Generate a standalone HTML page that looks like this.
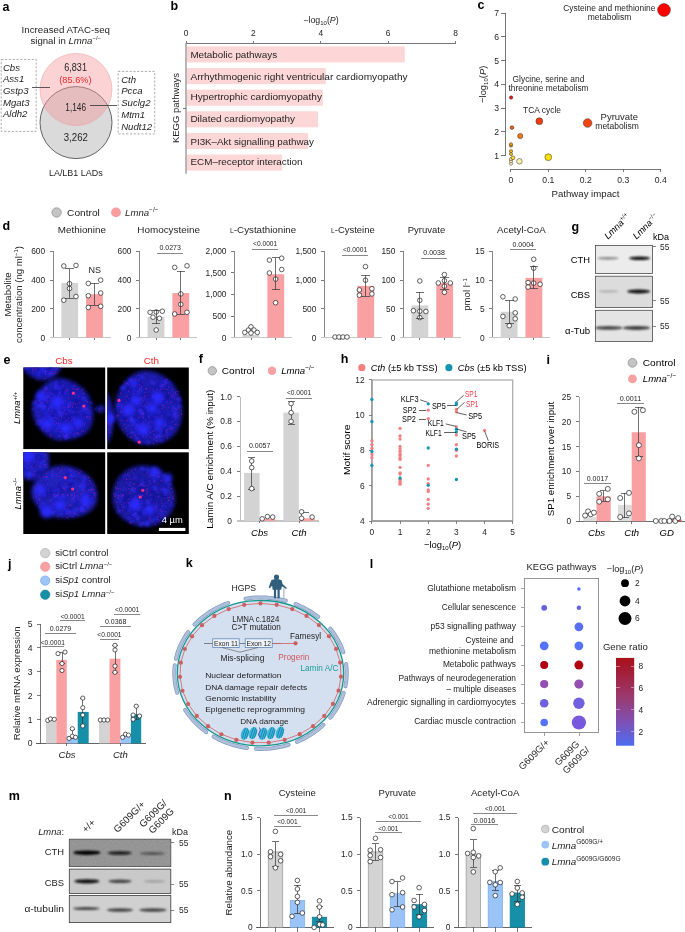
<!DOCTYPE html>
<html><head><meta charset="utf-8"><title>Figure</title>
<style>
html,body{margin:0;padding:0;background:#fff;}
svg{display:block;font-family:"Liberation Sans",sans-serif;will-change:transform;}
</style></head>
<body>
<svg width="685" height="932" viewBox="0 0 685 932">
<rect width="685" height="932" fill="#fff"/>
<text x="2.50" y="10.50" font-size="12.5" fill="#000" font-weight="bold">a</text>
<text x="65.80" y="32.80" font-size="9.6" text-anchor="middle" fill="#242424" textLength="88.4" lengthAdjust="spacingAndGlyphs">Increased ATAC-seq</text>
<text x="65.80" y="43.90" font-size="9.6" text-anchor="middle" fill="#242424">signal in <tspan font-style="italic">Lmna</tspan><tspan font-size="6" dy="-3.5">−/−</tspan></text>
<circle cx="76.00" cy="122.60" r="36.00" fill="#dadada" stroke="#555" stroke-width="0.9" />
<circle cx="76.00" cy="89.40" r="36.00" fill="rgba(248,150,152,0.42)" stroke="rgba(240,140,140,0.55)" stroke-width="0.8" />
<text x="75.60" y="70.60" font-size="10.4" text-anchor="middle" fill="#242424" textLength="22.7" lengthAdjust="spacingAndGlyphs">6,831</text>
<text x="75.40" y="82.60" font-size="9.8" text-anchor="middle" fill="#f3262c" textLength="32.2" lengthAdjust="spacingAndGlyphs">(85.6%)</text>
<text x="75.70" y="111.40" font-size="10.4" text-anchor="middle" fill="#242424" textLength="20.7" lengthAdjust="spacingAndGlyphs">1,146</text>
<text x="75.90" y="141.30" font-size="10.4" text-anchor="middle" fill="#242424" textLength="24.2" lengthAdjust="spacingAndGlyphs">3,262</text>
<rect x="1.2" y="59.5" width="35" height="71.9" fill="none" stroke="#8a8a8a" stroke-width="0.7" stroke-dasharray="2.2 1.6"/>
<rect x="118.2" y="71.4" width="36.5" height="62.5" fill="none" stroke="#8a8a8a" stroke-width="0.7" stroke-dasharray="2.2 1.6"/>
<text x="2.90" y="70.60" font-size="9.6" fill="#242424" font-style="italic">Cbs</text>
<text x="2.90" y="82.25" font-size="9.6" fill="#242424" font-style="italic">Ass1</text>
<text x="2.90" y="93.90" font-size="9.6" fill="#242424" font-style="italic">Gstp3</text>
<text x="2.90" y="105.55" font-size="9.6" fill="#242424" font-style="italic">Mgat3</text>
<text x="2.90" y="117.20" font-size="9.6" fill="#242424" font-style="italic">Aldh2</text>
<text x="121.20" y="82.50" font-size="9.6" fill="#242424" font-style="italic">Cth</text>
<text x="121.20" y="94.30" font-size="9.6" fill="#242424" font-style="italic">Pcca</text>
<text x="121.20" y="106.10" font-size="9.6" fill="#242424" font-style="italic">Suclg2</text>
<text x="121.20" y="117.90" font-size="9.6" fill="#242424" font-style="italic">Mtm1</text>
<text x="121.20" y="129.70" font-size="9.6" fill="#242424" font-style="italic">Nudt12</text>
<line x1="32.40" y1="87.00" x2="50.40" y2="87.00" stroke="#333" stroke-width="0.8"  shape-rendering="crispEdges"/>
<line x1="90.20" y1="105.10" x2="116.80" y2="105.10" stroke="#333" stroke-width="0.8"  shape-rendering="crispEdges"/>
<text x="75.80" y="176.10" font-size="9.0" text-anchor="middle" fill="#242424" textLength="53.7" lengthAdjust="spacingAndGlyphs">LA/LB1 LADs</text>
<text x="170.50" y="10.30" font-size="12.5" fill="#000" font-weight="bold">b</text>
<text x="321.00" y="22.70" font-size="8.8" text-anchor="middle" fill="#242424">−log<tspan font-size="6" dy="2">10</tspan><tspan dy="-2">(</tspan><tspan font-style="italic">P</tspan>)</text>
<text x="186.00" y="36.00" font-size="8.4" text-anchor="middle" fill="#242424">0</text>
<line x1="186.00" y1="41.00" x2="186.00" y2="43.00" stroke="#555" stroke-width="0.8"  shape-rendering="crispEdges"/>
<text x="253.40" y="36.00" font-size="8.4" text-anchor="middle" fill="#242424">2</text>
<line x1="253.40" y1="41.00" x2="253.40" y2="43.00" stroke="#555" stroke-width="0.8"  shape-rendering="crispEdges"/>
<text x="320.80" y="36.00" font-size="8.4" text-anchor="middle" fill="#242424">4</text>
<line x1="320.80" y1="41.00" x2="320.80" y2="43.00" stroke="#555" stroke-width="0.8"  shape-rendering="crispEdges"/>
<text x="388.20" y="36.00" font-size="8.4" text-anchor="middle" fill="#242424">6</text>
<line x1="388.20" y1="41.00" x2="388.20" y2="43.00" stroke="#555" stroke-width="0.8"  shape-rendering="crispEdges"/>
<text x="455.60" y="36.00" font-size="8.4" text-anchor="middle" fill="#242424">8</text>
<line x1="455.60" y1="41.00" x2="455.60" y2="43.00" stroke="#555" stroke-width="0.8"  shape-rendering="crispEdges"/>
<line x1="186.00" y1="43.00" x2="455.60" y2="43.00" stroke="#555" stroke-width="0.8"  shape-rendering="crispEdges"/>
<rect x="186.50" y="46.40" width="218.30" height="16.10" fill="#fdd7d8" />
<text x="190.40" y="57.80" font-size="9.6" fill="#242424" textLength="86.7" lengthAdjust="spacingAndGlyphs">Metabolic pathways</text>
<rect x="186.50" y="68.03" width="139.30" height="16.10" fill="#fdd7d8" />
<text x="190.40" y="79.90" font-size="9.6" fill="#242424" textLength="217.2" lengthAdjust="spacingAndGlyphs">Arrhythmogenic right ventricular cardiomyopathy</text>
<rect x="186.50" y="89.66" width="136.30" height="16.10" fill="#fdd7d8" />
<text x="190.40" y="99.50" font-size="9.6" fill="#242424" textLength="131.6" lengthAdjust="spacingAndGlyphs">Hypertrophic cardiomyopathy</text>
<rect x="186.50" y="111.29" width="131.60" height="16.10" fill="#fdd7d8" />
<text x="190.40" y="122.40" font-size="9.6" fill="#242424" textLength="104.7" lengthAdjust="spacingAndGlyphs">Dilated cardiomyopathy</text>
<rect x="186.50" y="132.92" width="121.60" height="16.10" fill="#fdd7d8" />
<text x="190.40" y="144.60" font-size="9.6" fill="#242424" textLength="123.4" lengthAdjust="spacingAndGlyphs">PI3K–Akt signalling pathway</text>
<rect x="186.50" y="154.55" width="95.40" height="16.10" fill="#fdd7d8" />
<text x="190.40" y="164.90" font-size="9.6" fill="#242424" textLength="112.2" lengthAdjust="spacingAndGlyphs">ECM–receptor interaction</text>
<line x1="186.00" y1="43.00" x2="186.00" y2="173.70" stroke="#9a9a9a" stroke-width="1.4" />
<line x1="183.00" y1="108.00" x2="186.00" y2="108.00" stroke="#555" stroke-width="0.8"  shape-rendering="crispEdges"/>
<text x="175.20" y="108.00" font-size="9.9" text-anchor="middle" fill="#242424" transform="rotate(-90 175.20 108.00)" textLength="70.0" lengthAdjust="spacingAndGlyphs" dominant-baseline="central">KEGG pathways</text>
<text x="477.50" y="9.40" font-size="12.5" fill="#000" font-weight="bold">c</text>
<line x1="505.60" y1="13.20" x2="505.60" y2="155.40" stroke="#555" stroke-width="0.8"  shape-rendering="crispEdges"/>
<line x1="500.60" y1="155.40" x2="505.60" y2="155.40" stroke="#555" stroke-width="0.8"  shape-rendering="crispEdges"/>
<text x="499.10" y="158.50" font-size="8.6" text-anchor="end" fill="#242424">1</text>
<line x1="500.60" y1="131.70" x2="505.60" y2="131.70" stroke="#555" stroke-width="0.8"  shape-rendering="crispEdges"/>
<text x="499.10" y="134.80" font-size="8.6" text-anchor="end" fill="#242424">2</text>
<line x1="500.60" y1="108.00" x2="505.60" y2="108.00" stroke="#555" stroke-width="0.8"  shape-rendering="crispEdges"/>
<text x="499.10" y="111.10" font-size="8.6" text-anchor="end" fill="#242424">3</text>
<line x1="500.60" y1="84.30" x2="505.60" y2="84.30" stroke="#555" stroke-width="0.8"  shape-rendering="crispEdges"/>
<text x="499.10" y="87.40" font-size="8.6" text-anchor="end" fill="#242424">4</text>
<line x1="500.60" y1="60.60" x2="505.60" y2="60.60" stroke="#555" stroke-width="0.8"  shape-rendering="crispEdges"/>
<text x="499.10" y="63.70" font-size="8.6" text-anchor="end" fill="#242424">5</text>
<line x1="500.60" y1="36.90" x2="505.60" y2="36.90" stroke="#555" stroke-width="0.8"  shape-rendering="crispEdges"/>
<text x="499.10" y="40.00" font-size="8.6" text-anchor="end" fill="#242424">6</text>
<line x1="500.60" y1="13.20" x2="505.60" y2="13.20" stroke="#555" stroke-width="0.8"  shape-rendering="crispEdges"/>
<text x="499.10" y="16.30" font-size="8.6" text-anchor="end" fill="#242424">7</text>
<line x1="510.90" y1="169.40" x2="660.70" y2="169.40" stroke="#555" stroke-width="0.8"  shape-rendering="crispEdges"/>
<line x1="510.90" y1="169.40" x2="510.90" y2="172.00" stroke="#555" stroke-width="0.8"  shape-rendering="crispEdges"/>
<text x="510.90" y="182.80" font-size="8.6" text-anchor="middle" fill="#242424">0</text>
<line x1="548.35" y1="169.40" x2="548.35" y2="172.00" stroke="#555" stroke-width="0.8"  shape-rendering="crispEdges"/>
<text x="548.35" y="182.80" font-size="8.6" text-anchor="middle" fill="#242424">0.1</text>
<line x1="585.80" y1="169.40" x2="585.80" y2="172.00" stroke="#555" stroke-width="0.8"  shape-rendering="crispEdges"/>
<text x="585.80" y="182.80" font-size="8.6" text-anchor="middle" fill="#242424">0.2</text>
<line x1="623.25" y1="169.40" x2="623.25" y2="172.00" stroke="#555" stroke-width="0.8"  shape-rendering="crispEdges"/>
<text x="623.25" y="182.80" font-size="8.6" text-anchor="middle" fill="#242424">0.3</text>
<line x1="660.70" y1="169.40" x2="660.70" y2="172.00" stroke="#555" stroke-width="0.8"  shape-rendering="crispEdges"/>
<text x="660.70" y="182.80" font-size="8.6" text-anchor="middle" fill="#242424">0.4</text>
<text x="585.50" y="196.90" font-size="9.4" text-anchor="middle" fill="#242424" textLength="68.0" lengthAdjust="spacingAndGlyphs">Pathway impact</text>
<text x="486.00" y="84.30" font-size="9.4" text-anchor="middle" fill="#242424" transform="rotate(-90 486.00 84.30)">−log<tspan font-size="6" dy="2">10</tspan><tspan dy="-2">(</tspan><tspan font-style="italic">P</tspan>)</text>
<circle cx="511.00" cy="163.60" r="1.60" fill="#fbf3c9" stroke="#3a2a20" stroke-width="0.5" />
<circle cx="511.00" cy="161.20" r="1.60" fill="#fbf0b8" stroke="#3a2a20" stroke-width="0.5" />
<circle cx="511.00" cy="159.00" r="1.60" fill="#f9eaa0" stroke="#3a2a20" stroke-width="0.5" />
<circle cx="513.00" cy="157.80" r="1.90" fill="#f5de2a" stroke="#3a2a20" stroke-width="0.5" />
<circle cx="511.00" cy="154.00" r="1.60" fill="#f5c51e" stroke="#3a2a20" stroke-width="0.5" />
<circle cx="511.00" cy="151.20" r="1.60" fill="#f5b81a" stroke="#3a2a20" stroke-width="0.5" />
<circle cx="511.00" cy="145.60" r="1.60" fill="#f0a318" stroke="#3a2a20" stroke-width="0.5" />
<circle cx="511.00" cy="144.30" r="1.60" fill="#ee9a18" stroke="#3a2a20" stroke-width="0.5" />
<circle cx="519.40" cy="161.30" r="2.80" fill="#f8f0b2" stroke="#3a2a20" stroke-width="0.5" />
<circle cx="548.30" cy="157.20" r="3.40" fill="#f8e000" stroke="#3a2a20" stroke-width="0.5" />
<circle cx="520.20" cy="136.00" r="2.60" fill="#f07818" stroke="#3a2a20" stroke-width="0.5" />
<circle cx="512.00" cy="127.60" r="1.90" fill="#ec5a1a" stroke="#3a2a20" stroke-width="0.5" />
<circle cx="539.30" cy="121.20" r="3.40" fill="#f03c12" stroke="#3a2a20" stroke-width="0.5" />
<circle cx="587.60" cy="123.00" r="4.30" fill="#f24512" stroke="#3a2a20" stroke-width="0.5" />
<circle cx="511.10" cy="97.50" r="1.70" fill="#e8191c" stroke="#3a2a20" stroke-width="0.5" />
<circle cx="664.00" cy="10.00" r="6.40" fill="#ff0000" stroke="#3a2a20" stroke-width="0.5" />
<text x="609.30" y="11.30" font-size="8.4" text-anchor="middle" fill="#242424" textLength="92.0" lengthAdjust="spacingAndGlyphs">Cysteine and methionine</text>
<text x="609.50" y="20.10" font-size="8.4" text-anchor="middle" fill="#242424" textLength="43.5" lengthAdjust="spacingAndGlyphs">metabolism</text>
<text x="512.60" y="81.90" font-size="8.4" fill="#242424">Glycine, serine and</text>
<text x="508.50" y="90.80" font-size="8.4" fill="#242424">threonine metabolism</text>
<text x="542.00" y="113.40" font-size="8.4" text-anchor="middle" fill="#242424" textLength="37.9" lengthAdjust="spacingAndGlyphs">TCA cycle</text>
<text x="600.60" y="120.00" font-size="8.4" fill="#242424" textLength="37.4" lengthAdjust="spacingAndGlyphs">Pyruvate</text>
<text x="595.30" y="129.20" font-size="8.4" fill="#242424" textLength="43.5" lengthAdjust="spacingAndGlyphs">metabolism</text>
<text x="2.50" y="230.20" font-size="12.5" fill="#000" font-weight="bold">d</text>
<circle cx="56.60" cy="212.50" r="4.70" fill="#c4c4c4" stroke="#8a8a8a" stroke-width="0.7" />
<text x="67.10" y="215.60" font-size="9.6" fill="#242424" textLength="32.7" lengthAdjust="spacingAndGlyphs">Control</text>
<circle cx="116.00" cy="212.40" r="4.90" fill="#fb9c9e" />
<text x="125.10" y="215.60" font-size="9.6" fill="#242424"><tspan font-style="italic">Lmna</tspan><tspan font-size="6.53" dy="-4.03">−/−</tspan></text>
<text x="11.40" y="294.50" font-size="9.6" text-anchor="middle" fill="#242424" transform="rotate(-90 11.40 294.50)">Metabolite</text>
<text x="21.80" y="294.50" font-size="9.6" text-anchor="middle" fill="#242424" transform="rotate(-90 21.80 294.50)">concentration (ng ml<tspan font-size="6" dy="-3.5">−1</tspan><tspan dy="3.5">)</tspan></text>
<text x="470.00" y="294.50" font-size="9.6" text-anchor="middle" fill="#242424" transform="rotate(-90 470.00 294.50)">pmol l<tspan font-size="6" dy="-3.5">−1</tspan></text>
<line x1="53.00" y1="251.40" x2="53.00" y2="337.60" stroke="#6a6a6a" stroke-width="0.8"  shape-rendering="crispEdges"/>
<line x1="49.80" y1="337.60" x2="53.00" y2="337.60" stroke="#555" stroke-width="0.8"  shape-rendering="crispEdges"/>
<text x="45.20" y="340.50" font-size="8.4" text-anchor="end" fill="#242424">0</text>
<line x1="49.80" y1="308.87" x2="53.00" y2="308.87" stroke="#555" stroke-width="0.8"  shape-rendering="crispEdges"/>
<text x="45.20" y="311.77" font-size="8.4" text-anchor="end" fill="#242424">200</text>
<line x1="49.80" y1="280.13" x2="53.00" y2="280.13" stroke="#555" stroke-width="0.8"  shape-rendering="crispEdges"/>
<text x="45.20" y="283.03" font-size="8.4" text-anchor="end" fill="#242424">400</text>
<line x1="49.80" y1="251.40" x2="53.00" y2="251.40" stroke="#555" stroke-width="0.8"  shape-rendering="crispEdges"/>
<text x="45.20" y="254.30" font-size="8.4" text-anchor="end" fill="#242424">600</text>
<line x1="49.50" y1="337.60" x2="110.80" y2="337.60" stroke="#c4c4c4" stroke-width="1.2"  shape-rendering="crispEdges"/>
<line x1="69.70" y1="337.60" x2="69.70" y2="340.10" stroke="#555" stroke-width="0.8"  shape-rendering="crispEdges"/>
<line x1="94.50" y1="337.60" x2="94.50" y2="340.10" stroke="#555" stroke-width="0.8"  shape-rendering="crispEdges"/>
<rect x="61.30" y="283.01" width="16.80" height="54.59" fill="#d3d3d3" />
<rect x="86.10" y="294.21" width="16.80" height="43.39" fill="#f9a0a2" />
<circle cx="63.80" cy="266.00" r="2.30" fill="#fff" stroke="#1e1e1e" stroke-width="0.7" />
<circle cx="76.00" cy="265.40" r="2.30" fill="#fff" stroke="#1e1e1e" stroke-width="0.7" />
<circle cx="69.50" cy="283.70" r="2.30" fill="#fff" stroke="#1e1e1e" stroke-width="0.7" />
<circle cx="69.50" cy="288.50" r="2.30" fill="#fff" stroke="#1e1e1e" stroke-width="0.7" />
<circle cx="63.80" cy="300.20" r="2.30" fill="#fff" stroke="#1e1e1e" stroke-width="0.7" />
<circle cx="76.00" cy="296.50" r="2.30" fill="#fff" stroke="#1e1e1e" stroke-width="0.7" />
<circle cx="88.30" cy="283.40" r="2.30" fill="#fff" stroke="#1e1e1e" stroke-width="0.7" />
<circle cx="100.70" cy="280.10" r="2.30" fill="#fff" stroke="#1e1e1e" stroke-width="0.7" />
<circle cx="88.30" cy="295.70" r="2.30" fill="#fff" stroke="#1e1e1e" stroke-width="0.7" />
<circle cx="100.70" cy="293.00" r="2.30" fill="#fff" stroke="#1e1e1e" stroke-width="0.7" />
<circle cx="88.30" cy="307.40" r="2.30" fill="#fff" stroke="#1e1e1e" stroke-width="0.7" />
<circle cx="100.70" cy="306.30" r="2.30" fill="#fff" stroke="#1e1e1e" stroke-width="0.7" />
<text x="81.90" y="233.30" font-size="9.3" text-anchor="middle" fill="#242424" textLength="48.2" lengthAdjust="spacingAndGlyphs">Methionine</text>
<text x="94.80" y="272.90" font-size="9.0" text-anchor="middle" fill="#242424">NS</text>
<line x1="69.50" y1="268.60" x2="69.50" y2="298.10" stroke="#333" stroke-width="0.7"  shape-rendering="crispEdges"/>
<line x1="65.20" y1="268.60" x2="73.80" y2="268.60" stroke="#333" stroke-width="0.7"  shape-rendering="crispEdges"/>
<line x1="65.20" y1="298.10" x2="73.80" y2="298.10" stroke="#333" stroke-width="0.7"  shape-rendering="crispEdges"/>
<line x1="94.40" y1="283.00" x2="94.40" y2="305.40" stroke="#333" stroke-width="0.7"  shape-rendering="crispEdges"/>
<line x1="90.10" y1="283.00" x2="98.70" y2="283.00" stroke="#333" stroke-width="0.7"  shape-rendering="crispEdges"/>
<line x1="90.10" y1="305.40" x2="98.70" y2="305.40" stroke="#333" stroke-width="0.7"  shape-rendering="crispEdges"/>
<line x1="139.30" y1="251.40" x2="139.30" y2="337.60" stroke="#6a6a6a" stroke-width="0.8"  shape-rendering="crispEdges"/>
<line x1="136.10" y1="337.60" x2="139.30" y2="337.60" stroke="#555" stroke-width="0.8"  shape-rendering="crispEdges"/>
<text x="131.50" y="340.50" font-size="8.4" text-anchor="end" fill="#242424">0</text>
<line x1="136.10" y1="308.87" x2="139.30" y2="308.87" stroke="#555" stroke-width="0.8"  shape-rendering="crispEdges"/>
<text x="131.50" y="311.77" font-size="8.4" text-anchor="end" fill="#242424">200</text>
<line x1="136.10" y1="280.13" x2="139.30" y2="280.13" stroke="#555" stroke-width="0.8"  shape-rendering="crispEdges"/>
<text x="131.50" y="283.03" font-size="8.4" text-anchor="end" fill="#242424">400</text>
<line x1="136.10" y1="251.40" x2="139.30" y2="251.40" stroke="#555" stroke-width="0.8"  shape-rendering="crispEdges"/>
<text x="131.50" y="254.30" font-size="8.4" text-anchor="end" fill="#242424">600</text>
<line x1="135.80" y1="337.60" x2="197.10" y2="337.60" stroke="#c4c4c4" stroke-width="1.2"  shape-rendering="crispEdges"/>
<line x1="156.00" y1="337.60" x2="156.00" y2="340.10" stroke="#555" stroke-width="0.8"  shape-rendering="crispEdges"/>
<line x1="180.80" y1="337.60" x2="180.80" y2="340.10" stroke="#555" stroke-width="0.8"  shape-rendering="crispEdges"/>
<rect x="147.60" y="316.91" width="16.80" height="20.69" fill="#d3d3d3" />
<rect x="172.40" y="293.06" width="16.80" height="44.54" fill="#f9a0a2" />
<circle cx="150.10" cy="312.30" r="2.30" fill="#fff" stroke="#1e1e1e" stroke-width="0.7" />
<circle cx="156.20" cy="312.00" r="2.30" fill="#fff" stroke="#1e1e1e" stroke-width="0.7" />
<circle cx="162.30" cy="311.20" r="2.30" fill="#fff" stroke="#1e1e1e" stroke-width="0.7" />
<circle cx="153.00" cy="317.20" r="2.30" fill="#fff" stroke="#1e1e1e" stroke-width="0.7" />
<circle cx="159.40" cy="318.30" r="2.30" fill="#fff" stroke="#1e1e1e" stroke-width="0.7" />
<circle cx="156.20" cy="330.00" r="2.30" fill="#fff" stroke="#1e1e1e" stroke-width="0.7" />
<circle cx="174.70" cy="267.40" r="2.30" fill="#fff" stroke="#1e1e1e" stroke-width="0.7" />
<circle cx="187.00" cy="265.80" r="2.30" fill="#fff" stroke="#1e1e1e" stroke-width="0.7" />
<circle cx="180.80" cy="293.90" r="2.30" fill="#fff" stroke="#1e1e1e" stroke-width="0.7" />
<circle cx="180.80" cy="304.30" r="2.30" fill="#fff" stroke="#1e1e1e" stroke-width="0.7" />
<circle cx="174.70" cy="314.00" r="2.30" fill="#fff" stroke="#1e1e1e" stroke-width="0.7" />
<circle cx="187.00" cy="312.30" r="2.30" fill="#fff" stroke="#1e1e1e" stroke-width="0.7" />
<text x="168.60" y="233.30" font-size="9.3" text-anchor="middle" fill="#242424" textLength="62.6" lengthAdjust="spacingAndGlyphs">Homocysteine</text>
<line x1="157.20" y1="253.20" x2="183.10" y2="253.20" stroke="#606060" stroke-width="0.75"  shape-rendering="crispEdges"/>
<text x="170.15" y="249.70" font-size="6.4" text-anchor="middle" fill="#242424" textLength="21.5" lengthAdjust="spacingAndGlyphs">0.0273</text>
<line x1="156.00" y1="310.00" x2="156.00" y2="323.60" stroke="#333" stroke-width="0.7"  shape-rendering="crispEdges"/>
<line x1="151.70" y1="310.00" x2="160.30" y2="310.00" stroke="#333" stroke-width="0.7"  shape-rendering="crispEdges"/>
<line x1="151.70" y1="323.60" x2="160.30" y2="323.60" stroke="#333" stroke-width="0.7"  shape-rendering="crispEdges"/>
<line x1="180.80" y1="271.40" x2="180.80" y2="314.40" stroke="#333" stroke-width="0.7"  shape-rendering="crispEdges"/>
<line x1="176.50" y1="271.40" x2="185.10" y2="271.40" stroke="#333" stroke-width="0.7"  shape-rendering="crispEdges"/>
<line x1="176.50" y1="314.40" x2="185.10" y2="314.40" stroke="#333" stroke-width="0.7"  shape-rendering="crispEdges"/>
<line x1="234.30" y1="251.40" x2="234.30" y2="337.60" stroke="#6a6a6a" stroke-width="0.8"  shape-rendering="crispEdges"/>
<line x1="231.10" y1="337.60" x2="234.30" y2="337.60" stroke="#555" stroke-width="0.8"  shape-rendering="crispEdges"/>
<text x="226.50" y="340.50" font-size="8.4" text-anchor="end" fill="#242424">0</text>
<line x1="231.10" y1="316.05" x2="234.30" y2="316.05" stroke="#555" stroke-width="0.8"  shape-rendering="crispEdges"/>
<text x="226.50" y="318.95" font-size="8.4" text-anchor="end" fill="#242424">500</text>
<line x1="231.10" y1="294.50" x2="234.30" y2="294.50" stroke="#555" stroke-width="0.8"  shape-rendering="crispEdges"/>
<text x="226.50" y="297.40" font-size="8.4" text-anchor="end" fill="#242424">1,000</text>
<line x1="231.10" y1="272.95" x2="234.30" y2="272.95" stroke="#555" stroke-width="0.8"  shape-rendering="crispEdges"/>
<text x="226.50" y="275.85" font-size="8.4" text-anchor="end" fill="#242424">1,500</text>
<line x1="231.10" y1="251.40" x2="234.30" y2="251.40" stroke="#555" stroke-width="0.8"  shape-rendering="crispEdges"/>
<text x="226.50" y="254.30" font-size="8.4" text-anchor="end" fill="#242424">2,000</text>
<line x1="230.80" y1="337.60" x2="292.10" y2="337.60" stroke="#c4c4c4" stroke-width="1.2"  shape-rendering="crispEdges"/>
<line x1="251.00" y1="337.60" x2="251.00" y2="340.10" stroke="#555" stroke-width="0.8"  shape-rendering="crispEdges"/>
<line x1="275.80" y1="337.60" x2="275.80" y2="340.10" stroke="#555" stroke-width="0.8"  shape-rendering="crispEdges"/>
<rect x="242.60" y="335.01" width="16.80" height="2.59" fill="#d3d3d3" />
<rect x="267.40" y="274.24" width="16.80" height="63.36" fill="#f9a0a2" />
<circle cx="244.80" cy="332.40" r="2.30" fill="#fff" stroke="#1e1e1e" stroke-width="0.7" />
<circle cx="248.50" cy="330.00" r="2.30" fill="#fff" stroke="#1e1e1e" stroke-width="0.7" />
<circle cx="251.00" cy="326.80" r="2.30" fill="#fff" stroke="#1e1e1e" stroke-width="0.7" />
<circle cx="254.00" cy="330.00" r="2.30" fill="#fff" stroke="#1e1e1e" stroke-width="0.7" />
<circle cx="257.30" cy="332.40" r="2.30" fill="#fff" stroke="#1e1e1e" stroke-width="0.7" />
<circle cx="251.00" cy="333.00" r="2.30" fill="#fff" stroke="#1e1e1e" stroke-width="0.7" />
<circle cx="269.40" cy="260.10" r="2.30" fill="#fff" stroke="#1e1e1e" stroke-width="0.7" />
<circle cx="281.70" cy="258.20" r="2.30" fill="#fff" stroke="#1e1e1e" stroke-width="0.7" />
<circle cx="269.40" cy="273.00" r="2.30" fill="#fff" stroke="#1e1e1e" stroke-width="0.7" />
<circle cx="281.70" cy="269.50" r="2.30" fill="#fff" stroke="#1e1e1e" stroke-width="0.7" />
<circle cx="275.60" cy="279.10" r="2.30" fill="#fff" stroke="#1e1e1e" stroke-width="0.7" />
<circle cx="275.60" cy="302.70" r="2.30" fill="#fff" stroke="#1e1e1e" stroke-width="0.7" />
<text x="263.10" y="233.30" font-size="9.3" text-anchor="middle" fill="#242424" textLength="66.2" lengthAdjust="spacingAndGlyphs"><tspan font-size="6.6">L</tspan>-Cystathionine</text>
<line x1="252.20" y1="249.40" x2="278.10" y2="249.40" stroke="#606060" stroke-width="0.75"  shape-rendering="crispEdges"/>
<text x="265.15" y="245.70" font-size="6.4" text-anchor="middle" fill="#242424" textLength="24.2" lengthAdjust="spacingAndGlyphs">&lt;0.0001</text>
<line x1="275.80" y1="257.70" x2="275.80" y2="289.90" stroke="#333" stroke-width="0.7"  shape-rendering="crispEdges"/>
<line x1="271.50" y1="257.70" x2="280.10" y2="257.70" stroke="#333" stroke-width="0.7"  shape-rendering="crispEdges"/>
<line x1="271.50" y1="289.90" x2="280.10" y2="289.90" stroke="#333" stroke-width="0.7"  shape-rendering="crispEdges"/>
<line x1="324.20" y1="251.40" x2="324.20" y2="337.60" stroke="#6a6a6a" stroke-width="0.8"  shape-rendering="crispEdges"/>
<line x1="321.00" y1="337.60" x2="324.20" y2="337.60" stroke="#555" stroke-width="0.8"  shape-rendering="crispEdges"/>
<text x="316.40" y="340.50" font-size="8.4" text-anchor="end" fill="#242424">0</text>
<line x1="321.00" y1="308.87" x2="324.20" y2="308.87" stroke="#555" stroke-width="0.8"  shape-rendering="crispEdges"/>
<text x="316.40" y="311.77" font-size="8.4" text-anchor="end" fill="#242424">500</text>
<line x1="321.00" y1="280.13" x2="324.20" y2="280.13" stroke="#555" stroke-width="0.8"  shape-rendering="crispEdges"/>
<text x="316.40" y="283.03" font-size="8.4" text-anchor="end" fill="#242424">1,000</text>
<line x1="321.00" y1="251.40" x2="324.20" y2="251.40" stroke="#555" stroke-width="0.8"  shape-rendering="crispEdges"/>
<text x="316.40" y="254.30" font-size="8.4" text-anchor="end" fill="#242424">1,500</text>
<line x1="320.70" y1="337.60" x2="382.00" y2="337.60" stroke="#c4c4c4" stroke-width="1.2"  shape-rendering="crispEdges"/>
<line x1="340.90" y1="337.60" x2="340.90" y2="340.10" stroke="#555" stroke-width="0.8"  shape-rendering="crispEdges"/>
<line x1="365.70" y1="337.60" x2="365.70" y2="340.10" stroke="#555" stroke-width="0.8"  shape-rendering="crispEdges"/>
<rect x="357.30" y="285.88" width="16.80" height="51.72" fill="#f9a0a2" />
<circle cx="335.00" cy="337.00" r="2.30" fill="#fff" stroke="#1e1e1e" stroke-width="0.7" />
<circle cx="339.00" cy="337.00" r="2.30" fill="#fff" stroke="#1e1e1e" stroke-width="0.7" />
<circle cx="343.00" cy="337.00" r="2.30" fill="#fff" stroke="#1e1e1e" stroke-width="0.7" />
<circle cx="347.00" cy="337.00" r="2.30" fill="#fff" stroke="#1e1e1e" stroke-width="0.7" />
<circle cx="365.50" cy="266.60" r="2.30" fill="#fff" stroke="#1e1e1e" stroke-width="0.7" />
<circle cx="365.50" cy="280.20" r="2.30" fill="#fff" stroke="#1e1e1e" stroke-width="0.7" />
<circle cx="359.40" cy="289.90" r="2.30" fill="#fff" stroke="#1e1e1e" stroke-width="0.7" />
<circle cx="371.90" cy="288.70" r="2.30" fill="#fff" stroke="#1e1e1e" stroke-width="0.7" />
<circle cx="359.40" cy="295.20" r="2.30" fill="#fff" stroke="#1e1e1e" stroke-width="0.7" />
<circle cx="371.90" cy="293.90" r="2.30" fill="#fff" stroke="#1e1e1e" stroke-width="0.7" />
<text x="352.90" y="233.30" font-size="9.3" text-anchor="middle" fill="#242424" textLength="43.8" lengthAdjust="spacingAndGlyphs"><tspan font-size="6.6">L</tspan>-Cysteine</text>
<line x1="342.10" y1="255.00" x2="368.00" y2="255.00" stroke="#606060" stroke-width="0.75"  shape-rendering="crispEdges"/>
<text x="355.05" y="251.80" font-size="6.4" text-anchor="middle" fill="#242424" textLength="24.2" lengthAdjust="spacingAndGlyphs">&lt;0.0001</text>
<line x1="365.70" y1="275.10" x2="365.70" y2="296.30" stroke="#333" stroke-width="0.7"  shape-rendering="crispEdges"/>
<line x1="361.40" y1="275.10" x2="370.00" y2="275.10" stroke="#333" stroke-width="0.7"  shape-rendering="crispEdges"/>
<line x1="361.40" y1="296.30" x2="370.00" y2="296.30" stroke="#333" stroke-width="0.7"  shape-rendering="crispEdges"/>
<line x1="403.20" y1="251.40" x2="403.20" y2="337.60" stroke="#6a6a6a" stroke-width="0.8"  shape-rendering="crispEdges"/>
<line x1="400.00" y1="337.60" x2="403.20" y2="337.60" stroke="#555" stroke-width="0.8"  shape-rendering="crispEdges"/>
<text x="395.40" y="340.50" font-size="8.4" text-anchor="end" fill="#242424">0</text>
<line x1="400.00" y1="308.87" x2="403.20" y2="308.87" stroke="#555" stroke-width="0.8"  shape-rendering="crispEdges"/>
<text x="395.40" y="311.77" font-size="8.4" text-anchor="end" fill="#242424">50</text>
<line x1="400.00" y1="280.13" x2="403.20" y2="280.13" stroke="#555" stroke-width="0.8"  shape-rendering="crispEdges"/>
<text x="395.40" y="283.03" font-size="8.4" text-anchor="end" fill="#242424">100</text>
<line x1="400.00" y1="251.40" x2="403.20" y2="251.40" stroke="#555" stroke-width="0.8"  shape-rendering="crispEdges"/>
<text x="395.40" y="254.30" font-size="8.4" text-anchor="end" fill="#242424">150</text>
<line x1="399.70" y1="337.60" x2="461.00" y2="337.60" stroke="#c4c4c4" stroke-width="1.2"  shape-rendering="crispEdges"/>
<line x1="419.90" y1="337.60" x2="419.90" y2="340.10" stroke="#555" stroke-width="0.8"  shape-rendering="crispEdges"/>
<line x1="444.70" y1="337.60" x2="444.70" y2="340.10" stroke="#555" stroke-width="0.8"  shape-rendering="crispEdges"/>
<rect x="411.50" y="305.42" width="16.80" height="32.18" fill="#d3d3d3" />
<rect x="436.30" y="283.01" width="16.80" height="54.59" fill="#f9a0a2" />
<circle cx="419.80" cy="281.00" r="2.30" fill="#fff" stroke="#1e1e1e" stroke-width="0.7" />
<circle cx="419.80" cy="300.30" r="2.30" fill="#fff" stroke="#1e1e1e" stroke-width="0.7" />
<circle cx="413.40" cy="310.70" r="2.30" fill="#fff" stroke="#1e1e1e" stroke-width="0.7" />
<circle cx="419.80" cy="311.20" r="2.30" fill="#fff" stroke="#1e1e1e" stroke-width="0.7" />
<circle cx="425.90" cy="311.50" r="2.30" fill="#fff" stroke="#1e1e1e" stroke-width="0.7" />
<circle cx="419.80" cy="317.60" r="2.30" fill="#fff" stroke="#1e1e1e" stroke-width="0.7" />
<circle cx="444.40" cy="274.60" r="2.30" fill="#fff" stroke="#1e1e1e" stroke-width="0.7" />
<circle cx="444.40" cy="280.70" r="2.30" fill="#fff" stroke="#1e1e1e" stroke-width="0.7" />
<circle cx="438.30" cy="283.00" r="2.30" fill="#fff" stroke="#1e1e1e" stroke-width="0.7" />
<circle cx="450.30" cy="283.00" r="2.30" fill="#fff" stroke="#1e1e1e" stroke-width="0.7" />
<circle cx="444.40" cy="286.20" r="2.30" fill="#fff" stroke="#1e1e1e" stroke-width="0.7" />
<circle cx="444.40" cy="292.30" r="2.30" fill="#fff" stroke="#1e1e1e" stroke-width="0.7" />
<text x="426.50" y="233.30" font-size="9.3" text-anchor="middle" fill="#242424" textLength="37.5" lengthAdjust="spacingAndGlyphs">Pyruvate</text>
<line x1="421.10" y1="258.50" x2="447.00" y2="258.50" stroke="#606060" stroke-width="0.75"  shape-rendering="crispEdges"/>
<text x="434.05" y="255.30" font-size="6.4" text-anchor="middle" fill="#242424" textLength="21.5" lengthAdjust="spacingAndGlyphs">0.0038</text>
<line x1="419.90" y1="292.30" x2="419.90" y2="318.30" stroke="#333" stroke-width="0.7"  shape-rendering="crispEdges"/>
<line x1="415.60" y1="292.30" x2="424.20" y2="292.30" stroke="#333" stroke-width="0.7"  shape-rendering="crispEdges"/>
<line x1="415.60" y1="318.30" x2="424.20" y2="318.30" stroke="#333" stroke-width="0.7"  shape-rendering="crispEdges"/>
<line x1="444.70" y1="277.00" x2="444.70" y2="289.40" stroke="#333" stroke-width="0.7"  shape-rendering="crispEdges"/>
<line x1="440.40" y1="277.00" x2="449.00" y2="277.00" stroke="#333" stroke-width="0.7"  shape-rendering="crispEdges"/>
<line x1="440.40" y1="289.40" x2="449.00" y2="289.40" stroke="#333" stroke-width="0.7"  shape-rendering="crispEdges"/>
<line x1="492.40" y1="251.40" x2="492.40" y2="337.60" stroke="#6a6a6a" stroke-width="0.8"  shape-rendering="crispEdges"/>
<line x1="489.20" y1="337.60" x2="492.40" y2="337.60" stroke="#555" stroke-width="0.8"  shape-rendering="crispEdges"/>
<text x="484.60" y="340.50" font-size="8.4" text-anchor="end" fill="#242424">0</text>
<line x1="489.20" y1="308.87" x2="492.40" y2="308.87" stroke="#555" stroke-width="0.8"  shape-rendering="crispEdges"/>
<text x="484.60" y="311.77" font-size="8.4" text-anchor="end" fill="#242424">5</text>
<line x1="489.20" y1="280.13" x2="492.40" y2="280.13" stroke="#555" stroke-width="0.8"  shape-rendering="crispEdges"/>
<text x="484.60" y="283.03" font-size="8.4" text-anchor="end" fill="#242424">10</text>
<line x1="489.20" y1="251.40" x2="492.40" y2="251.40" stroke="#555" stroke-width="0.8"  shape-rendering="crispEdges"/>
<text x="484.60" y="254.30" font-size="8.4" text-anchor="end" fill="#242424">15</text>
<line x1="488.90" y1="337.60" x2="550.20" y2="337.60" stroke="#c4c4c4" stroke-width="1.2"  shape-rendering="crispEdges"/>
<line x1="509.10" y1="337.60" x2="509.10" y2="340.10" stroke="#555" stroke-width="0.8"  shape-rendering="crispEdges"/>
<line x1="533.90" y1="337.60" x2="533.90" y2="340.10" stroke="#555" stroke-width="0.8"  shape-rendering="crispEdges"/>
<rect x="500.70" y="311.74" width="16.80" height="25.86" fill="#d3d3d3" />
<rect x="525.50" y="277.83" width="16.80" height="59.77" fill="#f9a0a2" />
<circle cx="502.90" cy="296.80" r="2.30" fill="#fff" stroke="#1e1e1e" stroke-width="0.7" />
<circle cx="515.20" cy="299.00" r="2.30" fill="#fff" stroke="#1e1e1e" stroke-width="0.7" />
<circle cx="515.20" cy="312.80" r="2.30" fill="#fff" stroke="#1e1e1e" stroke-width="0.7" />
<circle cx="502.90" cy="316.40" r="2.30" fill="#fff" stroke="#1e1e1e" stroke-width="0.7" />
<circle cx="515.20" cy="318.80" r="2.30" fill="#fff" stroke="#1e1e1e" stroke-width="0.7" />
<circle cx="509.30" cy="325.70" r="2.30" fill="#fff" stroke="#1e1e1e" stroke-width="0.7" />
<circle cx="533.70" cy="259.30" r="2.30" fill="#fff" stroke="#1e1e1e" stroke-width="0.7" />
<circle cx="533.70" cy="268.20" r="2.30" fill="#fff" stroke="#1e1e1e" stroke-width="0.7" />
<circle cx="528.10" cy="282.60" r="2.30" fill="#fff" stroke="#1e1e1e" stroke-width="0.7" />
<circle cx="533.70" cy="283.10" r="2.30" fill="#fff" stroke="#1e1e1e" stroke-width="0.7" />
<circle cx="540.10" cy="284.20" r="2.30" fill="#fff" stroke="#1e1e1e" stroke-width="0.7" />
<circle cx="528.10" cy="287.10" r="2.30" fill="#fff" stroke="#1e1e1e" stroke-width="0.7" />
<text x="521.40" y="233.30" font-size="9.3" text-anchor="middle" fill="#242424" textLength="48.6" lengthAdjust="spacingAndGlyphs">Acetyl-CoA</text>
<line x1="510.30" y1="249.90" x2="536.20" y2="249.90" stroke="#606060" stroke-width="0.75"  shape-rendering="crispEdges"/>
<text x="523.25" y="246.50" font-size="6.4" text-anchor="middle" fill="#242424" textLength="21.5" lengthAdjust="spacingAndGlyphs">0.0004</text>
<line x1="509.30" y1="300.30" x2="509.30" y2="323.60" stroke="#333" stroke-width="0.7"  shape-rendering="crispEdges"/>
<line x1="505.00" y1="300.30" x2="513.60" y2="300.30" stroke="#333" stroke-width="0.7"  shape-rendering="crispEdges"/>
<line x1="505.00" y1="323.60" x2="513.60" y2="323.60" stroke="#333" stroke-width="0.7"  shape-rendering="crispEdges"/>
<line x1="533.90" y1="266.30" x2="533.90" y2="288.70" stroke="#333" stroke-width="0.7"  shape-rendering="crispEdges"/>
<line x1="529.60" y1="266.30" x2="538.20" y2="266.30" stroke="#333" stroke-width="0.7"  shape-rendering="crispEdges"/>
<line x1="529.60" y1="288.70" x2="538.20" y2="288.70" stroke="#333" stroke-width="0.7"  shape-rendering="crispEdges"/>
<defs>
<filter id="bl1" x="-50%" y="-50%" width="200%" height="200%"><feGaussianBlur stdDeviation="1.1"/></filter>
<filter id="bl2" x="-50%" y="-50%" width="200%" height="200%"><feGaussianBlur stdDeviation="2.2"/></filter>
<filter id="bl3" x="-50%" y="-50%" width="200%" height="200%"><feGaussianBlur stdDeviation="4"/></filter>
<filter id="bl05" x="-50%" y="-50%" width="200%" height="200%"><feGaussianBlur stdDeviation="0.6"/></filter>
<clipPath id="e1"><rect x="23.3" y="367.5" width="81.9" height="81.6"/></clipPath>
<clipPath id="e2"><rect x="107.2" y="367.5" width="81.6" height="81.6"/></clipPath>
<clipPath id="e3"><rect x="23.3" y="452.3" width="81.9" height="81.7"/></clipPath>
<clipPath id="e4"><rect x="107.2" y="452.3" width="81.6" height="81.7"/></clipPath>
<linearGradient id="gr" x1="0" y1="0" x2="0" y2="1">
<stop offset="0" stop-color="#a80f1a"/><stop offset="0.45" stop-color="#9a3a70"/><stop offset="0.75" stop-color="#7b52b8"/><stop offset="1" stop-color="#4d6cf2"/>
</linearGradient>
</defs>
<text x="3.50" y="364.00" font-size="12.5" fill="#000" font-weight="bold">e</text>
<text x="63.90" y="363.70" font-size="9.8" text-anchor="middle" fill="#ff2626">Cbs</text>
<text x="151.40" y="363.70" font-size="9.8" text-anchor="middle" fill="#ff2626">Cth</text>
<text x="20.40" y="408.00" font-size="9.4" text-anchor="middle" transform="rotate(-90 20.40 408.00)"><tspan font-style="italic">Lmna</tspan><tspan font-size="6" dy="-3.5">+/+</tspan></text>
<text x="20.90" y="493.50" font-size="9.4" text-anchor="middle" transform="rotate(-90 20.90 493.50)"><tspan font-style="italic">Lmna</tspan><tspan font-size="6" dy="-3.5">−/−</tspan></text>
<rect x="23.3" y="367.5" width="81.9" height="81.6" fill="#000"/>
<g clip-path="url(#e1)">
<path d="M60.8,362.0 L60.9,366.1 L59.7,370.1 L57.3,373.6 L54.1,376.4 L50.4,378.6 L46.3,379.8 L42.0,380.0 L37.9,379.2 L34.0,377.7 L30.5,375.6 L27.3,373.1 L24.8,369.9 L23.4,366.0 L23.1,362.0 L23.7,358.1 L25.0,354.2 L27.0,350.6 L29.9,347.6 L33.5,345.4 L37.7,344.2 L42.0,343.8 L46.3,344.3 L50.3,345.7 L53.7,348.1 L56.3,351.2 L58.2,354.6 L59.8,358.2Z" fill="#2222c8" filter="url(#bl2)"/>
<path d="M92.8,410.0 L93.2,416.9 L92.0,424.0 L88.5,430.4 L83.0,435.0 L76.4,437.8 L69.7,439.3 L63.0,439.9 L56.3,439.4 L49.9,437.2 L44.4,433.3 L39.8,428.5 L36.1,423.0 L33.3,416.8 L32.3,410.0 L33.3,403.2 L35.8,396.9 L39.3,391.1 L43.6,385.7 L49.1,381.1 L55.8,378.5 L63.0,378.5 L69.8,380.4 L75.8,383.4 L81.2,387.1 L85.9,391.8 L89.3,397.3 L91.5,403.5Z" fill="#1e1eb8" filter="url(#bl2)"/>
<path d="M106.0,409.0 L105.9,409.8 L105.5,410.5 L104.9,411.2 L104.1,411.7 L103.2,412.2 L102.1,412.4 L101.0,412.5 L99.9,412.4 L98.8,412.2 L97.9,411.7 L97.1,411.2 L96.5,410.5 L96.1,409.8 L96.0,409.0 L96.1,408.2 L96.5,407.5 L97.1,406.8 L97.9,406.3 L98.8,405.8 L99.9,405.6 L101.0,405.5 L102.1,405.6 L103.2,405.8 L104.1,406.3 L104.9,406.8 L105.5,407.5 L105.9,408.2Z" fill="#1a1aa0" filter="url(#bl2)"/>
<circle cx="38.8" cy="368.0" r="1.3" fill="#12128a" opacity="0.55" filter="url(#bl1)"/>
<circle cx="31.3" cy="359.7" r="2.5" fill="#12128a" opacity="0.55" filter="url(#bl1)"/>
<circle cx="43.2" cy="366.9" r="1.3" fill="#3232ff" opacity="0.55" filter="url(#bl1)"/>
<circle cx="52.0" cy="368.1" r="1.4" fill="#1c1cb0" opacity="0.55" filter="url(#bl1)"/>
<circle cx="44.4" cy="375.5" r="2.0" fill="#12128a" opacity="0.55" filter="url(#bl1)"/>
<circle cx="27.7" cy="372.3" r="2.0" fill="#12128a" opacity="0.55" filter="url(#bl1)"/>
<circle cx="49.9" cy="370.3" r="1.4" fill="#1c1cb0" opacity="0.55" filter="url(#bl1)"/>
<circle cx="36.1" cy="376.6" r="1.3" fill="#161696" opacity="0.55" filter="url(#bl1)"/>
<circle cx="34.9" cy="358.8" r="2.0" fill="#12128a" opacity="0.55" filter="url(#bl1)"/>
<circle cx="46.1" cy="363.6" r="1.9" fill="#161696" opacity="0.55" filter="url(#bl1)"/>
<circle cx="26.3" cy="359.0" r="2.0" fill="#3232ff" opacity="0.55" filter="url(#bl1)"/>
<circle cx="32.5" cy="364.7" r="2.2" fill="#161696" opacity="0.55" filter="url(#bl1)"/>
<circle cx="42.5" cy="375.1" r="1.9" fill="#1c1cb0" opacity="0.55" filter="url(#bl1)"/>
<circle cx="35.2" cy="371.6" r="2.6" fill="#1c1cb0" opacity="0.55" filter="url(#bl1)"/>
<circle cx="50.7" cy="369.5" r="1.4" fill="#2c2cf0" opacity="0.55" filter="url(#bl1)"/>
<circle cx="38.4" cy="362.2" r="2.3" fill="#12128a" opacity="0.55" filter="url(#bl1)"/>
<circle cx="26.7" cy="354.8" r="1.7" fill="#2c2cf0" opacity="0.55" filter="url(#bl1)"/>
<circle cx="34.4" cy="371.8" r="1.3" fill="#3232ff" opacity="0.55" filter="url(#bl1)"/>
<circle cx="49.9" cy="367.0" r="1.3" fill="#12128a" opacity="0.55" filter="url(#bl1)"/>
<circle cx="37.6" cy="348.8" r="1.6" fill="#3232ff" opacity="0.55" filter="url(#bl1)"/>
<circle cx="30.8" cy="371.3" r="2.5" fill="#12128a" opacity="0.55" filter="url(#bl1)"/>
<circle cx="33.2" cy="372.6" r="1.3" fill="#3232ff" opacity="0.55" filter="url(#bl1)"/>
<circle cx="42.7" cy="355.8" r="1.8" fill="#161696" opacity="0.55" filter="url(#bl1)"/>
<circle cx="53.1" cy="355.9" r="1.8" fill="#161696" opacity="0.55" filter="url(#bl1)"/>
<circle cx="25.7" cy="357.0" r="2.4" fill="#3232ff" opacity="0.55" filter="url(#bl1)"/>
<circle cx="39.9" cy="372.9" r="2.2" fill="#2c2cf0" opacity="0.55" filter="url(#bl1)"/>
<circle cx="35.6" cy="367.7" r="1.4" fill="#12128a" opacity="0.55" filter="url(#bl1)"/>
<circle cx="43.0" cy="370.3" r="2.4" fill="#3232ff" opacity="0.55" filter="url(#bl1)"/>
<circle cx="46.0" cy="370.4" r="1.8" fill="#161696" opacity="0.55" filter="url(#bl1)"/>
<circle cx="32.7" cy="371.5" r="2.2" fill="#161696" opacity="0.55" filter="url(#bl1)"/>
<circle cx="27.7" cy="360.7" r="1.8" fill="#12128a" opacity="0.55" filter="url(#bl1)"/>
<circle cx="54.2" cy="349.8" r="1.7" fill="#1c1cb0" opacity="0.55" filter="url(#bl1)"/>
<circle cx="37.3" cy="365.3" r="1.3" fill="#3232ff" opacity="0.55" filter="url(#bl1)"/>
<circle cx="49.6" cy="365.2" r="1.4" fill="#161696" opacity="0.55" filter="url(#bl1)"/>
<circle cx="37.3" cy="358.7" r="1.4" fill="#1c1cb0" opacity="0.55" filter="url(#bl1)"/>
<circle cx="50.8" cy="368.2" r="1.3" fill="#12128a" opacity="0.55" filter="url(#bl1)"/>
<circle cx="44.9" cy="372.2" r="2.5" fill="#2c2cf0" opacity="0.55" filter="url(#bl1)"/>
<circle cx="32.0" cy="354.9" r="2.4" fill="#12128a" opacity="0.55" filter="url(#bl1)"/>
<circle cx="54.4" cy="361.5" r="1.6" fill="#3232ff" opacity="0.55" filter="url(#bl1)"/>
<circle cx="51.7" cy="373.8" r="1.9" fill="#2c2cf0" opacity="0.55" filter="url(#bl1)"/>
<circle cx="37.3" cy="350.4" r="2.5" fill="#161696" opacity="0.55" filter="url(#bl1)"/>
<circle cx="35.1" cy="360.8" r="2.5" fill="#1c1cb0" opacity="0.55" filter="url(#bl1)"/>
<circle cx="42.5" cy="352.6" r="2.2" fill="#12128a" opacity="0.55" filter="url(#bl1)"/>
<circle cx="41.2" cy="372.4" r="1.7" fill="#161696" opacity="0.55" filter="url(#bl1)"/>
<circle cx="44.3" cy="374.5" r="1.7" fill="#1c1cb0" opacity="0.55" filter="url(#bl1)"/>
<circle cx="44.8" cy="377.3" r="2.3" fill="#161696" opacity="0.55" filter="url(#bl1)"/>
<circle cx="48.5" cy="348.5" r="1.5" fill="#161696" opacity="0.55" filter="url(#bl1)"/>
<circle cx="26.4" cy="362.7" r="2.3" fill="#12128a" opacity="0.55" filter="url(#bl1)"/>
<circle cx="34.1" cy="363.3" r="2.5" fill="#1c1cb0" opacity="0.55" filter="url(#bl1)"/>
<circle cx="25.3" cy="367.4" r="2.5" fill="#2c2cf0" opacity="0.55" filter="url(#bl1)"/>
<circle cx="36.4" cy="368.1" r="1.9" fill="#161696" opacity="0.55" filter="url(#bl1)"/>
<circle cx="35.4" cy="372.2" r="2.4" fill="#1c1cb0" opacity="0.55" filter="url(#bl1)"/>
<circle cx="27.4" cy="363.8" r="2.4" fill="#12128a" opacity="0.55" filter="url(#bl1)"/>
<circle cx="50.3" cy="369.4" r="1.9" fill="#161696" opacity="0.55" filter="url(#bl1)"/>
<circle cx="49.0" cy="375.8" r="1.3" fill="#2c2cf0" opacity="0.55" filter="url(#bl1)"/>
<circle cx="56.6" cy="357.1" r="1.8" fill="#3232ff" opacity="0.55" filter="url(#bl1)"/>
<circle cx="56.7" cy="357.2" r="2.6" fill="#161696" opacity="0.55" filter="url(#bl1)"/>
<rect x="56.0" y="364.3" width="0.9" height="0.9" fill="#9a1cc0" opacity="0.85"/>
<rect x="27.4" y="365.1" width="0.9" height="0.9" fill="#9a1cc0" opacity="0.85"/>
<rect x="31.1" y="353.3" width="0.9" height="0.9" fill="#9a1cc0" opacity="0.85"/>
<rect x="24.3" y="364.7" width="0.9" height="0.9" fill="#9a1cc0" opacity="0.85"/>
<rect x="49.6" y="372.8" width="0.9" height="0.9" fill="#9a1cc0" opacity="0.85"/>
<rect x="58.4" y="364.1" width="0.9" height="0.9" fill="#9a1cc0" opacity="0.85"/>
<rect x="41.1" y="356.4" width="0.9" height="0.9" fill="#9a1cc0" opacity="0.85"/>
<rect x="42.0" y="355.5" width="0.9" height="0.9" fill="#9a1cc0" opacity="0.85"/>
<rect x="50.1" y="361.3" width="0.9" height="0.9" fill="#9a1cc0" opacity="0.85"/>
<rect x="44.2" y="359.9" width="0.9" height="0.9" fill="#9a1cc0" opacity="0.85"/>
<rect x="45.0" y="374.1" width="0.9" height="0.9" fill="#9a1cc0" opacity="0.85"/>
<rect x="42.9" y="352.0" width="0.9" height="0.9" fill="#9a1cc0" opacity="0.85"/>
<rect x="25.7" y="357.6" width="0.9" height="0.9" fill="#9a1cc0" opacity="0.85"/>
<rect x="56.8" y="367.6" width="0.9" height="0.9" fill="#9a1cc0" opacity="0.85"/>
<rect x="54.1" y="353.4" width="0.9" height="0.9" fill="#9a1cc0" opacity="0.85"/>
<rect x="47.3" y="350.4" width="0.9" height="0.9" fill="#9a1cc0" opacity="0.85"/>
<rect x="50.1" y="347.5" width="0.9" height="0.9" fill="#9a1cc0" opacity="0.85"/>
<rect x="46.9" y="367.0" width="0.9" height="0.9" fill="#9a1cc0" opacity="0.85"/>
<rect x="24.7" y="360.9" width="0.9" height="0.9" fill="#9a1cc0" opacity="0.85"/>
<rect x="44.4" y="348.5" width="0.9" height="0.9" fill="#9a1cc0" opacity="0.85"/>
<rect x="43.2" y="355.3" width="0.9" height="0.9" fill="#9a1cc0" opacity="0.85"/>
<rect x="51.2" y="372.7" width="0.9" height="0.9" fill="#9a1cc0" opacity="0.85"/>
<rect x="45.3" y="365.0" width="0.9" height="0.9" fill="#9a1cc0" opacity="0.85"/>
<rect x="36.4" y="350.4" width="0.9" height="0.9" fill="#9a1cc0" opacity="0.85"/>
<rect x="25.8" y="363.7" width="0.9" height="0.9" fill="#9a1cc0" opacity="0.85"/>
<rect x="45.3" y="359.2" width="0.9" height="0.9" fill="#9a1cc0" opacity="0.85"/>
<rect x="43.4" y="365.4" width="0.9" height="0.9" fill="#9a1cc0" opacity="0.85"/>
<rect x="52.2" y="368.8" width="0.9" height="0.9" fill="#9a1cc0" opacity="0.85"/>
<rect x="59.2" y="364.9" width="0.9" height="0.9" fill="#9a1cc0" opacity="0.85"/>
<rect x="51.7" y="365.9" width="0.9" height="0.9" fill="#9a1cc0" opacity="0.85"/>
<rect x="56.2" y="359.7" width="0.9" height="0.9" fill="#9a1cc0" opacity="0.85"/>
<rect x="45.0" y="370.8" width="0.9" height="0.9" fill="#9a1cc0" opacity="0.85"/>
<rect x="25.4" y="361.2" width="0.9" height="0.9" fill="#9a1cc0" opacity="0.85"/>
<rect x="32.8" y="361.6" width="0.9" height="0.9" fill="#9a1cc0" opacity="0.85"/>
<rect x="24.9" y="359.6" width="0.9" height="0.9" fill="#9a1cc0" opacity="0.85"/>
<rect x="58.0" y="354.6" width="0.9" height="0.9" fill="#9a1cc0" opacity="0.85"/>
<rect x="48.5" y="357.1" width="0.9" height="0.9" fill="#9a1cc0" opacity="0.85"/>
<rect x="30.7" y="365.7" width="0.9" height="0.9" fill="#9a1cc0" opacity="0.85"/>
<rect x="33.9" y="368.2" width="0.9" height="0.9" fill="#9a1cc0" opacity="0.85"/>
<rect x="36.2" y="351.9" width="0.9" height="0.9" fill="#9a1cc0" opacity="0.85"/>
<rect x="44.4" y="371.4" width="0.9" height="0.9" fill="#9a1cc0" opacity="0.85"/>
<rect x="53.7" y="372.8" width="0.9" height="0.9" fill="#9a1cc0" opacity="0.85"/>
<rect x="55.8" y="356.8" width="0.9" height="0.9" fill="#9a1cc0" opacity="0.85"/>
<rect x="35.8" y="368.6" width="0.9" height="0.9" fill="#9a1cc0" opacity="0.85"/>
<rect x="50.2" y="371.1" width="0.9" height="0.9" fill="#9a1cc0" opacity="0.85"/>
<rect x="41.9" y="356.6" width="0.9" height="0.9" fill="#9a1cc0" opacity="0.85"/>
<rect x="47.6" y="357.3" width="0.9" height="0.9" fill="#9a1cc0" opacity="0.85"/>
<rect x="37.7" y="354.8" width="0.9" height="0.9" fill="#9a1cc0" opacity="0.85"/>
<rect x="37.0" y="345.2" width="0.9" height="0.9" fill="#9a1cc0" opacity="0.85"/>
<rect x="32.1" y="368.5" width="0.9" height="0.9" fill="#9a1cc0" opacity="0.85"/>
<rect x="38.5" y="366.2" width="0.9" height="0.9" fill="#9a1cc0" opacity="0.85"/>
<rect x="34.8" y="369.6" width="0.9" height="0.9" fill="#9a1cc0" opacity="0.85"/>
<rect x="27.0" y="365.8" width="0.9" height="0.9" fill="#9a1cc0" opacity="0.85"/>
<rect x="32.0" y="370.4" width="0.9" height="0.9" fill="#9a1cc0" opacity="0.85"/>
<rect x="36.9" y="378.5" width="0.9" height="0.9" fill="#9a1cc0" opacity="0.85"/>
<rect x="55.5" y="372.9" width="0.9" height="0.9" fill="#9a1cc0" opacity="0.85"/>
<rect x="44.3" y="378.3" width="0.9" height="0.9" fill="#9a1cc0" opacity="0.85"/>
<circle cx="76.2" cy="417.7" r="1.6" fill="#161696" opacity="0.55" filter="url(#bl1)"/>
<circle cx="76.1" cy="423.8" r="1.8" fill="#2c2cf0" opacity="0.55" filter="url(#bl1)"/>
<circle cx="42.6" cy="405.2" r="2.2" fill="#3232ff" opacity="0.55" filter="url(#bl1)"/>
<circle cx="68.9" cy="413.7" r="1.8" fill="#161696" opacity="0.55" filter="url(#bl1)"/>
<circle cx="88.5" cy="422.5" r="2.3" fill="#12128a" opacity="0.55" filter="url(#bl1)"/>
<circle cx="86.4" cy="423.6" r="1.6" fill="#12128a" opacity="0.55" filter="url(#bl1)"/>
<circle cx="65.3" cy="412.2" r="1.8" fill="#1c1cb0" opacity="0.55" filter="url(#bl1)"/>
<circle cx="82.9" cy="398.3" r="1.9" fill="#12128a" opacity="0.55" filter="url(#bl1)"/>
<circle cx="63.7" cy="419.7" r="1.6" fill="#161696" opacity="0.55" filter="url(#bl1)"/>
<circle cx="74.8" cy="435.6" r="1.9" fill="#2c2cf0" opacity="0.55" filter="url(#bl1)"/>
<circle cx="68.3" cy="428.8" r="1.6" fill="#161696" opacity="0.55" filter="url(#bl1)"/>
<circle cx="72.7" cy="382.5" r="1.2" fill="#12128a" opacity="0.55" filter="url(#bl1)"/>
<circle cx="60.7" cy="388.4" r="1.9" fill="#161696" opacity="0.55" filter="url(#bl1)"/>
<circle cx="63.5" cy="429.6" r="2.1" fill="#3232ff" opacity="0.55" filter="url(#bl1)"/>
<circle cx="36.6" cy="402.2" r="1.6" fill="#1c1cb0" opacity="0.55" filter="url(#bl1)"/>
<circle cx="66.0" cy="423.7" r="2.4" fill="#161696" opacity="0.55" filter="url(#bl1)"/>
<circle cx="56.7" cy="387.5" r="2.6" fill="#3232ff" opacity="0.55" filter="url(#bl1)"/>
<circle cx="89.6" cy="407.0" r="1.3" fill="#12128a" opacity="0.55" filter="url(#bl1)"/>
<circle cx="62.2" cy="395.2" r="1.3" fill="#161696" opacity="0.55" filter="url(#bl1)"/>
<circle cx="53.8" cy="394.4" r="2.1" fill="#1c1cb0" opacity="0.55" filter="url(#bl1)"/>
<circle cx="60.1" cy="424.1" r="1.3" fill="#2c2cf0" opacity="0.55" filter="url(#bl1)"/>
<circle cx="69.0" cy="423.9" r="1.6" fill="#12128a" opacity="0.55" filter="url(#bl1)"/>
<circle cx="91.0" cy="403.1" r="1.7" fill="#1c1cb0" opacity="0.55" filter="url(#bl1)"/>
<circle cx="89.8" cy="415.9" r="1.7" fill="#161696" opacity="0.55" filter="url(#bl1)"/>
<circle cx="81.1" cy="410.1" r="1.6" fill="#3232ff" opacity="0.55" filter="url(#bl1)"/>
<circle cx="54.9" cy="397.9" r="1.3" fill="#12128a" opacity="0.55" filter="url(#bl1)"/>
<circle cx="67.5" cy="399.9" r="1.3" fill="#1c1cb0" opacity="0.55" filter="url(#bl1)"/>
<circle cx="79.0" cy="412.3" r="1.3" fill="#161696" opacity="0.55" filter="url(#bl1)"/>
<circle cx="89.1" cy="402.9" r="2.1" fill="#161696" opacity="0.55" filter="url(#bl1)"/>
<circle cx="57.2" cy="383.2" r="2.3" fill="#3232ff" opacity="0.55" filter="url(#bl1)"/>
<circle cx="59.2" cy="389.8" r="2.2" fill="#2c2cf0" opacity="0.55" filter="url(#bl1)"/>
<circle cx="59.2" cy="405.2" r="2.1" fill="#1c1cb0" opacity="0.55" filter="url(#bl1)"/>
<circle cx="60.3" cy="383.8" r="2.5" fill="#161696" opacity="0.55" filter="url(#bl1)"/>
<circle cx="63.4" cy="387.9" r="2.4" fill="#12128a" opacity="0.55" filter="url(#bl1)"/>
<circle cx="39.1" cy="396.1" r="1.3" fill="#161696" opacity="0.55" filter="url(#bl1)"/>
<circle cx="85.5" cy="416.1" r="1.7" fill="#12128a" opacity="0.55" filter="url(#bl1)"/>
<circle cx="56.7" cy="412.0" r="2.1" fill="#12128a" opacity="0.55" filter="url(#bl1)"/>
<circle cx="54.4" cy="391.4" r="1.8" fill="#12128a" opacity="0.55" filter="url(#bl1)"/>
<circle cx="88.6" cy="422.0" r="1.3" fill="#1c1cb0" opacity="0.55" filter="url(#bl1)"/>
<circle cx="38.1" cy="405.9" r="1.6" fill="#3232ff" opacity="0.55" filter="url(#bl1)"/>
<circle cx="76.5" cy="416.8" r="1.5" fill="#161696" opacity="0.55" filter="url(#bl1)"/>
<circle cx="51.3" cy="393.9" r="1.3" fill="#3232ff" opacity="0.55" filter="url(#bl1)"/>
<circle cx="76.3" cy="401.6" r="2.1" fill="#12128a" opacity="0.55" filter="url(#bl1)"/>
<circle cx="57.9" cy="403.6" r="1.7" fill="#161696" opacity="0.55" filter="url(#bl1)"/>
<circle cx="48.9" cy="390.2" r="2.0" fill="#1c1cb0" opacity="0.55" filter="url(#bl1)"/>
<circle cx="70.2" cy="410.6" r="2.6" fill="#2c2cf0" opacity="0.55" filter="url(#bl1)"/>
<circle cx="74.1" cy="418.0" r="1.6" fill="#3232ff" opacity="0.55" filter="url(#bl1)"/>
<circle cx="43.2" cy="407.9" r="2.3" fill="#3232ff" opacity="0.55" filter="url(#bl1)"/>
<circle cx="84.7" cy="409.1" r="2.6" fill="#2c2cf0" opacity="0.55" filter="url(#bl1)"/>
<circle cx="66.6" cy="408.5" r="1.3" fill="#3232ff" opacity="0.55" filter="url(#bl1)"/>
<circle cx="33.8" cy="408.8" r="1.7" fill="#2c2cf0" opacity="0.55" filter="url(#bl1)"/>
<circle cx="87.4" cy="395.9" r="2.0" fill="#12128a" opacity="0.55" filter="url(#bl1)"/>
<circle cx="76.3" cy="426.5" r="1.4" fill="#2c2cf0" opacity="0.55" filter="url(#bl1)"/>
<circle cx="71.9" cy="391.1" r="2.2" fill="#12128a" opacity="0.55" filter="url(#bl1)"/>
<circle cx="66.2" cy="437.5" r="1.8" fill="#3232ff" opacity="0.55" filter="url(#bl1)"/>
<circle cx="78.4" cy="434.0" r="1.8" fill="#3232ff" opacity="0.55" filter="url(#bl1)"/>
<circle cx="60.3" cy="391.3" r="1.6" fill="#3232ff" opacity="0.55" filter="url(#bl1)"/>
<circle cx="63.7" cy="409.0" r="2.4" fill="#2c2cf0" opacity="0.55" filter="url(#bl1)"/>
<circle cx="83.5" cy="429.3" r="2.5" fill="#12128a" opacity="0.55" filter="url(#bl1)"/>
<circle cx="58.6" cy="427.3" r="1.7" fill="#3232ff" opacity="0.55" filter="url(#bl1)"/>
<circle cx="68.5" cy="404.1" r="2.3" fill="#3232ff" opacity="0.55" filter="url(#bl1)"/>
<circle cx="72.4" cy="397.7" r="2.4" fill="#12128a" opacity="0.55" filter="url(#bl1)"/>
<circle cx="56.7" cy="437.6" r="2.6" fill="#161696" opacity="0.55" filter="url(#bl1)"/>
<circle cx="47.9" cy="416.4" r="2.3" fill="#2c2cf0" opacity="0.55" filter="url(#bl1)"/>
<circle cx="58.5" cy="412.2" r="2.5" fill="#3232ff" opacity="0.55" filter="url(#bl1)"/>
<circle cx="83.2" cy="402.1" r="1.3" fill="#12128a" opacity="0.55" filter="url(#bl1)"/>
<circle cx="60.8" cy="390.5" r="2.1" fill="#161696" opacity="0.55" filter="url(#bl1)"/>
<circle cx="61.5" cy="416.3" r="1.4" fill="#1c1cb0" opacity="0.55" filter="url(#bl1)"/>
<circle cx="46.1" cy="413.0" r="1.6" fill="#2c2cf0" opacity="0.55" filter="url(#bl1)"/>
<circle cx="61.3" cy="386.4" r="2.1" fill="#3232ff" opacity="0.55" filter="url(#bl1)"/>
<circle cx="56.1" cy="430.7" r="1.4" fill="#3232ff" opacity="0.55" filter="url(#bl1)"/>
<circle cx="58.0" cy="403.7" r="2.5" fill="#1c1cb0" opacity="0.55" filter="url(#bl1)"/>
<circle cx="49.3" cy="410.3" r="2.6" fill="#2c2cf0" opacity="0.55" filter="url(#bl1)"/>
<circle cx="52.6" cy="413.4" r="1.5" fill="#161696" opacity="0.55" filter="url(#bl1)"/>
<circle cx="72.9" cy="429.4" r="1.5" fill="#2c2cf0" opacity="0.55" filter="url(#bl1)"/>
<circle cx="61.8" cy="432.0" r="2.2" fill="#12128a" opacity="0.55" filter="url(#bl1)"/>
<circle cx="46.9" cy="419.8" r="1.5" fill="#1c1cb0" opacity="0.55" filter="url(#bl1)"/>
<circle cx="59.8" cy="435.2" r="1.6" fill="#3232ff" opacity="0.55" filter="url(#bl1)"/>
<circle cx="73.2" cy="407.9" r="1.9" fill="#1c1cb0" opacity="0.55" filter="url(#bl1)"/>
<circle cx="69.7" cy="383.9" r="1.6" fill="#12128a" opacity="0.55" filter="url(#bl1)"/>
<circle cx="63.2" cy="428.5" r="1.8" fill="#3232ff" opacity="0.55" filter="url(#bl1)"/>
<circle cx="53.0" cy="434.4" r="1.4" fill="#12128a" opacity="0.55" filter="url(#bl1)"/>
<circle cx="40.2" cy="421.6" r="2.6" fill="#3232ff" opacity="0.55" filter="url(#bl1)"/>
<circle cx="55.1" cy="410.5" r="2.4" fill="#1c1cb0" opacity="0.55" filter="url(#bl1)"/>
<circle cx="77.4" cy="407.5" r="1.5" fill="#12128a" opacity="0.55" filter="url(#bl1)"/>
<circle cx="79.6" cy="433.6" r="2.5" fill="#12128a" opacity="0.55" filter="url(#bl1)"/>
<circle cx="58.8" cy="386.8" r="1.3" fill="#3232ff" opacity="0.55" filter="url(#bl1)"/>
<circle cx="63.2" cy="408.9" r="1.5" fill="#161696" opacity="0.55" filter="url(#bl1)"/>
<circle cx="83.6" cy="398.7" r="2.5" fill="#2c2cf0" opacity="0.55" filter="url(#bl1)"/>
<circle cx="48.1" cy="394.8" r="2.2" fill="#3232ff" opacity="0.55" filter="url(#bl1)"/>
<circle cx="68.9" cy="415.0" r="2.5" fill="#1c1cb0" opacity="0.55" filter="url(#bl1)"/>
<circle cx="68.4" cy="424.0" r="1.2" fill="#1c1cb0" opacity="0.55" filter="url(#bl1)"/>
<circle cx="34.6" cy="403.2" r="2.5" fill="#2c2cf0" opacity="0.55" filter="url(#bl1)"/>
<circle cx="46.1" cy="388.3" r="1.9" fill="#3232ff" opacity="0.55" filter="url(#bl1)"/>
<circle cx="58.2" cy="408.5" r="2.2" fill="#3232ff" opacity="0.55" filter="url(#bl1)"/>
<circle cx="61.5" cy="414.0" r="2.4" fill="#3232ff" opacity="0.55" filter="url(#bl1)"/>
<circle cx="58.0" cy="403.3" r="2.1" fill="#161696" opacity="0.55" filter="url(#bl1)"/>
<circle cx="75.4" cy="403.7" r="2.2" fill="#12128a" opacity="0.55" filter="url(#bl1)"/>
<circle cx="59.5" cy="392.7" r="1.5" fill="#3232ff" opacity="0.55" filter="url(#bl1)"/>
<circle cx="70.3" cy="385.9" r="1.3" fill="#1c1cb0" opacity="0.55" filter="url(#bl1)"/>
<circle cx="49.9" cy="410.4" r="1.5" fill="#161696" opacity="0.55" filter="url(#bl1)"/>
<circle cx="67.6" cy="435.1" r="1.4" fill="#2c2cf0" opacity="0.55" filter="url(#bl1)"/>
<circle cx="46.7" cy="394.0" r="1.9" fill="#161696" opacity="0.55" filter="url(#bl1)"/>
<circle cx="68.9" cy="406.3" r="1.4" fill="#1c1cb0" opacity="0.55" filter="url(#bl1)"/>
<circle cx="52.4" cy="418.4" r="1.4" fill="#1c1cb0" opacity="0.55" filter="url(#bl1)"/>
<circle cx="69.8" cy="412.3" r="1.8" fill="#3232ff" opacity="0.55" filter="url(#bl1)"/>
<circle cx="59.1" cy="394.1" r="2.6" fill="#12128a" opacity="0.55" filter="url(#bl1)"/>
<circle cx="78.3" cy="403.0" r="2.1" fill="#161696" opacity="0.55" filter="url(#bl1)"/>
<circle cx="43.2" cy="406.9" r="2.1" fill="#2c2cf0" opacity="0.55" filter="url(#bl1)"/>
<circle cx="50.1" cy="422.4" r="1.8" fill="#2c2cf0" opacity="0.55" filter="url(#bl1)"/>
<circle cx="69.3" cy="415.2" r="1.7" fill="#12128a" opacity="0.55" filter="url(#bl1)"/>
<circle cx="72.9" cy="407.2" r="1.7" fill="#161696" opacity="0.55" filter="url(#bl1)"/>
<circle cx="64.9" cy="393.9" r="1.3" fill="#3232ff" opacity="0.55" filter="url(#bl1)"/>
<circle cx="59.4" cy="397.6" r="2.5" fill="#1c1cb0" opacity="0.55" filter="url(#bl1)"/>
<circle cx="69.2" cy="426.5" r="1.2" fill="#3232ff" opacity="0.55" filter="url(#bl1)"/>
<circle cx="40.7" cy="424.0" r="1.3" fill="#3232ff" opacity="0.55" filter="url(#bl1)"/>
<circle cx="70.1" cy="411.6" r="1.6" fill="#12128a" opacity="0.55" filter="url(#bl1)"/>
<circle cx="62.5" cy="382.3" r="1.7" fill="#2c2cf0" opacity="0.55" filter="url(#bl1)"/>
<circle cx="48.5" cy="434.6" r="1.6" fill="#12128a" opacity="0.55" filter="url(#bl1)"/>
<circle cx="59.6" cy="393.9" r="1.6" fill="#2c2cf0" opacity="0.55" filter="url(#bl1)"/>
<circle cx="59.0" cy="387.8" r="1.2" fill="#12128a" opacity="0.55" filter="url(#bl1)"/>
<circle cx="65.0" cy="430.1" r="2.5" fill="#3232ff" opacity="0.55" filter="url(#bl1)"/>
<circle cx="51.9" cy="419.6" r="2.3" fill="#3232ff" opacity="0.55" filter="url(#bl1)"/>
<circle cx="76.9" cy="425.3" r="2.3" fill="#12128a" opacity="0.55" filter="url(#bl1)"/>
<circle cx="61.1" cy="383.5" r="2.1" fill="#161696" opacity="0.55" filter="url(#bl1)"/>
<circle cx="55.2" cy="424.6" r="2.3" fill="#2c2cf0" opacity="0.55" filter="url(#bl1)"/>
<circle cx="45.7" cy="398.2" r="2.3" fill="#3232ff" opacity="0.55" filter="url(#bl1)"/>
<circle cx="63.1" cy="417.4" r="1.9" fill="#12128a" opacity="0.55" filter="url(#bl1)"/>
<circle cx="51.7" cy="406.8" r="2.4" fill="#3232ff" opacity="0.55" filter="url(#bl1)"/>
<circle cx="78.0" cy="408.8" r="1.5" fill="#12128a" opacity="0.55" filter="url(#bl1)"/>
<circle cx="37.4" cy="423.8" r="1.4" fill="#3232ff" opacity="0.55" filter="url(#bl1)"/>
<circle cx="76.3" cy="424.7" r="2.2" fill="#161696" opacity="0.55" filter="url(#bl1)"/>
<circle cx="76.6" cy="390.4" r="2.3" fill="#12128a" opacity="0.55" filter="url(#bl1)"/>
<circle cx="58.8" cy="424.9" r="1.7" fill="#2c2cf0" opacity="0.55" filter="url(#bl1)"/>
<circle cx="62.0" cy="397.0" r="1.5" fill="#161696" opacity="0.55" filter="url(#bl1)"/>
<circle cx="64.4" cy="425.5" r="1.5" fill="#1c1cb0" opacity="0.55" filter="url(#bl1)"/>
<circle cx="76.5" cy="415.8" r="1.9" fill="#161696" opacity="0.55" filter="url(#bl1)"/>
<circle cx="66.1" cy="436.1" r="2.6" fill="#3232ff" opacity="0.55" filter="url(#bl1)"/>
<circle cx="79.1" cy="422.1" r="2.4" fill="#161696" opacity="0.55" filter="url(#bl1)"/>
<circle cx="68.0" cy="407.0" r="1.5" fill="#2c2cf0" opacity="0.55" filter="url(#bl1)"/>
<circle cx="84.5" cy="417.1" r="1.5" fill="#1c1cb0" opacity="0.55" filter="url(#bl1)"/>
<circle cx="81.7" cy="419.5" r="1.8" fill="#161696" opacity="0.55" filter="url(#bl1)"/>
<circle cx="61.4" cy="435.7" r="1.3" fill="#12128a" opacity="0.55" filter="url(#bl1)"/>
<circle cx="44.0" cy="396.9" r="1.3" fill="#161696" opacity="0.55" filter="url(#bl1)"/>
<circle cx="59.7" cy="415.2" r="1.3" fill="#2c2cf0" opacity="0.55" filter="url(#bl1)"/>
<circle cx="59.9" cy="382.2" r="2.3" fill="#12128a" opacity="0.55" filter="url(#bl1)"/>
<circle cx="48.0" cy="419.7" r="1.6" fill="#1c1cb0" opacity="0.55" filter="url(#bl1)"/>
<circle cx="70.5" cy="435.0" r="1.9" fill="#1c1cb0" opacity="0.55" filter="url(#bl1)"/>
<circle cx="41.1" cy="424.2" r="1.4" fill="#1c1cb0" opacity="0.55" filter="url(#bl1)"/>
<circle cx="39.9" cy="405.0" r="2.2" fill="#3232ff" opacity="0.55" filter="url(#bl1)"/>
<circle cx="49.9" cy="418.4" r="1.8" fill="#2c2cf0" opacity="0.55" filter="url(#bl1)"/>
<circle cx="87.0" cy="418.0" r="1.8" fill="#2c2cf0" opacity="0.55" filter="url(#bl1)"/>
<circle cx="88.4" cy="412.9" r="2.1" fill="#2c2cf0" opacity="0.55" filter="url(#bl1)"/>
<circle cx="48.6" cy="421.8" r="1.8" fill="#12128a" opacity="0.55" filter="url(#bl1)"/>
<circle cx="68.5" cy="418.2" r="1.8" fill="#12128a" opacity="0.55" filter="url(#bl1)"/>
<rect x="78.0" y="396.4" width="0.9" height="0.9" fill="#9a1cc0" opacity="0.85"/>
<rect x="64.9" y="413.1" width="0.9" height="0.9" fill="#9a1cc0" opacity="0.85"/>
<rect x="40.4" y="402.4" width="0.9" height="0.9" fill="#9a1cc0" opacity="0.85"/>
<rect x="70.5" y="405.2" width="0.9" height="0.9" fill="#9a1cc0" opacity="0.85"/>
<rect x="50.0" y="397.4" width="0.9" height="0.9" fill="#9a1cc0" opacity="0.85"/>
<rect x="51.6" y="409.7" width="0.9" height="0.9" fill="#9a1cc0" opacity="0.85"/>
<rect x="58.5" y="431.0" width="0.9" height="0.9" fill="#9a1cc0" opacity="0.85"/>
<rect x="71.7" y="405.6" width="0.9" height="0.9" fill="#9a1cc0" opacity="0.85"/>
<rect x="36.4" y="411.6" width="0.9" height="0.9" fill="#9a1cc0" opacity="0.85"/>
<rect x="75.9" y="407.3" width="0.9" height="0.9" fill="#9a1cc0" opacity="0.85"/>
<rect x="83.2" y="430.6" width="0.9" height="0.9" fill="#9a1cc0" opacity="0.85"/>
<rect x="83.4" y="406.8" width="0.9" height="0.9" fill="#9a1cc0" opacity="0.85"/>
<rect x="90.0" y="419.4" width="0.9" height="0.9" fill="#9a1cc0" opacity="0.85"/>
<rect x="41.5" y="428.3" width="0.9" height="0.9" fill="#9a1cc0" opacity="0.85"/>
<rect x="43.4" y="391.5" width="0.9" height="0.9" fill="#9a1cc0" opacity="0.85"/>
<rect x="77.1" y="432.3" width="0.9" height="0.9" fill="#9a1cc0" opacity="0.85"/>
<rect x="66.3" y="428.6" width="0.9" height="0.9" fill="#9a1cc0" opacity="0.85"/>
<rect x="78.4" y="387.7" width="0.9" height="0.9" fill="#9a1cc0" opacity="0.85"/>
<rect x="68.7" y="422.7" width="0.9" height="0.9" fill="#9a1cc0" opacity="0.85"/>
<rect x="45.7" y="422.6" width="0.9" height="0.9" fill="#9a1cc0" opacity="0.85"/>
<rect x="55.2" y="417.0" width="0.9" height="0.9" fill="#9a1cc0" opacity="0.85"/>
<rect x="63.5" y="435.3" width="0.9" height="0.9" fill="#9a1cc0" opacity="0.85"/>
<rect x="67.8" y="406.4" width="0.9" height="0.9" fill="#9a1cc0" opacity="0.85"/>
<rect x="39.1" y="400.1" width="0.9" height="0.9" fill="#9a1cc0" opacity="0.85"/>
<rect x="89.4" y="416.5" width="0.9" height="0.9" fill="#9a1cc0" opacity="0.85"/>
<rect x="80.0" y="425.5" width="0.9" height="0.9" fill="#9a1cc0" opacity="0.85"/>
<rect x="40.6" y="402.7" width="0.9" height="0.9" fill="#9a1cc0" opacity="0.85"/>
<rect x="56.3" y="428.1" width="0.9" height="0.9" fill="#9a1cc0" opacity="0.85"/>
<rect x="46.2" y="400.4" width="0.9" height="0.9" fill="#9a1cc0" opacity="0.85"/>
<rect x="52.2" y="393.3" width="0.9" height="0.9" fill="#9a1cc0" opacity="0.85"/>
<rect x="58.8" y="411.7" width="0.9" height="0.9" fill="#9a1cc0" opacity="0.85"/>
<rect x="47.7" y="395.9" width="0.9" height="0.9" fill="#9a1cc0" opacity="0.85"/>
<rect x="65.4" y="435.9" width="0.9" height="0.9" fill="#9a1cc0" opacity="0.85"/>
<rect x="66.8" y="390.2" width="0.9" height="0.9" fill="#9a1cc0" opacity="0.85"/>
<rect x="71.8" y="428.5" width="0.9" height="0.9" fill="#9a1cc0" opacity="0.85"/>
<rect x="71.3" y="416.6" width="0.9" height="0.9" fill="#9a1cc0" opacity="0.85"/>
<rect x="54.8" y="413.8" width="0.9" height="0.9" fill="#9a1cc0" opacity="0.85"/>
<rect x="43.2" y="417.6" width="0.9" height="0.9" fill="#9a1cc0" opacity="0.85"/>
<rect x="85.9" y="416.0" width="0.9" height="0.9" fill="#9a1cc0" opacity="0.85"/>
<rect x="85.1" y="422.6" width="0.9" height="0.9" fill="#9a1cc0" opacity="0.85"/>
<rect x="66.7" y="389.1" width="0.9" height="0.9" fill="#9a1cc0" opacity="0.85"/>
<rect x="82.9" y="417.1" width="0.9" height="0.9" fill="#9a1cc0" opacity="0.85"/>
<rect x="42.1" y="430.1" width="0.9" height="0.9" fill="#9a1cc0" opacity="0.85"/>
<rect x="81.0" y="430.8" width="0.9" height="0.9" fill="#9a1cc0" opacity="0.85"/>
<rect x="88.4" y="409.4" width="0.9" height="0.9" fill="#9a1cc0" opacity="0.85"/>
<rect x="68.2" y="398.0" width="0.9" height="0.9" fill="#9a1cc0" opacity="0.85"/>
<rect x="83.7" y="407.6" width="0.9" height="0.9" fill="#9a1cc0" opacity="0.85"/>
<rect x="90.4" y="402.3" width="0.9" height="0.9" fill="#9a1cc0" opacity="0.85"/>
<rect x="76.4" y="432.7" width="0.9" height="0.9" fill="#9a1cc0" opacity="0.85"/>
<rect x="69.9" y="406.8" width="0.9" height="0.9" fill="#9a1cc0" opacity="0.85"/>
<rect x="47.7" y="430.8" width="0.9" height="0.9" fill="#9a1cc0" opacity="0.85"/>
<rect x="78.3" y="433.6" width="0.9" height="0.9" fill="#9a1cc0" opacity="0.85"/>
<rect x="58.8" y="436.5" width="0.9" height="0.9" fill="#9a1cc0" opacity="0.85"/>
<rect x="76.1" y="426.5" width="0.9" height="0.9" fill="#9a1cc0" opacity="0.85"/>
<rect x="74.9" y="403.5" width="0.9" height="0.9" fill="#9a1cc0" opacity="0.85"/>
<rect x="61.3" y="431.1" width="0.9" height="0.9" fill="#9a1cc0" opacity="0.85"/>
<rect x="60.6" y="415.2" width="0.9" height="0.9" fill="#9a1cc0" opacity="0.85"/>
<rect x="67.9" y="420.9" width="0.9" height="0.9" fill="#9a1cc0" opacity="0.85"/>
<rect x="85.6" y="400.5" width="0.9" height="0.9" fill="#9a1cc0" opacity="0.85"/>
<rect x="72.7" y="402.5" width="0.9" height="0.9" fill="#9a1cc0" opacity="0.85"/>
<rect x="65.2" y="400.2" width="0.9" height="0.9" fill="#9a1cc0" opacity="0.85"/>
<rect x="39.7" y="405.5" width="0.9" height="0.9" fill="#9a1cc0" opacity="0.85"/>
<rect x="45.3" y="431.4" width="0.9" height="0.9" fill="#9a1cc0" opacity="0.85"/>
<rect x="41.7" y="402.3" width="0.9" height="0.9" fill="#9a1cc0" opacity="0.85"/>
<rect x="70.1" y="403.5" width="0.9" height="0.9" fill="#9a1cc0" opacity="0.85"/>
<rect x="86.6" y="409.0" width="0.9" height="0.9" fill="#9a1cc0" opacity="0.85"/>
<rect x="42.1" y="426.4" width="0.9" height="0.9" fill="#9a1cc0" opacity="0.85"/>
<rect x="60.3" y="439.5" width="0.9" height="0.9" fill="#9a1cc0" opacity="0.85"/>
<rect x="47.2" y="401.7" width="0.9" height="0.9" fill="#9a1cc0" opacity="0.85"/>
<rect x="64.8" y="390.3" width="0.9" height="0.9" fill="#9a1cc0" opacity="0.85"/>
<rect x="74.4" y="433.0" width="0.9" height="0.9" fill="#9a1cc0" opacity="0.85"/>
<rect x="88.7" y="418.0" width="0.9" height="0.9" fill="#9a1cc0" opacity="0.85"/>
<rect x="62.5" y="433.8" width="0.9" height="0.9" fill="#9a1cc0" opacity="0.85"/>
<rect x="85.6" y="407.7" width="0.9" height="0.9" fill="#9a1cc0" opacity="0.85"/>
<rect x="54.4" y="395.8" width="0.9" height="0.9" fill="#9a1cc0" opacity="0.85"/>
<rect x="68.5" y="410.1" width="0.9" height="0.9" fill="#9a1cc0" opacity="0.85"/>
<rect x="76.8" y="428.8" width="0.9" height="0.9" fill="#9a1cc0" opacity="0.85"/>
<rect x="43.6" y="418.8" width="0.9" height="0.9" fill="#9a1cc0" opacity="0.85"/>
<rect x="71.6" y="403.4" width="0.9" height="0.9" fill="#9a1cc0" opacity="0.85"/>
<rect x="66.4" y="433.8" width="0.9" height="0.9" fill="#9a1cc0" opacity="0.85"/>
<rect x="64.5" y="410.2" width="0.9" height="0.9" fill="#9a1cc0" opacity="0.85"/>
<rect x="57.1" y="417.7" width="0.9" height="0.9" fill="#9a1cc0" opacity="0.85"/>
<rect x="54.2" y="421.0" width="0.9" height="0.9" fill="#9a1cc0" opacity="0.85"/>
<rect x="43.3" y="398.6" width="0.9" height="0.9" fill="#9a1cc0" opacity="0.85"/>
<rect x="69.7" y="432.5" width="0.9" height="0.9" fill="#9a1cc0" opacity="0.85"/>
<rect x="52.2" y="411.7" width="0.9" height="0.9" fill="#9a1cc0" opacity="0.85"/>
<rect x="76.5" y="404.3" width="0.9" height="0.9" fill="#9a1cc0" opacity="0.85"/>
<rect x="68.4" y="417.4" width="0.9" height="0.9" fill="#9a1cc0" opacity="0.85"/>
<rect x="45.1" y="388.8" width="0.9" height="0.9" fill="#9a1cc0" opacity="0.85"/>
<rect x="66.8" y="391.5" width="0.9" height="0.9" fill="#9a1cc0" opacity="0.85"/>
<rect x="62.7" y="413.2" width="0.9" height="0.9" fill="#9a1cc0" opacity="0.85"/>
<rect x="49.3" y="392.4" width="0.9" height="0.9" fill="#9a1cc0" opacity="0.85"/>
<rect x="48.9" y="429.3" width="0.9" height="0.9" fill="#9a1cc0" opacity="0.85"/>
<rect x="36.0" y="420.0" width="0.9" height="0.9" fill="#9a1cc0" opacity="0.85"/>
<rect x="61.5" y="395.3" width="0.9" height="0.9" fill="#9a1cc0" opacity="0.85"/>
<rect x="68.1" y="406.4" width="0.9" height="0.9" fill="#9a1cc0" opacity="0.85"/>
<rect x="44.4" y="406.3" width="0.9" height="0.9" fill="#9a1cc0" opacity="0.85"/>
<rect x="63.6" y="417.2" width="0.9" height="0.9" fill="#9a1cc0" opacity="0.85"/>
<rect x="63.6" y="406.8" width="0.9" height="0.9" fill="#9a1cc0" opacity="0.85"/>
<rect x="35.6" y="400.9" width="0.9" height="0.9" fill="#9a1cc0" opacity="0.85"/>
<rect x="71.3" y="420.4" width="0.9" height="0.9" fill="#9a1cc0" opacity="0.85"/>
<rect x="46.5" y="396.7" width="0.9" height="0.9" fill="#9a1cc0" opacity="0.85"/>
<rect x="46.1" y="389.2" width="0.9" height="0.9" fill="#9a1cc0" opacity="0.85"/>
<rect x="70.5" y="424.7" width="0.9" height="0.9" fill="#9a1cc0" opacity="0.85"/>
<rect x="61.0" y="416.2" width="0.9" height="0.9" fill="#9a1cc0" opacity="0.85"/>
<rect x="83.2" y="393.1" width="0.9" height="0.9" fill="#9a1cc0" opacity="0.85"/>
<rect x="62.5" y="407.7" width="0.9" height="0.9" fill="#9a1cc0" opacity="0.85"/>
<rect x="77.3" y="388.7" width="0.9" height="0.9" fill="#9a1cc0" opacity="0.85"/>
<rect x="38.0" y="415.5" width="0.9" height="0.9" fill="#9a1cc0" opacity="0.85"/>
<rect x="49.5" y="414.2" width="0.9" height="0.9" fill="#9a1cc0" opacity="0.85"/>
<rect x="74.3" y="418.8" width="0.9" height="0.9" fill="#9a1cc0" opacity="0.85"/>
<rect x="79.7" y="414.2" width="0.9" height="0.9" fill="#9a1cc0" opacity="0.85"/>
<rect x="62.9" y="385.2" width="0.9" height="0.9" fill="#9a1cc0" opacity="0.85"/>
<rect x="77.1" y="389.3" width="0.9" height="0.9" fill="#9a1cc0" opacity="0.85"/>
<rect x="60.8" y="432.0" width="0.9" height="0.9" fill="#9a1cc0" opacity="0.85"/>
<rect x="38.7" y="420.3" width="0.9" height="0.9" fill="#9a1cc0" opacity="0.85"/>
<rect x="47.9" y="407.8" width="0.9" height="0.9" fill="#9a1cc0" opacity="0.85"/>
<rect x="44.7" y="387.3" width="0.9" height="0.9" fill="#9a1cc0" opacity="0.85"/>
<rect x="68.7" y="437.3" width="0.9" height="0.9" fill="#9a1cc0" opacity="0.85"/>
<rect x="78.1" y="411.4" width="0.9" height="0.9" fill="#9a1cc0" opacity="0.85"/>
<rect x="65.2" y="435.5" width="0.9" height="0.9" fill="#9a1cc0" opacity="0.85"/>
<rect x="87.1" y="401.3" width="0.9" height="0.9" fill="#9a1cc0" opacity="0.85"/>
<rect x="50.0" y="434.7" width="0.9" height="0.9" fill="#9a1cc0" opacity="0.85"/>
<rect x="56.1" y="422.8" width="0.9" height="0.9" fill="#9a1cc0" opacity="0.85"/>
<rect x="82.7" y="397.0" width="0.9" height="0.9" fill="#9a1cc0" opacity="0.85"/>
<rect x="54.5" y="387.3" width="0.9" height="0.9" fill="#9a1cc0" opacity="0.85"/>
<rect x="83.2" y="407.3" width="0.9" height="0.9" fill="#9a1cc0" opacity="0.85"/>
<rect x="76.3" y="389.0" width="0.9" height="0.9" fill="#9a1cc0" opacity="0.85"/>
<rect x="75.3" y="394.7" width="0.9" height="0.9" fill="#9a1cc0" opacity="0.85"/>
<rect x="59.4" y="387.8" width="0.9" height="0.9" fill="#9a1cc0" opacity="0.85"/>
<rect x="58.1" y="422.8" width="0.9" height="0.9" fill="#9a1cc0" opacity="0.85"/>
<rect x="57.0" y="404.2" width="0.9" height="0.9" fill="#9a1cc0" opacity="0.85"/>
<rect x="72.6" y="404.0" width="0.9" height="0.9" fill="#9a1cc0" opacity="0.85"/>
<rect x="72.6" y="411.6" width="0.9" height="0.9" fill="#9a1cc0" opacity="0.85"/>
<rect x="78.7" y="402.5" width="0.9" height="0.9" fill="#9a1cc0" opacity="0.85"/>
<rect x="66.2" y="413.9" width="0.9" height="0.9" fill="#9a1cc0" opacity="0.85"/>
<rect x="86.9" y="416.4" width="0.9" height="0.9" fill="#9a1cc0" opacity="0.85"/>
<rect x="46.5" y="391.5" width="0.9" height="0.9" fill="#9a1cc0" opacity="0.85"/>
<rect x="62.4" y="402.4" width="0.9" height="0.9" fill="#9a1cc0" opacity="0.85"/>
<rect x="47.9" y="400.4" width="0.9" height="0.9" fill="#9a1cc0" opacity="0.85"/>
<rect x="74.1" y="385.5" width="0.9" height="0.9" fill="#9a1cc0" opacity="0.85"/>
<rect x="68.9" y="405.2" width="0.9" height="0.9" fill="#9a1cc0" opacity="0.85"/>
<rect x="82.2" y="389.0" width="0.9" height="0.9" fill="#9a1cc0" opacity="0.85"/>
<rect x="72.1" y="406.7" width="0.9" height="0.9" fill="#9a1cc0" opacity="0.85"/>
<rect x="65.7" y="419.6" width="0.9" height="0.9" fill="#9a1cc0" opacity="0.85"/>
<rect x="89.7" y="415.9" width="0.9" height="0.9" fill="#9a1cc0" opacity="0.85"/>
<rect x="72.0" y="388.1" width="0.9" height="0.9" fill="#9a1cc0" opacity="0.85"/>
<rect x="73.7" y="389.0" width="0.9" height="0.9" fill="#9a1cc0" opacity="0.85"/>
<rect x="60.8" y="419.1" width="0.9" height="0.9" fill="#9a1cc0" opacity="0.85"/>
<rect x="84.1" y="424.9" width="0.9" height="0.9" fill="#9a1cc0" opacity="0.85"/>
<rect x="67.7" y="426.1" width="0.9" height="0.9" fill="#9a1cc0" opacity="0.85"/>
<rect x="59.2" y="412.0" width="0.9" height="0.9" fill="#9a1cc0" opacity="0.85"/>
<rect x="62.3" y="425.8" width="0.9" height="0.9" fill="#9a1cc0" opacity="0.85"/>
<rect x="59.1" y="392.4" width="0.9" height="0.9" fill="#9a1cc0" opacity="0.85"/>
<rect x="50.4" y="436.3" width="0.9" height="0.9" fill="#9a1cc0" opacity="0.85"/>
<circle cx="96.6" cy="408.9" r="2.2" fill="#1c1cb0" opacity="0.55" filter="url(#bl1)"/>
<circle cx="101.2" cy="408.4" r="2.3" fill="#1c1cb0" opacity="0.55" filter="url(#bl1)"/>
<rect x="98.7" y="411.4" width="0.9" height="0.9" fill="#9a1cc0" opacity="0.85"/>
<rect x="98.8" y="408.6" width="0.9" height="0.9" fill="#9a1cc0" opacity="0.85"/>
<circle cx="57.5" cy="402.0" r="6.2" fill="#2a2aff" opacity="0.95" filter="url(#bl2)"/>
<circle cx="41.0" cy="396.0" r="5.0" fill="#2a2aff" opacity="0.95" filter="url(#bl2)"/>
<circle cx="47.0" cy="424.0" r="5.6" fill="#2a2aff" opacity="0.95" filter="url(#bl2)"/>
<circle cx="66.0" cy="428.0" r="5.6" fill="#2a2aff" opacity="0.95" filter="url(#bl2)"/>
<circle cx="78.0" cy="423.0" r="5.0" fill="#2a2aff" opacity="0.95" filter="url(#bl2)"/>
<circle cx="73.4" cy="393.2" r="1.6" fill="#ff2a8a" filter="url(#bl05)"/>
<circle cx="83.8" cy="406.0" r="1.6" fill="#ff2a8a" filter="url(#bl05)"/>
</g>
<rect x="107.2" y="367.5" width="81.6" height="81.6" fill="#000"/>
<g clip-path="url(#e2)">
<path d="M112.9,418.0 L112.9,424.3 L112.0,430.4 L110.6,435.8 L108.6,440.2 L106.3,443.5 L103.7,445.6 L101.0,446.0 L98.4,445.0 L95.9,442.7 L93.7,439.5 L91.7,435.3 L90.1,430.2 L89.3,424.3 L89.0,418.0 L89.4,411.8 L90.2,405.9 L91.6,400.4 L93.4,395.8 L95.7,392.4 L98.3,390.4 L101.0,389.8 L103.7,390.5 L106.2,392.7 L108.4,396.3 L110.2,401.0 L111.5,406.2 L112.4,411.9Z" fill="#2626c8" filter="url(#bl2)"/>
<path d="M182.0,408.4 L181.9,416.7 L180.1,424.9 L176.2,432.3 L170.4,438.0 L163.5,441.8 L156.2,444.0 L148.7,444.8 L141.2,444.1 L134.1,441.3 L127.9,436.8 L122.7,431.0 L118.6,424.2 L115.8,416.6 L114.7,408.4 L115.7,400.2 L118.5,392.5 L122.4,385.5 L127.4,379.3 L133.6,374.3 L140.9,371.3 L148.7,370.9 L156.2,372.6 L163.1,375.9 L169.3,380.3 L174.5,386.0 L178.4,392.8 L180.9,400.4Z" fill="#1c1cb0" filter="url(#bl2)"/>
<circle cx="103.2" cy="411.8" r="1.4" fill="#2c2cf0" opacity="0.55" filter="url(#bl1)"/>
<circle cx="106.2" cy="418.1" r="1.2" fill="#12128a" opacity="0.55" filter="url(#bl1)"/>
<circle cx="92.9" cy="419.1" r="2.6" fill="#161696" opacity="0.55" filter="url(#bl1)"/>
<circle cx="91.6" cy="403.6" r="1.6" fill="#1c1cb0" opacity="0.55" filter="url(#bl1)"/>
<circle cx="106.8" cy="413.1" r="2.5" fill="#161696" opacity="0.55" filter="url(#bl1)"/>
<circle cx="101.5" cy="428.9" r="1.9" fill="#12128a" opacity="0.55" filter="url(#bl1)"/>
<circle cx="109.6" cy="416.9" r="2.1" fill="#12128a" opacity="0.55" filter="url(#bl1)"/>
<circle cx="96.5" cy="431.4" r="2.4" fill="#3232ff" opacity="0.55" filter="url(#bl1)"/>
<circle cx="100.8" cy="400.6" r="1.7" fill="#12128a" opacity="0.55" filter="url(#bl1)"/>
<circle cx="98.5" cy="434.6" r="1.9" fill="#1c1cb0" opacity="0.55" filter="url(#bl1)"/>
<circle cx="93.1" cy="435.4" r="2.5" fill="#161696" opacity="0.55" filter="url(#bl1)"/>
<circle cx="107.2" cy="432.8" r="2.1" fill="#1c1cb0" opacity="0.55" filter="url(#bl1)"/>
<circle cx="97.2" cy="430.5" r="2.4" fill="#161696" opacity="0.55" filter="url(#bl1)"/>
<circle cx="92.8" cy="424.1" r="1.4" fill="#2c2cf0" opacity="0.55" filter="url(#bl1)"/>
<circle cx="91.6" cy="426.9" r="1.5" fill="#1c1cb0" opacity="0.55" filter="url(#bl1)"/>
<circle cx="96.4" cy="436.6" r="1.9" fill="#161696" opacity="0.55" filter="url(#bl1)"/>
<circle cx="99.9" cy="441.2" r="1.4" fill="#1c1cb0" opacity="0.55" filter="url(#bl1)"/>
<circle cx="104.2" cy="429.1" r="2.0" fill="#2c2cf0" opacity="0.55" filter="url(#bl1)"/>
<circle cx="97.8" cy="428.6" r="1.6" fill="#161696" opacity="0.55" filter="url(#bl1)"/>
<circle cx="112.0" cy="410.5" r="2.5" fill="#161696" opacity="0.55" filter="url(#bl1)"/>
<circle cx="106.7" cy="427.9" r="2.3" fill="#161696" opacity="0.55" filter="url(#bl1)"/>
<circle cx="100.2" cy="400.4" r="1.4" fill="#161696" opacity="0.55" filter="url(#bl1)"/>
<circle cx="106.2" cy="410.5" r="1.8" fill="#3232ff" opacity="0.55" filter="url(#bl1)"/>
<circle cx="111.6" cy="420.0" r="2.2" fill="#3232ff" opacity="0.55" filter="url(#bl1)"/>
<circle cx="91.8" cy="417.9" r="1.2" fill="#3232ff" opacity="0.55" filter="url(#bl1)"/>
<circle cx="100.6" cy="441.1" r="2.2" fill="#12128a" opacity="0.55" filter="url(#bl1)"/>
<circle cx="107.3" cy="408.4" r="2.0" fill="#1c1cb0" opacity="0.55" filter="url(#bl1)"/>
<circle cx="94.6" cy="398.3" r="2.4" fill="#1c1cb0" opacity="0.55" filter="url(#bl1)"/>
<circle cx="97.1" cy="398.6" r="1.8" fill="#3232ff" opacity="0.55" filter="url(#bl1)"/>
<circle cx="100.4" cy="440.4" r="1.5" fill="#3232ff" opacity="0.55" filter="url(#bl1)"/>
<circle cx="93.1" cy="431.3" r="1.6" fill="#161696" opacity="0.55" filter="url(#bl1)"/>
<circle cx="94.1" cy="426.4" r="2.4" fill="#1c1cb0" opacity="0.55" filter="url(#bl1)"/>
<circle cx="91.7" cy="415.5" r="2.5" fill="#161696" opacity="0.55" filter="url(#bl1)"/>
<circle cx="100.4" cy="420.4" r="2.5" fill="#3232ff" opacity="0.55" filter="url(#bl1)"/>
<circle cx="105.5" cy="426.3" r="1.4" fill="#161696" opacity="0.55" filter="url(#bl1)"/>
<circle cx="103.2" cy="392.5" r="1.7" fill="#1c1cb0" opacity="0.55" filter="url(#bl1)"/>
<circle cx="105.5" cy="403.1" r="2.2" fill="#161696" opacity="0.55" filter="url(#bl1)"/>
<circle cx="91.8" cy="416.4" r="1.9" fill="#2c2cf0" opacity="0.55" filter="url(#bl1)"/>
<circle cx="91.5" cy="432.0" r="2.6" fill="#161696" opacity="0.55" filter="url(#bl1)"/>
<circle cx="104.3" cy="435.6" r="2.2" fill="#12128a" opacity="0.55" filter="url(#bl1)"/>
<circle cx="94.1" cy="403.9" r="1.6" fill="#2c2cf0" opacity="0.55" filter="url(#bl1)"/>
<circle cx="99.9" cy="419.8" r="2.5" fill="#3232ff" opacity="0.55" filter="url(#bl1)"/>
<circle cx="94.5" cy="402.1" r="1.6" fill="#1c1cb0" opacity="0.55" filter="url(#bl1)"/>
<circle cx="102.6" cy="440.8" r="2.6" fill="#1c1cb0" opacity="0.55" filter="url(#bl1)"/>
<circle cx="112.3" cy="417.0" r="1.5" fill="#3232ff" opacity="0.55" filter="url(#bl1)"/>
<circle cx="108.0" cy="435.2" r="1.9" fill="#161696" opacity="0.55" filter="url(#bl1)"/>
<circle cx="95.9" cy="413.1" r="1.7" fill="#161696" opacity="0.55" filter="url(#bl1)"/>
<circle cx="94.3" cy="399.4" r="1.9" fill="#3232ff" opacity="0.55" filter="url(#bl1)"/>
<circle cx="98.7" cy="437.1" r="2.3" fill="#161696" opacity="0.55" filter="url(#bl1)"/>
<circle cx="91.0" cy="422.5" r="1.6" fill="#161696" opacity="0.55" filter="url(#bl1)"/>
<circle cx="96.9" cy="427.5" r="2.2" fill="#3232ff" opacity="0.55" filter="url(#bl1)"/>
<circle cx="90.7" cy="420.8" r="1.7" fill="#2c2cf0" opacity="0.55" filter="url(#bl1)"/>
<circle cx="97.3" cy="405.5" r="1.8" fill="#3232ff" opacity="0.55" filter="url(#bl1)"/>
<circle cx="94.9" cy="401.4" r="1.4" fill="#2c2cf0" opacity="0.55" filter="url(#bl1)"/>
<circle cx="98.7" cy="433.7" r="2.4" fill="#12128a" opacity="0.55" filter="url(#bl1)"/>
<circle cx="109.5" cy="404.7" r="1.9" fill="#161696" opacity="0.55" filter="url(#bl1)"/>
<rect x="96.0" y="435.2" width="0.9" height="0.9" fill="#9a1cc0" opacity="0.85"/>
<rect x="98.1" y="407.6" width="0.9" height="0.9" fill="#9a1cc0" opacity="0.85"/>
<rect x="106.7" y="424.5" width="0.9" height="0.9" fill="#9a1cc0" opacity="0.85"/>
<rect x="94.1" y="405.0" width="0.9" height="0.9" fill="#9a1cc0" opacity="0.85"/>
<rect x="104.1" y="408.7" width="0.9" height="0.9" fill="#9a1cc0" opacity="0.85"/>
<rect x="91.1" y="425.2" width="0.9" height="0.9" fill="#9a1cc0" opacity="0.85"/>
<rect x="102.9" y="434.7" width="0.9" height="0.9" fill="#9a1cc0" opacity="0.85"/>
<rect x="92.1" y="413.4" width="0.9" height="0.9" fill="#9a1cc0" opacity="0.85"/>
<rect x="96.6" y="393.0" width="0.9" height="0.9" fill="#9a1cc0" opacity="0.85"/>
<rect x="110.4" y="431.9" width="0.9" height="0.9" fill="#9a1cc0" opacity="0.85"/>
<rect x="92.1" y="411.5" width="0.9" height="0.9" fill="#9a1cc0" opacity="0.85"/>
<rect x="98.6" y="436.4" width="0.9" height="0.9" fill="#9a1cc0" opacity="0.85"/>
<rect x="101.8" y="425.4" width="0.9" height="0.9" fill="#9a1cc0" opacity="0.85"/>
<rect x="106.1" y="399.1" width="0.9" height="0.9" fill="#9a1cc0" opacity="0.85"/>
<rect x="104.0" y="424.3" width="0.9" height="0.9" fill="#9a1cc0" opacity="0.85"/>
<rect x="91.7" y="430.1" width="0.9" height="0.9" fill="#9a1cc0" opacity="0.85"/>
<rect x="92.4" y="421.4" width="0.9" height="0.9" fill="#9a1cc0" opacity="0.85"/>
<rect x="89.9" y="420.5" width="0.9" height="0.9" fill="#9a1cc0" opacity="0.85"/>
<rect x="99.2" y="405.1" width="0.9" height="0.9" fill="#9a1cc0" opacity="0.85"/>
<rect x="105.6" y="436.2" width="0.9" height="0.9" fill="#9a1cc0" opacity="0.85"/>
<rect x="100.5" y="407.1" width="0.9" height="0.9" fill="#9a1cc0" opacity="0.85"/>
<rect x="96.8" y="438.6" width="0.9" height="0.9" fill="#9a1cc0" opacity="0.85"/>
<rect x="94.6" y="418.2" width="0.9" height="0.9" fill="#9a1cc0" opacity="0.85"/>
<rect x="93.5" y="421.8" width="0.9" height="0.9" fill="#9a1cc0" opacity="0.85"/>
<rect x="110.6" y="418.0" width="0.9" height="0.9" fill="#9a1cc0" opacity="0.85"/>
<rect x="104.0" y="432.8" width="0.9" height="0.9" fill="#9a1cc0" opacity="0.85"/>
<rect x="100.0" y="414.9" width="0.9" height="0.9" fill="#9a1cc0" opacity="0.85"/>
<rect x="110.6" y="424.7" width="0.9" height="0.9" fill="#9a1cc0" opacity="0.85"/>
<rect x="111.5" y="417.8" width="0.9" height="0.9" fill="#9a1cc0" opacity="0.85"/>
<rect x="107.8" y="428.6" width="0.9" height="0.9" fill="#9a1cc0" opacity="0.85"/>
<rect x="101.2" y="407.6" width="0.9" height="0.9" fill="#9a1cc0" opacity="0.85"/>
<rect x="102.7" y="435.1" width="0.9" height="0.9" fill="#9a1cc0" opacity="0.85"/>
<rect x="103.5" y="424.0" width="0.9" height="0.9" fill="#9a1cc0" opacity="0.85"/>
<rect x="97.3" y="404.6" width="0.9" height="0.9" fill="#9a1cc0" opacity="0.85"/>
<rect x="102.6" y="398.0" width="0.9" height="0.9" fill="#9a1cc0" opacity="0.85"/>
<rect x="106.3" y="410.4" width="0.9" height="0.9" fill="#9a1cc0" opacity="0.85"/>
<rect x="97.8" y="429.5" width="0.9" height="0.9" fill="#9a1cc0" opacity="0.85"/>
<rect x="106.9" y="422.8" width="0.9" height="0.9" fill="#9a1cc0" opacity="0.85"/>
<rect x="96.0" y="433.1" width="0.9" height="0.9" fill="#9a1cc0" opacity="0.85"/>
<rect x="95.2" y="441.4" width="0.9" height="0.9" fill="#9a1cc0" opacity="0.85"/>
<rect x="105.8" y="406.5" width="0.9" height="0.9" fill="#9a1cc0" opacity="0.85"/>
<rect x="103.4" y="436.3" width="0.9" height="0.9" fill="#9a1cc0" opacity="0.85"/>
<rect x="104.8" y="426.1" width="0.9" height="0.9" fill="#9a1cc0" opacity="0.85"/>
<rect x="100.0" y="408.5" width="0.9" height="0.9" fill="#9a1cc0" opacity="0.85"/>
<rect x="104.4" y="416.6" width="0.9" height="0.9" fill="#9a1cc0" opacity="0.85"/>
<rect x="108.4" y="417.6" width="0.9" height="0.9" fill="#9a1cc0" opacity="0.85"/>
<rect x="94.0" y="412.2" width="0.9" height="0.9" fill="#9a1cc0" opacity="0.85"/>
<rect x="94.4" y="410.3" width="0.9" height="0.9" fill="#9a1cc0" opacity="0.85"/>
<rect x="103.0" y="421.7" width="0.9" height="0.9" fill="#9a1cc0" opacity="0.85"/>
<rect x="104.5" y="401.1" width="0.9" height="0.9" fill="#9a1cc0" opacity="0.85"/>
<rect x="101.3" y="411.3" width="0.9" height="0.9" fill="#9a1cc0" opacity="0.85"/>
<rect x="92.4" y="417.9" width="0.9" height="0.9" fill="#9a1cc0" opacity="0.85"/>
<rect x="97.8" y="425.4" width="0.9" height="0.9" fill="#9a1cc0" opacity="0.85"/>
<rect x="96.5" y="397.9" width="0.9" height="0.9" fill="#9a1cc0" opacity="0.85"/>
<rect x="103.4" y="412.5" width="0.9" height="0.9" fill="#9a1cc0" opacity="0.85"/>
<rect x="110.0" y="423.3" width="0.9" height="0.9" fill="#9a1cc0" opacity="0.85"/>
<circle cx="139.2" cy="398.0" r="2.4" fill="#161696" opacity="0.55" filter="url(#bl1)"/>
<circle cx="139.6" cy="413.7" r="1.7" fill="#12128a" opacity="0.55" filter="url(#bl1)"/>
<circle cx="161.4" cy="380.3" r="2.2" fill="#1c1cb0" opacity="0.55" filter="url(#bl1)"/>
<circle cx="157.7" cy="396.9" r="1.6" fill="#12128a" opacity="0.55" filter="url(#bl1)"/>
<circle cx="125.2" cy="420.3" r="1.9" fill="#12128a" opacity="0.55" filter="url(#bl1)"/>
<circle cx="119.5" cy="404.0" r="2.0" fill="#3232ff" opacity="0.55" filter="url(#bl1)"/>
<circle cx="167.6" cy="396.9" r="2.2" fill="#12128a" opacity="0.55" filter="url(#bl1)"/>
<circle cx="121.8" cy="388.8" r="1.9" fill="#161696" opacity="0.55" filter="url(#bl1)"/>
<circle cx="139.9" cy="414.3" r="1.5" fill="#3232ff" opacity="0.55" filter="url(#bl1)"/>
<circle cx="151.0" cy="412.0" r="1.2" fill="#12128a" opacity="0.55" filter="url(#bl1)"/>
<circle cx="133.1" cy="377.7" r="1.5" fill="#12128a" opacity="0.55" filter="url(#bl1)"/>
<circle cx="164.8" cy="425.2" r="2.2" fill="#2c2cf0" opacity="0.55" filter="url(#bl1)"/>
<circle cx="150.0" cy="438.6" r="2.5" fill="#161696" opacity="0.55" filter="url(#bl1)"/>
<circle cx="130.1" cy="431.2" r="2.2" fill="#161696" opacity="0.55" filter="url(#bl1)"/>
<circle cx="170.9" cy="422.5" r="1.8" fill="#3232ff" opacity="0.55" filter="url(#bl1)"/>
<circle cx="163.6" cy="401.1" r="2.2" fill="#12128a" opacity="0.55" filter="url(#bl1)"/>
<circle cx="152.6" cy="408.7" r="1.3" fill="#1c1cb0" opacity="0.55" filter="url(#bl1)"/>
<circle cx="138.3" cy="436.4" r="2.5" fill="#161696" opacity="0.55" filter="url(#bl1)"/>
<circle cx="161.6" cy="384.7" r="1.7" fill="#2c2cf0" opacity="0.55" filter="url(#bl1)"/>
<circle cx="129.6" cy="397.8" r="1.4" fill="#161696" opacity="0.55" filter="url(#bl1)"/>
<circle cx="154.4" cy="388.1" r="2.1" fill="#161696" opacity="0.55" filter="url(#bl1)"/>
<circle cx="131.2" cy="419.2" r="2.5" fill="#3232ff" opacity="0.55" filter="url(#bl1)"/>
<circle cx="154.0" cy="382.5" r="1.6" fill="#2c2cf0" opacity="0.55" filter="url(#bl1)"/>
<circle cx="129.8" cy="388.7" r="1.7" fill="#1c1cb0" opacity="0.55" filter="url(#bl1)"/>
<circle cx="123.5" cy="386.9" r="2.0" fill="#161696" opacity="0.55" filter="url(#bl1)"/>
<circle cx="141.1" cy="430.0" r="1.7" fill="#161696" opacity="0.55" filter="url(#bl1)"/>
<circle cx="138.7" cy="383.3" r="2.3" fill="#161696" opacity="0.55" filter="url(#bl1)"/>
<circle cx="148.4" cy="409.8" r="1.6" fill="#2c2cf0" opacity="0.55" filter="url(#bl1)"/>
<circle cx="165.8" cy="436.7" r="1.6" fill="#12128a" opacity="0.55" filter="url(#bl1)"/>
<circle cx="168.1" cy="434.2" r="1.4" fill="#1c1cb0" opacity="0.55" filter="url(#bl1)"/>
<circle cx="177.3" cy="403.5" r="2.2" fill="#1c1cb0" opacity="0.55" filter="url(#bl1)"/>
<circle cx="165.1" cy="397.7" r="2.0" fill="#12128a" opacity="0.55" filter="url(#bl1)"/>
<circle cx="128.8" cy="410.5" r="1.6" fill="#161696" opacity="0.55" filter="url(#bl1)"/>
<circle cx="167.8" cy="416.3" r="2.5" fill="#161696" opacity="0.55" filter="url(#bl1)"/>
<circle cx="146.0" cy="406.6" r="1.8" fill="#3232ff" opacity="0.55" filter="url(#bl1)"/>
<circle cx="173.5" cy="425.0" r="1.5" fill="#12128a" opacity="0.55" filter="url(#bl1)"/>
<circle cx="121.8" cy="392.4" r="1.6" fill="#1c1cb0" opacity="0.55" filter="url(#bl1)"/>
<circle cx="134.1" cy="407.8" r="1.5" fill="#161696" opacity="0.55" filter="url(#bl1)"/>
<circle cx="160.2" cy="435.2" r="2.0" fill="#2c2cf0" opacity="0.55" filter="url(#bl1)"/>
<circle cx="130.6" cy="432.6" r="1.5" fill="#161696" opacity="0.55" filter="url(#bl1)"/>
<circle cx="168.8" cy="396.8" r="1.7" fill="#12128a" opacity="0.55" filter="url(#bl1)"/>
<circle cx="139.7" cy="410.7" r="2.0" fill="#2c2cf0" opacity="0.55" filter="url(#bl1)"/>
<circle cx="135.6" cy="429.4" r="1.3" fill="#12128a" opacity="0.55" filter="url(#bl1)"/>
<circle cx="157.2" cy="440.0" r="1.9" fill="#1c1cb0" opacity="0.55" filter="url(#bl1)"/>
<circle cx="133.6" cy="401.0" r="1.8" fill="#2c2cf0" opacity="0.55" filter="url(#bl1)"/>
<circle cx="175.5" cy="398.2" r="2.5" fill="#1c1cb0" opacity="0.55" filter="url(#bl1)"/>
<circle cx="148.5" cy="415.3" r="2.6" fill="#161696" opacity="0.55" filter="url(#bl1)"/>
<circle cx="144.8" cy="412.5" r="2.0" fill="#12128a" opacity="0.55" filter="url(#bl1)"/>
<circle cx="163.8" cy="391.0" r="2.4" fill="#12128a" opacity="0.55" filter="url(#bl1)"/>
<circle cx="128.8" cy="382.3" r="1.6" fill="#12128a" opacity="0.55" filter="url(#bl1)"/>
<circle cx="124.9" cy="397.3" r="1.8" fill="#1c1cb0" opacity="0.55" filter="url(#bl1)"/>
<circle cx="136.4" cy="412.9" r="2.6" fill="#161696" opacity="0.55" filter="url(#bl1)"/>
<circle cx="149.8" cy="415.2" r="2.5" fill="#2c2cf0" opacity="0.55" filter="url(#bl1)"/>
<circle cx="171.2" cy="418.0" r="2.4" fill="#12128a" opacity="0.55" filter="url(#bl1)"/>
<circle cx="176.2" cy="417.5" r="1.3" fill="#3232ff" opacity="0.55" filter="url(#bl1)"/>
<circle cx="166.0" cy="432.6" r="2.1" fill="#161696" opacity="0.55" filter="url(#bl1)"/>
<circle cx="141.2" cy="434.3" r="1.9" fill="#12128a" opacity="0.55" filter="url(#bl1)"/>
<circle cx="134.7" cy="424.3" r="1.9" fill="#2c2cf0" opacity="0.55" filter="url(#bl1)"/>
<circle cx="156.5" cy="423.4" r="2.5" fill="#161696" opacity="0.55" filter="url(#bl1)"/>
<circle cx="166.0" cy="393.3" r="2.3" fill="#161696" opacity="0.55" filter="url(#bl1)"/>
<circle cx="165.0" cy="435.3" r="2.5" fill="#12128a" opacity="0.55" filter="url(#bl1)"/>
<circle cx="169.2" cy="383.7" r="2.3" fill="#161696" opacity="0.55" filter="url(#bl1)"/>
<circle cx="178.8" cy="399.5" r="2.4" fill="#3232ff" opacity="0.55" filter="url(#bl1)"/>
<circle cx="133.6" cy="391.3" r="1.7" fill="#2c2cf0" opacity="0.55" filter="url(#bl1)"/>
<circle cx="149.8" cy="420.3" r="1.4" fill="#2c2cf0" opacity="0.55" filter="url(#bl1)"/>
<circle cx="150.1" cy="416.7" r="2.0" fill="#3232ff" opacity="0.55" filter="url(#bl1)"/>
<circle cx="167.3" cy="434.4" r="1.8" fill="#2c2cf0" opacity="0.55" filter="url(#bl1)"/>
<circle cx="148.8" cy="414.0" r="2.4" fill="#1c1cb0" opacity="0.55" filter="url(#bl1)"/>
<circle cx="142.0" cy="420.9" r="1.4" fill="#3232ff" opacity="0.55" filter="url(#bl1)"/>
<circle cx="127.0" cy="415.1" r="2.6" fill="#161696" opacity="0.55" filter="url(#bl1)"/>
<circle cx="177.4" cy="420.1" r="2.0" fill="#161696" opacity="0.55" filter="url(#bl1)"/>
<circle cx="154.4" cy="397.9" r="2.6" fill="#161696" opacity="0.55" filter="url(#bl1)"/>
<circle cx="133.6" cy="415.9" r="2.5" fill="#161696" opacity="0.55" filter="url(#bl1)"/>
<circle cx="163.0" cy="419.3" r="1.3" fill="#161696" opacity="0.55" filter="url(#bl1)"/>
<circle cx="146.1" cy="389.5" r="1.8" fill="#12128a" opacity="0.55" filter="url(#bl1)"/>
<circle cx="125.6" cy="407.2" r="1.2" fill="#3232ff" opacity="0.55" filter="url(#bl1)"/>
<circle cx="160.3" cy="386.1" r="1.7" fill="#161696" opacity="0.55" filter="url(#bl1)"/>
<circle cx="168.8" cy="414.1" r="2.0" fill="#2c2cf0" opacity="0.55" filter="url(#bl1)"/>
<circle cx="157.6" cy="419.8" r="2.2" fill="#161696" opacity="0.55" filter="url(#bl1)"/>
<circle cx="151.7" cy="417.8" r="2.4" fill="#12128a" opacity="0.55" filter="url(#bl1)"/>
<circle cx="145.3" cy="377.8" r="1.5" fill="#161696" opacity="0.55" filter="url(#bl1)"/>
<circle cx="128.0" cy="389.1" r="2.0" fill="#161696" opacity="0.55" filter="url(#bl1)"/>
<circle cx="151.2" cy="417.0" r="1.8" fill="#1c1cb0" opacity="0.55" filter="url(#bl1)"/>
<circle cx="147.3" cy="400.2" r="1.7" fill="#2c2cf0" opacity="0.55" filter="url(#bl1)"/>
<circle cx="165.2" cy="380.9" r="1.3" fill="#3232ff" opacity="0.55" filter="url(#bl1)"/>
<circle cx="124.8" cy="425.0" r="2.4" fill="#161696" opacity="0.55" filter="url(#bl1)"/>
<circle cx="147.3" cy="423.5" r="1.3" fill="#2c2cf0" opacity="0.55" filter="url(#bl1)"/>
<circle cx="141.4" cy="382.8" r="1.7" fill="#12128a" opacity="0.55" filter="url(#bl1)"/>
<circle cx="177.7" cy="394.0" r="1.4" fill="#12128a" opacity="0.55" filter="url(#bl1)"/>
<circle cx="142.2" cy="377.3" r="2.3" fill="#2c2cf0" opacity="0.55" filter="url(#bl1)"/>
<circle cx="165.3" cy="388.6" r="1.6" fill="#12128a" opacity="0.55" filter="url(#bl1)"/>
<circle cx="170.3" cy="427.3" r="1.9" fill="#3232ff" opacity="0.55" filter="url(#bl1)"/>
<circle cx="125.4" cy="403.5" r="1.5" fill="#12128a" opacity="0.55" filter="url(#bl1)"/>
<circle cx="170.4" cy="423.1" r="1.3" fill="#161696" opacity="0.55" filter="url(#bl1)"/>
<circle cx="148.6" cy="440.3" r="1.2" fill="#12128a" opacity="0.55" filter="url(#bl1)"/>
<circle cx="173.6" cy="394.8" r="1.2" fill="#2c2cf0" opacity="0.55" filter="url(#bl1)"/>
<circle cx="128.7" cy="392.7" r="1.5" fill="#1c1cb0" opacity="0.55" filter="url(#bl1)"/>
<circle cx="130.7" cy="415.6" r="2.2" fill="#12128a" opacity="0.55" filter="url(#bl1)"/>
<circle cx="159.6" cy="411.9" r="2.0" fill="#3232ff" opacity="0.55" filter="url(#bl1)"/>
<circle cx="149.5" cy="396.7" r="1.8" fill="#12128a" opacity="0.55" filter="url(#bl1)"/>
<circle cx="165.0" cy="429.0" r="1.4" fill="#161696" opacity="0.55" filter="url(#bl1)"/>
<circle cx="123.6" cy="394.9" r="2.5" fill="#161696" opacity="0.55" filter="url(#bl1)"/>
<circle cx="174.4" cy="411.7" r="2.0" fill="#3232ff" opacity="0.55" filter="url(#bl1)"/>
<circle cx="143.8" cy="404.4" r="2.3" fill="#12128a" opacity="0.55" filter="url(#bl1)"/>
<circle cx="140.3" cy="423.1" r="2.2" fill="#2c2cf0" opacity="0.55" filter="url(#bl1)"/>
<circle cx="162.1" cy="386.3" r="2.3" fill="#2c2cf0" opacity="0.55" filter="url(#bl1)"/>
<circle cx="153.0" cy="401.7" r="1.4" fill="#1c1cb0" opacity="0.55" filter="url(#bl1)"/>
<circle cx="140.5" cy="389.4" r="2.1" fill="#3232ff" opacity="0.55" filter="url(#bl1)"/>
<circle cx="159.4" cy="409.2" r="1.3" fill="#161696" opacity="0.55" filter="url(#bl1)"/>
<circle cx="127.7" cy="418.6" r="1.5" fill="#12128a" opacity="0.55" filter="url(#bl1)"/>
<circle cx="130.8" cy="419.0" r="2.1" fill="#3232ff" opacity="0.55" filter="url(#bl1)"/>
<circle cx="159.8" cy="377.5" r="1.2" fill="#12128a" opacity="0.55" filter="url(#bl1)"/>
<circle cx="138.2" cy="394.3" r="1.6" fill="#1c1cb0" opacity="0.55" filter="url(#bl1)"/>
<circle cx="118.6" cy="399.5" r="1.3" fill="#1c1cb0" opacity="0.55" filter="url(#bl1)"/>
<circle cx="151.4" cy="411.3" r="2.5" fill="#161696" opacity="0.55" filter="url(#bl1)"/>
<circle cx="144.5" cy="427.4" r="1.4" fill="#161696" opacity="0.55" filter="url(#bl1)"/>
<circle cx="122.4" cy="389.1" r="2.5" fill="#1c1cb0" opacity="0.55" filter="url(#bl1)"/>
<circle cx="170.2" cy="422.1" r="1.8" fill="#161696" opacity="0.55" filter="url(#bl1)"/>
<circle cx="118.3" cy="406.0" r="2.0" fill="#3232ff" opacity="0.55" filter="url(#bl1)"/>
<circle cx="144.5" cy="438.3" r="1.6" fill="#1c1cb0" opacity="0.55" filter="url(#bl1)"/>
<circle cx="122.8" cy="416.8" r="2.1" fill="#161696" opacity="0.55" filter="url(#bl1)"/>
<circle cx="156.9" cy="436.8" r="2.4" fill="#3232ff" opacity="0.55" filter="url(#bl1)"/>
<circle cx="141.3" cy="431.4" r="1.2" fill="#2c2cf0" opacity="0.55" filter="url(#bl1)"/>
<circle cx="141.6" cy="421.7" r="1.7" fill="#1c1cb0" opacity="0.55" filter="url(#bl1)"/>
<circle cx="145.7" cy="406.4" r="1.4" fill="#2c2cf0" opacity="0.55" filter="url(#bl1)"/>
<circle cx="166.3" cy="402.4" r="1.9" fill="#2c2cf0" opacity="0.55" filter="url(#bl1)"/>
<circle cx="141.7" cy="442.6" r="1.3" fill="#2c2cf0" opacity="0.55" filter="url(#bl1)"/>
<circle cx="172.5" cy="412.0" r="2.4" fill="#1c1cb0" opacity="0.55" filter="url(#bl1)"/>
<circle cx="141.2" cy="411.6" r="2.4" fill="#3232ff" opacity="0.55" filter="url(#bl1)"/>
<circle cx="131.5" cy="432.9" r="1.5" fill="#1c1cb0" opacity="0.55" filter="url(#bl1)"/>
<circle cx="175.7" cy="400.7" r="1.8" fill="#161696" opacity="0.55" filter="url(#bl1)"/>
<circle cx="142.7" cy="396.9" r="2.1" fill="#161696" opacity="0.55" filter="url(#bl1)"/>
<circle cx="166.0" cy="382.5" r="1.3" fill="#1c1cb0" opacity="0.55" filter="url(#bl1)"/>
<circle cx="168.0" cy="381.8" r="1.6" fill="#3232ff" opacity="0.55" filter="url(#bl1)"/>
<circle cx="131.1" cy="387.9" r="1.8" fill="#161696" opacity="0.55" filter="url(#bl1)"/>
<circle cx="165.2" cy="422.1" r="2.0" fill="#1c1cb0" opacity="0.55" filter="url(#bl1)"/>
<circle cx="116.9" cy="408.9" r="1.4" fill="#1c1cb0" opacity="0.55" filter="url(#bl1)"/>
<circle cx="158.8" cy="393.3" r="2.1" fill="#1c1cb0" opacity="0.55" filter="url(#bl1)"/>
<circle cx="132.8" cy="424.7" r="1.6" fill="#3232ff" opacity="0.55" filter="url(#bl1)"/>
<circle cx="137.1" cy="425.2" r="2.0" fill="#1c1cb0" opacity="0.55" filter="url(#bl1)"/>
<circle cx="134.9" cy="421.7" r="1.7" fill="#3232ff" opacity="0.55" filter="url(#bl1)"/>
<circle cx="141.4" cy="433.0" r="1.8" fill="#161696" opacity="0.55" filter="url(#bl1)"/>
<circle cx="137.5" cy="420.3" r="1.7" fill="#2c2cf0" opacity="0.55" filter="url(#bl1)"/>
<circle cx="165.1" cy="381.5" r="1.5" fill="#2c2cf0" opacity="0.55" filter="url(#bl1)"/>
<circle cx="121.0" cy="423.4" r="1.2" fill="#12128a" opacity="0.55" filter="url(#bl1)"/>
<circle cx="147.4" cy="441.8" r="2.5" fill="#2c2cf0" opacity="0.55" filter="url(#bl1)"/>
<circle cx="152.2" cy="382.8" r="1.9" fill="#3232ff" opacity="0.55" filter="url(#bl1)"/>
<circle cx="122.0" cy="405.2" r="1.8" fill="#3232ff" opacity="0.55" filter="url(#bl1)"/>
<circle cx="174.5" cy="415.7" r="2.5" fill="#3232ff" opacity="0.55" filter="url(#bl1)"/>
<circle cx="138.2" cy="385.5" r="1.8" fill="#12128a" opacity="0.55" filter="url(#bl1)"/>
<circle cx="122.6" cy="408.2" r="1.4" fill="#1c1cb0" opacity="0.55" filter="url(#bl1)"/>
<circle cx="156.7" cy="429.6" r="1.8" fill="#3232ff" opacity="0.55" filter="url(#bl1)"/>
<circle cx="125.8" cy="383.6" r="2.2" fill="#2c2cf0" opacity="0.55" filter="url(#bl1)"/>
<circle cx="148.5" cy="397.7" r="1.6" fill="#2c2cf0" opacity="0.55" filter="url(#bl1)"/>
<circle cx="177.9" cy="404.1" r="1.4" fill="#1c1cb0" opacity="0.55" filter="url(#bl1)"/>
<circle cx="138.9" cy="392.5" r="2.3" fill="#2c2cf0" opacity="0.55" filter="url(#bl1)"/>
<circle cx="179.2" cy="406.4" r="2.1" fill="#3232ff" opacity="0.55" filter="url(#bl1)"/>
<circle cx="119.7" cy="403.6" r="1.9" fill="#161696" opacity="0.55" filter="url(#bl1)"/>
<circle cx="154.0" cy="422.3" r="2.0" fill="#1c1cb0" opacity="0.55" filter="url(#bl1)"/>
<circle cx="129.2" cy="436.4" r="2.2" fill="#12128a" opacity="0.55" filter="url(#bl1)"/>
<circle cx="150.4" cy="408.5" r="1.2" fill="#1c1cb0" opacity="0.55" filter="url(#bl1)"/>
<circle cx="138.7" cy="438.9" r="1.2" fill="#1c1cb0" opacity="0.55" filter="url(#bl1)"/>
<circle cx="162.0" cy="411.1" r="2.0" fill="#1c1cb0" opacity="0.55" filter="url(#bl1)"/>
<circle cx="169.9" cy="384.2" r="2.6" fill="#1c1cb0" opacity="0.55" filter="url(#bl1)"/>
<circle cx="130.1" cy="398.2" r="1.4" fill="#12128a" opacity="0.55" filter="url(#bl1)"/>
<circle cx="125.7" cy="405.5" r="1.3" fill="#12128a" opacity="0.55" filter="url(#bl1)"/>
<circle cx="159.9" cy="430.8" r="2.1" fill="#3232ff" opacity="0.55" filter="url(#bl1)"/>
<circle cx="151.5" cy="400.2" r="2.2" fill="#12128a" opacity="0.55" filter="url(#bl1)"/>
<circle cx="137.9" cy="402.0" r="1.7" fill="#161696" opacity="0.55" filter="url(#bl1)"/>
<circle cx="156.8" cy="424.3" r="2.4" fill="#12128a" opacity="0.55" filter="url(#bl1)"/>
<circle cx="156.4" cy="405.5" r="1.8" fill="#161696" opacity="0.55" filter="url(#bl1)"/>
<circle cx="143.0" cy="413.8" r="2.0" fill="#3232ff" opacity="0.55" filter="url(#bl1)"/>
<circle cx="169.5" cy="402.5" r="1.5" fill="#1c1cb0" opacity="0.55" filter="url(#bl1)"/>
<circle cx="150.9" cy="422.3" r="2.4" fill="#1c1cb0" opacity="0.55" filter="url(#bl1)"/>
<circle cx="136.5" cy="439.1" r="1.6" fill="#3232ff" opacity="0.55" filter="url(#bl1)"/>
<circle cx="123.3" cy="387.6" r="2.6" fill="#3232ff" opacity="0.55" filter="url(#bl1)"/>
<circle cx="173.0" cy="420.4" r="1.5" fill="#1c1cb0" opacity="0.55" filter="url(#bl1)"/>
<circle cx="137.7" cy="439.2" r="1.2" fill="#3232ff" opacity="0.55" filter="url(#bl1)"/>
<circle cx="155.2" cy="400.7" r="1.7" fill="#161696" opacity="0.55" filter="url(#bl1)"/>
<circle cx="161.1" cy="440.5" r="1.8" fill="#2c2cf0" opacity="0.55" filter="url(#bl1)"/>
<circle cx="136.5" cy="423.9" r="1.7" fill="#3232ff" opacity="0.55" filter="url(#bl1)"/>
<circle cx="130.2" cy="380.2" r="2.4" fill="#3232ff" opacity="0.55" filter="url(#bl1)"/>
<circle cx="139.2" cy="422.5" r="1.9" fill="#161696" opacity="0.55" filter="url(#bl1)"/>
<circle cx="136.7" cy="427.7" r="2.1" fill="#2c2cf0" opacity="0.55" filter="url(#bl1)"/>
<circle cx="141.7" cy="420.1" r="1.3" fill="#161696" opacity="0.55" filter="url(#bl1)"/>
<circle cx="145.0" cy="440.4" r="2.0" fill="#161696" opacity="0.55" filter="url(#bl1)"/>
<circle cx="120.4" cy="414.9" r="1.4" fill="#161696" opacity="0.55" filter="url(#bl1)"/>
<circle cx="132.1" cy="432.3" r="2.1" fill="#3232ff" opacity="0.55" filter="url(#bl1)"/>
<circle cx="133.2" cy="399.1" r="1.9" fill="#3232ff" opacity="0.55" filter="url(#bl1)"/>
<circle cx="151.8" cy="431.9" r="2.5" fill="#161696" opacity="0.55" filter="url(#bl1)"/>
<circle cx="173.7" cy="408.0" r="2.0" fill="#3232ff" opacity="0.55" filter="url(#bl1)"/>
<circle cx="137.8" cy="421.3" r="1.9" fill="#1c1cb0" opacity="0.55" filter="url(#bl1)"/>
<circle cx="168.5" cy="430.1" r="1.3" fill="#1c1cb0" opacity="0.55" filter="url(#bl1)"/>
<circle cx="165.3" cy="384.1" r="1.2" fill="#3232ff" opacity="0.55" filter="url(#bl1)"/>
<circle cx="146.2" cy="395.2" r="1.7" fill="#12128a" opacity="0.55" filter="url(#bl1)"/>
<circle cx="160.4" cy="416.0" r="1.6" fill="#161696" opacity="0.55" filter="url(#bl1)"/>
<circle cx="143.1" cy="398.5" r="2.5" fill="#1c1cb0" opacity="0.55" filter="url(#bl1)"/>
<circle cx="158.3" cy="379.5" r="1.3" fill="#161696" opacity="0.55" filter="url(#bl1)"/>
<circle cx="142.9" cy="424.0" r="2.3" fill="#161696" opacity="0.55" filter="url(#bl1)"/>
<circle cx="133.1" cy="420.9" r="2.3" fill="#3232ff" opacity="0.55" filter="url(#bl1)"/>
<circle cx="171.0" cy="386.4" r="2.5" fill="#161696" opacity="0.55" filter="url(#bl1)"/>
<circle cx="157.5" cy="427.5" r="2.5" fill="#2c2cf0" opacity="0.55" filter="url(#bl1)"/>
<circle cx="175.6" cy="413.1" r="1.5" fill="#3232ff" opacity="0.55" filter="url(#bl1)"/>
<circle cx="159.7" cy="391.2" r="1.5" fill="#12128a" opacity="0.55" filter="url(#bl1)"/>
<circle cx="171.9" cy="430.7" r="2.2" fill="#161696" opacity="0.55" filter="url(#bl1)"/>
<circle cx="155.0" cy="410.2" r="1.8" fill="#161696" opacity="0.55" filter="url(#bl1)"/>
<circle cx="149.3" cy="394.5" r="2.0" fill="#12128a" opacity="0.55" filter="url(#bl1)"/>
<rect x="126.7" y="383.1" width="0.9" height="0.9" fill="#9a1cc0" opacity="0.85"/>
<rect x="134.3" y="401.6" width="0.9" height="0.9" fill="#9a1cc0" opacity="0.85"/>
<rect x="124.9" y="408.7" width="0.9" height="0.9" fill="#9a1cc0" opacity="0.85"/>
<rect x="172.8" y="395.2" width="0.9" height="0.9" fill="#9a1cc0" opacity="0.85"/>
<rect x="120.3" y="392.6" width="0.9" height="0.9" fill="#9a1cc0" opacity="0.85"/>
<rect x="170.7" y="428.7" width="0.9" height="0.9" fill="#9a1cc0" opacity="0.85"/>
<rect x="131.2" y="380.2" width="0.9" height="0.9" fill="#9a1cc0" opacity="0.85"/>
<rect x="166.5" y="389.0" width="0.9" height="0.9" fill="#9a1cc0" opacity="0.85"/>
<rect x="137.9" y="375.0" width="0.9" height="0.9" fill="#9a1cc0" opacity="0.85"/>
<rect x="146.0" y="402.1" width="0.9" height="0.9" fill="#9a1cc0" opacity="0.85"/>
<rect x="136.6" y="437.1" width="0.9" height="0.9" fill="#9a1cc0" opacity="0.85"/>
<rect x="130.9" y="436.7" width="0.9" height="0.9" fill="#9a1cc0" opacity="0.85"/>
<rect x="124.0" y="423.8" width="0.9" height="0.9" fill="#9a1cc0" opacity="0.85"/>
<rect x="174.5" y="408.1" width="0.9" height="0.9" fill="#9a1cc0" opacity="0.85"/>
<rect x="153.1" y="434.0" width="0.9" height="0.9" fill="#9a1cc0" opacity="0.85"/>
<rect x="130.0" y="436.8" width="0.9" height="0.9" fill="#9a1cc0" opacity="0.85"/>
<rect x="130.7" y="415.8" width="0.9" height="0.9" fill="#9a1cc0" opacity="0.85"/>
<rect x="121.4" y="407.8" width="0.9" height="0.9" fill="#9a1cc0" opacity="0.85"/>
<rect x="162.5" y="384.3" width="0.9" height="0.9" fill="#9a1cc0" opacity="0.85"/>
<rect x="121.6" y="406.8" width="0.9" height="0.9" fill="#9a1cc0" opacity="0.85"/>
<rect x="156.1" y="436.7" width="0.9" height="0.9" fill="#9a1cc0" opacity="0.85"/>
<rect x="165.3" y="382.4" width="0.9" height="0.9" fill="#9a1cc0" opacity="0.85"/>
<rect x="134.4" y="409.4" width="0.9" height="0.9" fill="#9a1cc0" opacity="0.85"/>
<rect x="177.3" y="398.8" width="0.9" height="0.9" fill="#9a1cc0" opacity="0.85"/>
<rect x="135.9" y="403.0" width="0.9" height="0.9" fill="#9a1cc0" opacity="0.85"/>
<rect x="163.7" y="435.5" width="0.9" height="0.9" fill="#9a1cc0" opacity="0.85"/>
<rect x="150.2" y="426.6" width="0.9" height="0.9" fill="#9a1cc0" opacity="0.85"/>
<rect x="161.9" y="405.1" width="0.9" height="0.9" fill="#9a1cc0" opacity="0.85"/>
<rect x="143.0" y="417.3" width="0.9" height="0.9" fill="#9a1cc0" opacity="0.85"/>
<rect x="140.7" y="398.4" width="0.9" height="0.9" fill="#9a1cc0" opacity="0.85"/>
<rect x="139.7" y="385.4" width="0.9" height="0.9" fill="#9a1cc0" opacity="0.85"/>
<rect x="121.2" y="411.7" width="0.9" height="0.9" fill="#9a1cc0" opacity="0.85"/>
<rect x="176.1" y="409.5" width="0.9" height="0.9" fill="#9a1cc0" opacity="0.85"/>
<rect x="166.4" y="429.7" width="0.9" height="0.9" fill="#9a1cc0" opacity="0.85"/>
<rect x="144.8" y="396.0" width="0.9" height="0.9" fill="#9a1cc0" opacity="0.85"/>
<rect x="142.1" y="381.9" width="0.9" height="0.9" fill="#9a1cc0" opacity="0.85"/>
<rect x="150.2" y="436.8" width="0.9" height="0.9" fill="#9a1cc0" opacity="0.85"/>
<rect x="164.5" y="424.2" width="0.9" height="0.9" fill="#9a1cc0" opacity="0.85"/>
<rect x="174.0" y="397.7" width="0.9" height="0.9" fill="#9a1cc0" opacity="0.85"/>
<rect x="167.1" y="437.7" width="0.9" height="0.9" fill="#9a1cc0" opacity="0.85"/>
<rect x="159.9" y="389.1" width="0.9" height="0.9" fill="#9a1cc0" opacity="0.85"/>
<rect x="156.1" y="437.1" width="0.9" height="0.9" fill="#9a1cc0" opacity="0.85"/>
<rect x="171.6" y="410.3" width="0.9" height="0.9" fill="#9a1cc0" opacity="0.85"/>
<rect x="178.7" y="417.5" width="0.9" height="0.9" fill="#9a1cc0" opacity="0.85"/>
<rect x="145.1" y="419.7" width="0.9" height="0.9" fill="#9a1cc0" opacity="0.85"/>
<rect x="137.0" y="441.2" width="0.9" height="0.9" fill="#9a1cc0" opacity="0.85"/>
<rect x="160.3" y="428.7" width="0.9" height="0.9" fill="#9a1cc0" opacity="0.85"/>
<rect x="132.6" y="400.3" width="0.9" height="0.9" fill="#9a1cc0" opacity="0.85"/>
<rect x="142.1" y="405.7" width="0.9" height="0.9" fill="#9a1cc0" opacity="0.85"/>
<rect x="116.7" y="415.4" width="0.9" height="0.9" fill="#9a1cc0" opacity="0.85"/>
<rect x="120.3" y="411.2" width="0.9" height="0.9" fill="#9a1cc0" opacity="0.85"/>
<rect x="134.8" y="435.3" width="0.9" height="0.9" fill="#9a1cc0" opacity="0.85"/>
<rect x="146.3" y="437.1" width="0.9" height="0.9" fill="#9a1cc0" opacity="0.85"/>
<rect x="170.9" y="401.7" width="0.9" height="0.9" fill="#9a1cc0" opacity="0.85"/>
<rect x="152.6" y="388.5" width="0.9" height="0.9" fill="#9a1cc0" opacity="0.85"/>
<rect x="142.4" y="416.8" width="0.9" height="0.9" fill="#9a1cc0" opacity="0.85"/>
<rect x="142.9" y="435.8" width="0.9" height="0.9" fill="#9a1cc0" opacity="0.85"/>
<rect x="145.4" y="378.6" width="0.9" height="0.9" fill="#9a1cc0" opacity="0.85"/>
<rect x="143.4" y="400.2" width="0.9" height="0.9" fill="#9a1cc0" opacity="0.85"/>
<rect x="148.6" y="402.7" width="0.9" height="0.9" fill="#9a1cc0" opacity="0.85"/>
<rect x="138.8" y="416.8" width="0.9" height="0.9" fill="#9a1cc0" opacity="0.85"/>
<rect x="126.9" y="434.4" width="0.9" height="0.9" fill="#9a1cc0" opacity="0.85"/>
<rect x="117.9" y="403.0" width="0.9" height="0.9" fill="#9a1cc0" opacity="0.85"/>
<rect x="144.3" y="398.0" width="0.9" height="0.9" fill="#9a1cc0" opacity="0.85"/>
<rect x="145.1" y="388.8" width="0.9" height="0.9" fill="#9a1cc0" opacity="0.85"/>
<rect x="133.6" y="393.6" width="0.9" height="0.9" fill="#9a1cc0" opacity="0.85"/>
<rect x="136.9" y="391.3" width="0.9" height="0.9" fill="#9a1cc0" opacity="0.85"/>
<rect x="150.2" y="421.5" width="0.9" height="0.9" fill="#9a1cc0" opacity="0.85"/>
<rect x="175.1" y="392.5" width="0.9" height="0.9" fill="#9a1cc0" opacity="0.85"/>
<rect x="148.5" y="417.0" width="0.9" height="0.9" fill="#9a1cc0" opacity="0.85"/>
<rect x="171.8" y="428.5" width="0.9" height="0.9" fill="#9a1cc0" opacity="0.85"/>
<rect x="177.7" y="391.3" width="0.9" height="0.9" fill="#9a1cc0" opacity="0.85"/>
<rect x="142.6" y="413.0" width="0.9" height="0.9" fill="#9a1cc0" opacity="0.85"/>
<rect x="153.2" y="431.2" width="0.9" height="0.9" fill="#9a1cc0" opacity="0.85"/>
<rect x="144.7" y="372.9" width="0.9" height="0.9" fill="#9a1cc0" opacity="0.85"/>
<rect x="127.9" y="391.3" width="0.9" height="0.9" fill="#9a1cc0" opacity="0.85"/>
<rect x="158.6" y="421.7" width="0.9" height="0.9" fill="#9a1cc0" opacity="0.85"/>
<rect x="165.7" y="430.3" width="0.9" height="0.9" fill="#9a1cc0" opacity="0.85"/>
<rect x="122.2" y="429.0" width="0.9" height="0.9" fill="#9a1cc0" opacity="0.85"/>
<rect x="162.2" y="388.4" width="0.9" height="0.9" fill="#9a1cc0" opacity="0.85"/>
<rect x="152.7" y="429.9" width="0.9" height="0.9" fill="#9a1cc0" opacity="0.85"/>
<rect x="173.9" y="414.0" width="0.9" height="0.9" fill="#9a1cc0" opacity="0.85"/>
<rect x="160.5" y="386.2" width="0.9" height="0.9" fill="#9a1cc0" opacity="0.85"/>
<rect x="154.2" y="415.9" width="0.9" height="0.9" fill="#9a1cc0" opacity="0.85"/>
<rect x="174.8" y="418.7" width="0.9" height="0.9" fill="#9a1cc0" opacity="0.85"/>
<rect x="155.1" y="402.7" width="0.9" height="0.9" fill="#9a1cc0" opacity="0.85"/>
<rect x="180.9" y="410.3" width="0.9" height="0.9" fill="#9a1cc0" opacity="0.85"/>
<rect x="161.2" y="435.7" width="0.9" height="0.9" fill="#9a1cc0" opacity="0.85"/>
<rect x="147.2" y="410.0" width="0.9" height="0.9" fill="#9a1cc0" opacity="0.85"/>
<rect x="157.7" y="380.6" width="0.9" height="0.9" fill="#9a1cc0" opacity="0.85"/>
<rect x="128.1" y="398.3" width="0.9" height="0.9" fill="#9a1cc0" opacity="0.85"/>
<rect x="125.9" y="401.6" width="0.9" height="0.9" fill="#9a1cc0" opacity="0.85"/>
<rect x="127.0" y="419.8" width="0.9" height="0.9" fill="#9a1cc0" opacity="0.85"/>
<rect x="139.6" y="398.4" width="0.9" height="0.9" fill="#9a1cc0" opacity="0.85"/>
<rect x="127.8" y="424.7" width="0.9" height="0.9" fill="#9a1cc0" opacity="0.85"/>
<rect x="174.5" y="424.2" width="0.9" height="0.9" fill="#9a1cc0" opacity="0.85"/>
<rect x="145.5" y="388.0" width="0.9" height="0.9" fill="#9a1cc0" opacity="0.85"/>
<rect x="135.2" y="385.8" width="0.9" height="0.9" fill="#9a1cc0" opacity="0.85"/>
<rect x="131.1" y="418.8" width="0.9" height="0.9" fill="#9a1cc0" opacity="0.85"/>
<rect x="141.9" y="397.4" width="0.9" height="0.9" fill="#9a1cc0" opacity="0.85"/>
<rect x="164.6" y="388.8" width="0.9" height="0.9" fill="#9a1cc0" opacity="0.85"/>
<rect x="128.5" y="383.8" width="0.9" height="0.9" fill="#9a1cc0" opacity="0.85"/>
<rect x="153.6" y="438.8" width="0.9" height="0.9" fill="#9a1cc0" opacity="0.85"/>
<rect x="144.2" y="395.6" width="0.9" height="0.9" fill="#9a1cc0" opacity="0.85"/>
<rect x="127.1" y="395.7" width="0.9" height="0.9" fill="#9a1cc0" opacity="0.85"/>
<rect x="167.2" y="400.9" width="0.9" height="0.9" fill="#9a1cc0" opacity="0.85"/>
<rect x="150.0" y="432.2" width="0.9" height="0.9" fill="#9a1cc0" opacity="0.85"/>
<rect x="147.6" y="425.5" width="0.9" height="0.9" fill="#9a1cc0" opacity="0.85"/>
<rect x="163.2" y="405.2" width="0.9" height="0.9" fill="#9a1cc0" opacity="0.85"/>
<rect x="148.7" y="391.5" width="0.9" height="0.9" fill="#9a1cc0" opacity="0.85"/>
<rect x="162.5" y="383.7" width="0.9" height="0.9" fill="#9a1cc0" opacity="0.85"/>
<rect x="159.0" y="435.5" width="0.9" height="0.9" fill="#9a1cc0" opacity="0.85"/>
<rect x="144.7" y="391.9" width="0.9" height="0.9" fill="#9a1cc0" opacity="0.85"/>
<rect x="125.3" y="415.3" width="0.9" height="0.9" fill="#9a1cc0" opacity="0.85"/>
<rect x="139.4" y="379.3" width="0.9" height="0.9" fill="#9a1cc0" opacity="0.85"/>
<rect x="169.6" y="393.8" width="0.9" height="0.9" fill="#9a1cc0" opacity="0.85"/>
<rect x="164.9" y="384.6" width="0.9" height="0.9" fill="#9a1cc0" opacity="0.85"/>
<rect x="152.5" y="395.9" width="0.9" height="0.9" fill="#9a1cc0" opacity="0.85"/>
<rect x="125.2" y="407.9" width="0.9" height="0.9" fill="#9a1cc0" opacity="0.85"/>
<rect x="165.6" y="378.7" width="0.9" height="0.9" fill="#9a1cc0" opacity="0.85"/>
<rect x="126.1" y="383.3" width="0.9" height="0.9" fill="#9a1cc0" opacity="0.85"/>
<rect x="126.5" y="406.1" width="0.9" height="0.9" fill="#9a1cc0" opacity="0.85"/>
<rect x="139.2" y="384.1" width="0.9" height="0.9" fill="#9a1cc0" opacity="0.85"/>
<rect x="162.8" y="405.3" width="0.9" height="0.9" fill="#9a1cc0" opacity="0.85"/>
<rect x="138.8" y="410.1" width="0.9" height="0.9" fill="#9a1cc0" opacity="0.85"/>
<rect x="130.6" y="428.6" width="0.9" height="0.9" fill="#9a1cc0" opacity="0.85"/>
<rect x="142.8" y="412.8" width="0.9" height="0.9" fill="#9a1cc0" opacity="0.85"/>
<rect x="175.4" y="416.2" width="0.9" height="0.9" fill="#9a1cc0" opacity="0.85"/>
<rect x="170.2" y="401.7" width="0.9" height="0.9" fill="#9a1cc0" opacity="0.85"/>
<rect x="157.5" y="417.5" width="0.9" height="0.9" fill="#9a1cc0" opacity="0.85"/>
<rect x="156.9" y="402.6" width="0.9" height="0.9" fill="#9a1cc0" opacity="0.85"/>
<rect x="163.5" y="407.2" width="0.9" height="0.9" fill="#9a1cc0" opacity="0.85"/>
<rect x="169.8" y="428.6" width="0.9" height="0.9" fill="#9a1cc0" opacity="0.85"/>
<rect x="136.5" y="425.6" width="0.9" height="0.9" fill="#9a1cc0" opacity="0.85"/>
<rect x="164.8" y="381.4" width="0.9" height="0.9" fill="#9a1cc0" opacity="0.85"/>
<rect x="148.4" y="404.5" width="0.9" height="0.9" fill="#9a1cc0" opacity="0.85"/>
<rect x="148.1" y="425.9" width="0.9" height="0.9" fill="#9a1cc0" opacity="0.85"/>
<rect x="124.9" y="406.3" width="0.9" height="0.9" fill="#9a1cc0" opacity="0.85"/>
<rect x="134.4" y="428.0" width="0.9" height="0.9" fill="#9a1cc0" opacity="0.85"/>
<rect x="156.6" y="388.9" width="0.9" height="0.9" fill="#9a1cc0" opacity="0.85"/>
<rect x="137.1" y="424.6" width="0.9" height="0.9" fill="#9a1cc0" opacity="0.85"/>
<rect x="143.8" y="404.4" width="0.9" height="0.9" fill="#9a1cc0" opacity="0.85"/>
<rect x="162.4" y="399.0" width="0.9" height="0.9" fill="#9a1cc0" opacity="0.85"/>
<rect x="132.0" y="432.1" width="0.9" height="0.9" fill="#9a1cc0" opacity="0.85"/>
<rect x="181.2" y="413.2" width="0.9" height="0.9" fill="#9a1cc0" opacity="0.85"/>
<rect x="121.5" y="420.2" width="0.9" height="0.9" fill="#9a1cc0" opacity="0.85"/>
<rect x="139.8" y="409.1" width="0.9" height="0.9" fill="#9a1cc0" opacity="0.85"/>
<rect x="148.0" y="422.3" width="0.9" height="0.9" fill="#9a1cc0" opacity="0.85"/>
<rect x="176.7" y="394.3" width="0.9" height="0.9" fill="#9a1cc0" opacity="0.85"/>
<rect x="134.1" y="379.7" width="0.9" height="0.9" fill="#9a1cc0" opacity="0.85"/>
<rect x="134.7" y="398.9" width="0.9" height="0.9" fill="#9a1cc0" opacity="0.85"/>
<rect x="177.4" y="407.9" width="0.9" height="0.9" fill="#9a1cc0" opacity="0.85"/>
<rect x="146.1" y="432.1" width="0.9" height="0.9" fill="#9a1cc0" opacity="0.85"/>
<rect x="181.2" y="413.9" width="0.9" height="0.9" fill="#9a1cc0" opacity="0.85"/>
<rect x="125.9" y="410.4" width="0.9" height="0.9" fill="#9a1cc0" opacity="0.85"/>
<rect x="178.2" y="414.9" width="0.9" height="0.9" fill="#9a1cc0" opacity="0.85"/>
<rect x="171.9" y="421.2" width="0.9" height="0.9" fill="#9a1cc0" opacity="0.85"/>
<rect x="133.0" y="386.5" width="0.9" height="0.9" fill="#9a1cc0" opacity="0.85"/>
<rect x="166.6" y="379.0" width="0.9" height="0.9" fill="#9a1cc0" opacity="0.85"/>
<rect x="141.0" y="385.9" width="0.9" height="0.9" fill="#9a1cc0" opacity="0.85"/>
<rect x="152.9" y="443.2" width="0.9" height="0.9" fill="#9a1cc0" opacity="0.85"/>
<rect x="129.0" y="406.1" width="0.9" height="0.9" fill="#9a1cc0" opacity="0.85"/>
<rect x="130.6" y="404.9" width="0.9" height="0.9" fill="#9a1cc0" opacity="0.85"/>
<rect x="166.4" y="429.2" width="0.9" height="0.9" fill="#9a1cc0" opacity="0.85"/>
<rect x="155.9" y="439.9" width="0.9" height="0.9" fill="#9a1cc0" opacity="0.85"/>
<rect x="146.0" y="388.0" width="0.9" height="0.9" fill="#9a1cc0" opacity="0.85"/>
<rect x="117.4" y="415.3" width="0.9" height="0.9" fill="#9a1cc0" opacity="0.85"/>
<rect x="141.2" y="427.5" width="0.9" height="0.9" fill="#9a1cc0" opacity="0.85"/>
<rect x="133.1" y="410.2" width="0.9" height="0.9" fill="#9a1cc0" opacity="0.85"/>
<rect x="148.9" y="442.0" width="0.9" height="0.9" fill="#9a1cc0" opacity="0.85"/>
<rect x="128.4" y="390.4" width="0.9" height="0.9" fill="#9a1cc0" opacity="0.85"/>
<rect x="146.9" y="394.9" width="0.9" height="0.9" fill="#9a1cc0" opacity="0.85"/>
<rect x="142.5" y="414.4" width="0.9" height="0.9" fill="#9a1cc0" opacity="0.85"/>
<rect x="168.4" y="407.2" width="0.9" height="0.9" fill="#9a1cc0" opacity="0.85"/>
<rect x="126.2" y="396.2" width="0.9" height="0.9" fill="#9a1cc0" opacity="0.85"/>
<rect x="166.4" y="431.4" width="0.9" height="0.9" fill="#9a1cc0" opacity="0.85"/>
<rect x="175.6" y="391.1" width="0.9" height="0.9" fill="#9a1cc0" opacity="0.85"/>
<rect x="160.8" y="417.4" width="0.9" height="0.9" fill="#9a1cc0" opacity="0.85"/>
<rect x="126.4" y="420.5" width="0.9" height="0.9" fill="#9a1cc0" opacity="0.85"/>
<rect x="172.5" y="427.0" width="0.9" height="0.9" fill="#9a1cc0" opacity="0.85"/>
<rect x="153.0" y="391.5" width="0.9" height="0.9" fill="#9a1cc0" opacity="0.85"/>
<rect x="152.3" y="395.5" width="0.9" height="0.9" fill="#9a1cc0" opacity="0.85"/>
<rect x="177.8" y="423.8" width="0.9" height="0.9" fill="#9a1cc0" opacity="0.85"/>
<rect x="137.9" y="426.5" width="0.9" height="0.9" fill="#9a1cc0" opacity="0.85"/>
<rect x="158.6" y="394.2" width="0.9" height="0.9" fill="#9a1cc0" opacity="0.85"/>
<rect x="168.1" y="386.7" width="0.9" height="0.9" fill="#9a1cc0" opacity="0.85"/>
<rect x="134.7" y="434.4" width="0.9" height="0.9" fill="#9a1cc0" opacity="0.85"/>
<rect x="134.1" y="378.7" width="0.9" height="0.9" fill="#9a1cc0" opacity="0.85"/>
<rect x="153.4" y="383.5" width="0.9" height="0.9" fill="#9a1cc0" opacity="0.85"/>
<rect x="172.0" y="388.5" width="0.9" height="0.9" fill="#9a1cc0" opacity="0.85"/>
<rect x="161.5" y="408.1" width="0.9" height="0.9" fill="#9a1cc0" opacity="0.85"/>
<rect x="157.3" y="440.9" width="0.9" height="0.9" fill="#9a1cc0" opacity="0.85"/>
<rect x="138.8" y="388.3" width="0.9" height="0.9" fill="#9a1cc0" opacity="0.85"/>
<rect x="125.7" y="427.6" width="0.9" height="0.9" fill="#9a1cc0" opacity="0.85"/>
<rect x="171.5" y="396.6" width="0.9" height="0.9" fill="#9a1cc0" opacity="0.85"/>
<rect x="166.0" y="432.3" width="0.9" height="0.9" fill="#9a1cc0" opacity="0.85"/>
<rect x="148.4" y="435.5" width="0.9" height="0.9" fill="#9a1cc0" opacity="0.85"/>
<rect x="131.2" y="378.8" width="0.9" height="0.9" fill="#9a1cc0" opacity="0.85"/>
<rect x="161.6" y="415.4" width="0.9" height="0.9" fill="#9a1cc0" opacity="0.85"/>
<rect x="171.1" y="395.9" width="0.9" height="0.9" fill="#9a1cc0" opacity="0.85"/>
<rect x="142.2" y="428.5" width="0.9" height="0.9" fill="#9a1cc0" opacity="0.85"/>
<rect x="116.9" y="415.5" width="0.9" height="0.9" fill="#9a1cc0" opacity="0.85"/>
<rect x="138.4" y="380.1" width="0.9" height="0.9" fill="#9a1cc0" opacity="0.85"/>
<rect x="175.3" y="392.9" width="0.9" height="0.9" fill="#9a1cc0" opacity="0.85"/>
<rect x="142.9" y="422.0" width="0.9" height="0.9" fill="#9a1cc0" opacity="0.85"/>
<rect x="168.2" y="392.5" width="0.9" height="0.9" fill="#9a1cc0" opacity="0.85"/>
<rect x="150.1" y="380.1" width="0.9" height="0.9" fill="#9a1cc0" opacity="0.85"/>
<circle cx="136.5" cy="400.5" r="5.0" fill="#2a2aff" opacity="0.95" filter="url(#bl2)"/>
<circle cx="128.7" cy="410.3" r="6.2" fill="#2a2aff" opacity="0.95" filter="url(#bl2)"/>
<circle cx="157.6" cy="397.8" r="6.2" fill="#2a2aff" opacity="0.95" filter="url(#bl2)"/>
<circle cx="152.3" cy="408.4" r="5.0" fill="#2a2aff" opacity="0.95" filter="url(#bl2)"/>
<circle cx="158.9" cy="422.8" r="5.0" fill="#2a2aff" opacity="0.95" filter="url(#bl2)"/>
<circle cx="143.1" cy="429.4" r="6.2" fill="#2a2aff" opacity="0.95" filter="url(#bl2)"/>
<circle cx="133.9" cy="383.4" r="3.8" fill="#2a2aff" opacity="0.95" filter="url(#bl2)"/>
<circle cx="110" cy="418" r="5.0" fill="#2a2aff" opacity="0.95" filter="url(#bl2)"/>
<circle cx="119.0" cy="400.4" r="1.6" fill="#ff2a8a" filter="url(#bl05)"/>
<circle cx="139.3" cy="442.2" r="1.6" fill="#ff2a8a" filter="url(#bl05)"/>
</g>
<rect x="23.3" y="452.3" width="81.9" height="81.7" fill="#000"/>
<g clip-path="url(#e3)">
<path d="M48.9,458.0 L48.9,463.0 L47.6,467.8 L45.2,472.1 L42.1,475.5 L38.4,478.2 L34.3,479.7 L30.0,480.0 L25.8,479.1 L22.0,477.3 L18.4,474.8 L15.3,471.6 L12.8,467.6 L11.4,462.9 L11.1,458.0 L11.7,453.2 L13.0,448.5 L15.0,444.2 L17.9,440.5 L21.6,437.8 L25.7,436.3 L30.0,435.8 L34.3,436.4 L38.3,438.1 L41.7,441.0 L44.4,444.7 L46.4,448.9 L47.9,453.3Z" fill="#2222c4" filter="url(#bl2)"/>
<path d="M96.8,492.5 L97.1,498.4 L95.7,504.3 L91.9,509.7 L85.9,513.7 L79.0,516.2 L71.7,517.5 L64.5,518.1 L57.2,517.6 L50.3,515.7 L44.3,512.4 L39.3,508.3 L35.3,503.6 L32.4,498.3 L31.3,492.5 L32.3,486.7 L35.1,481.3 L38.9,476.4 L43.6,471.8 L49.6,468.0 L56.8,465.9 L64.5,465.7 L71.8,467.3 L78.4,469.7 L84.3,472.9 L89.4,476.9 L93.1,481.6 L95.5,486.9Z" fill="#2020bc" filter="url(#bl2)"/>
<circle cx="30.2" cy="461.0" r="1.8" fill="#12128a" opacity="0.55" filter="url(#bl1)"/>
<circle cx="34.3" cy="473.6" r="2.1" fill="#1c1cb0" opacity="0.55" filter="url(#bl1)"/>
<circle cx="35.1" cy="475.1" r="2.0" fill="#161696" opacity="0.55" filter="url(#bl1)"/>
<circle cx="44.4" cy="467.1" r="1.7" fill="#1c1cb0" opacity="0.55" filter="url(#bl1)"/>
<circle cx="35.2" cy="464.9" r="2.1" fill="#1c1cb0" opacity="0.55" filter="url(#bl1)"/>
<circle cx="40.3" cy="459.1" r="1.5" fill="#12128a" opacity="0.55" filter="url(#bl1)"/>
<circle cx="22.7" cy="474.2" r="1.8" fill="#3232ff" opacity="0.55" filter="url(#bl1)"/>
<circle cx="25.4" cy="446.9" r="2.4" fill="#12128a" opacity="0.55" filter="url(#bl1)"/>
<circle cx="31.5" cy="452.0" r="1.7" fill="#1c1cb0" opacity="0.55" filter="url(#bl1)"/>
<circle cx="15.9" cy="458.6" r="2.5" fill="#2c2cf0" opacity="0.55" filter="url(#bl1)"/>
<circle cx="32.0" cy="455.6" r="2.0" fill="#2c2cf0" opacity="0.55" filter="url(#bl1)"/>
<circle cx="34.3" cy="457.6" r="2.2" fill="#1c1cb0" opacity="0.55" filter="url(#bl1)"/>
<circle cx="33.7" cy="450.8" r="1.4" fill="#12128a" opacity="0.55" filter="url(#bl1)"/>
<circle cx="40.0" cy="472.4" r="1.7" fill="#12128a" opacity="0.55" filter="url(#bl1)"/>
<circle cx="23.1" cy="467.5" r="2.4" fill="#1c1cb0" opacity="0.55" filter="url(#bl1)"/>
<circle cx="40.3" cy="475.2" r="1.7" fill="#1c1cb0" opacity="0.55" filter="url(#bl1)"/>
<circle cx="29.5" cy="447.3" r="2.3" fill="#3232ff" opacity="0.55" filter="url(#bl1)"/>
<circle cx="31.6" cy="446.4" r="2.6" fill="#1c1cb0" opacity="0.55" filter="url(#bl1)"/>
<circle cx="20.8" cy="461.2" r="1.9" fill="#1c1cb0" opacity="0.55" filter="url(#bl1)"/>
<circle cx="28.6" cy="468.5" r="1.9" fill="#1c1cb0" opacity="0.55" filter="url(#bl1)"/>
<circle cx="21.0" cy="442.6" r="1.4" fill="#2c2cf0" opacity="0.55" filter="url(#bl1)"/>
<circle cx="22.0" cy="448.3" r="2.5" fill="#12128a" opacity="0.55" filter="url(#bl1)"/>
<circle cx="25.5" cy="452.8" r="1.9" fill="#1c1cb0" opacity="0.55" filter="url(#bl1)"/>
<circle cx="22.7" cy="454.9" r="1.7" fill="#1c1cb0" opacity="0.55" filter="url(#bl1)"/>
<circle cx="34.5" cy="465.2" r="1.9" fill="#161696" opacity="0.55" filter="url(#bl1)"/>
<circle cx="20.9" cy="472.3" r="2.6" fill="#3232ff" opacity="0.55" filter="url(#bl1)"/>
<circle cx="15.5" cy="458.1" r="2.5" fill="#2c2cf0" opacity="0.55" filter="url(#bl1)"/>
<circle cx="23.6" cy="464.2" r="1.4" fill="#12128a" opacity="0.55" filter="url(#bl1)"/>
<circle cx="29.5" cy="452.6" r="2.1" fill="#3232ff" opacity="0.55" filter="url(#bl1)"/>
<circle cx="24.9" cy="466.1" r="1.8" fill="#3232ff" opacity="0.55" filter="url(#bl1)"/>
<circle cx="45.5" cy="448.0" r="1.2" fill="#161696" opacity="0.55" filter="url(#bl1)"/>
<circle cx="45.2" cy="460.3" r="1.5" fill="#161696" opacity="0.55" filter="url(#bl1)"/>
<circle cx="34.6" cy="475.6" r="1.6" fill="#2c2cf0" opacity="0.55" filter="url(#bl1)"/>
<circle cx="38.5" cy="457.6" r="2.3" fill="#1c1cb0" opacity="0.55" filter="url(#bl1)"/>
<circle cx="12.6" cy="460.9" r="2.5" fill="#2c2cf0" opacity="0.55" filter="url(#bl1)"/>
<circle cx="36.5" cy="466.7" r="1.7" fill="#12128a" opacity="0.55" filter="url(#bl1)"/>
<circle cx="12.9" cy="459.8" r="1.6" fill="#161696" opacity="0.55" filter="url(#bl1)"/>
<circle cx="16.3" cy="444.8" r="2.0" fill="#161696" opacity="0.55" filter="url(#bl1)"/>
<circle cx="36.2" cy="451.5" r="1.3" fill="#2c2cf0" opacity="0.55" filter="url(#bl1)"/>
<circle cx="31.8" cy="444.2" r="2.4" fill="#3232ff" opacity="0.55" filter="url(#bl1)"/>
<circle cx="39.9" cy="457.6" r="2.3" fill="#12128a" opacity="0.55" filter="url(#bl1)"/>
<circle cx="40.1" cy="474.5" r="2.5" fill="#161696" opacity="0.55" filter="url(#bl1)"/>
<circle cx="39.1" cy="472.7" r="2.3" fill="#12128a" opacity="0.55" filter="url(#bl1)"/>
<circle cx="18.8" cy="460.9" r="1.7" fill="#3232ff" opacity="0.55" filter="url(#bl1)"/>
<circle cx="43.4" cy="449.2" r="2.6" fill="#2c2cf0" opacity="0.55" filter="url(#bl1)"/>
<circle cx="38.6" cy="460.1" r="1.3" fill="#12128a" opacity="0.55" filter="url(#bl1)"/>
<circle cx="21.2" cy="457.7" r="2.2" fill="#3232ff" opacity="0.55" filter="url(#bl1)"/>
<circle cx="29.5" cy="453.4" r="1.3" fill="#2c2cf0" opacity="0.55" filter="url(#bl1)"/>
<circle cx="43.7" cy="471.2" r="1.9" fill="#161696" opacity="0.55" filter="url(#bl1)"/>
<circle cx="38.6" cy="458.2" r="1.4" fill="#1c1cb0" opacity="0.55" filter="url(#bl1)"/>
<circle cx="29.0" cy="443.1" r="1.9" fill="#12128a" opacity="0.55" filter="url(#bl1)"/>
<circle cx="39.5" cy="440.5" r="1.7" fill="#12128a" opacity="0.55" filter="url(#bl1)"/>
<circle cx="33.9" cy="478.3" r="2.2" fill="#161696" opacity="0.55" filter="url(#bl1)"/>
<circle cx="28.9" cy="466.8" r="1.6" fill="#2c2cf0" opacity="0.55" filter="url(#bl1)"/>
<circle cx="37.9" cy="456.0" r="1.8" fill="#12128a" opacity="0.55" filter="url(#bl1)"/>
<circle cx="19.7" cy="453.6" r="1.7" fill="#12128a" opacity="0.55" filter="url(#bl1)"/>
<circle cx="41.9" cy="461.7" r="2.0" fill="#2c2cf0" opacity="0.55" filter="url(#bl1)"/>
<circle cx="23.4" cy="438.5" r="1.8" fill="#2c2cf0" opacity="0.55" filter="url(#bl1)"/>
<circle cx="25.1" cy="470.4" r="1.7" fill="#161696" opacity="0.55" filter="url(#bl1)"/>
<circle cx="21.2" cy="466.9" r="2.5" fill="#161696" opacity="0.55" filter="url(#bl1)"/>
<circle cx="24.1" cy="450.3" r="2.5" fill="#1c1cb0" opacity="0.55" filter="url(#bl1)"/>
<circle cx="29.6" cy="474.5" r="2.6" fill="#3232ff" opacity="0.55" filter="url(#bl1)"/>
<circle cx="36.8" cy="442.7" r="2.4" fill="#12128a" opacity="0.55" filter="url(#bl1)"/>
<circle cx="33.7" cy="438.3" r="1.8" fill="#12128a" opacity="0.55" filter="url(#bl1)"/>
<circle cx="15.9" cy="451.7" r="2.0" fill="#3232ff" opacity="0.55" filter="url(#bl1)"/>
<circle cx="22.8" cy="477.1" r="1.9" fill="#12128a" opacity="0.55" filter="url(#bl1)"/>
<circle cx="22.5" cy="446.4" r="2.0" fill="#2c2cf0" opacity="0.55" filter="url(#bl1)"/>
<circle cx="38.8" cy="457.7" r="1.7" fill="#3232ff" opacity="0.55" filter="url(#bl1)"/>
<circle cx="46.6" cy="466.2" r="2.1" fill="#2c2cf0" opacity="0.55" filter="url(#bl1)"/>
<rect x="25.4" y="447.1" width="0.9" height="0.9" fill="#9a1cc0" opacity="0.85"/>
<rect x="20.6" y="446.6" width="0.9" height="0.9" fill="#9a1cc0" opacity="0.85"/>
<rect x="32.4" y="474.5" width="0.9" height="0.9" fill="#9a1cc0" opacity="0.85"/>
<rect x="28.3" y="478.4" width="0.9" height="0.9" fill="#9a1cc0" opacity="0.85"/>
<rect x="14.5" y="461.0" width="0.9" height="0.9" fill="#9a1cc0" opacity="0.85"/>
<rect x="17.3" y="456.0" width="0.9" height="0.9" fill="#9a1cc0" opacity="0.85"/>
<rect x="31.3" y="466.0" width="0.9" height="0.9" fill="#9a1cc0" opacity="0.85"/>
<rect x="42.1" y="451.1" width="0.9" height="0.9" fill="#9a1cc0" opacity="0.85"/>
<rect x="16.7" y="455.7" width="0.9" height="0.9" fill="#9a1cc0" opacity="0.85"/>
<rect x="33.5" y="448.3" width="0.9" height="0.9" fill="#9a1cc0" opacity="0.85"/>
<rect x="37.9" y="475.2" width="0.9" height="0.9" fill="#9a1cc0" opacity="0.85"/>
<rect x="15.6" y="462.2" width="0.9" height="0.9" fill="#9a1cc0" opacity="0.85"/>
<rect x="38.2" y="440.1" width="0.9" height="0.9" fill="#9a1cc0" opacity="0.85"/>
<rect x="32.6" y="454.7" width="0.9" height="0.9" fill="#9a1cc0" opacity="0.85"/>
<rect x="17.6" y="471.3" width="0.9" height="0.9" fill="#9a1cc0" opacity="0.85"/>
<rect x="32.7" y="451.1" width="0.9" height="0.9" fill="#9a1cc0" opacity="0.85"/>
<rect x="35.3" y="466.8" width="0.9" height="0.9" fill="#9a1cc0" opacity="0.85"/>
<rect x="38.8" y="465.7" width="0.9" height="0.9" fill="#9a1cc0" opacity="0.85"/>
<rect x="34.4" y="443.4" width="0.9" height="0.9" fill="#9a1cc0" opacity="0.85"/>
<rect x="24.7" y="459.9" width="0.9" height="0.9" fill="#9a1cc0" opacity="0.85"/>
<rect x="15.4" y="471.1" width="0.9" height="0.9" fill="#9a1cc0" opacity="0.85"/>
<rect x="25.8" y="444.5" width="0.9" height="0.9" fill="#9a1cc0" opacity="0.85"/>
<rect x="13.6" y="460.6" width="0.9" height="0.9" fill="#9a1cc0" opacity="0.85"/>
<rect x="30.4" y="449.7" width="0.9" height="0.9" fill="#9a1cc0" opacity="0.85"/>
<rect x="25.2" y="446.2" width="0.9" height="0.9" fill="#9a1cc0" opacity="0.85"/>
<rect x="21.0" y="456.6" width="0.9" height="0.9" fill="#9a1cc0" opacity="0.85"/>
<rect x="22.6" y="467.1" width="0.9" height="0.9" fill="#9a1cc0" opacity="0.85"/>
<rect x="28.2" y="459.9" width="0.9" height="0.9" fill="#9a1cc0" opacity="0.85"/>
<rect x="34.3" y="473.4" width="0.9" height="0.9" fill="#9a1cc0" opacity="0.85"/>
<rect x="37.3" y="461.2" width="0.9" height="0.9" fill="#9a1cc0" opacity="0.85"/>
<rect x="28.1" y="447.0" width="0.9" height="0.9" fill="#9a1cc0" opacity="0.85"/>
<rect x="25.9" y="467.4" width="0.9" height="0.9" fill="#9a1cc0" opacity="0.85"/>
<rect x="32.8" y="452.4" width="0.9" height="0.9" fill="#9a1cc0" opacity="0.85"/>
<rect x="18.7" y="443.0" width="0.9" height="0.9" fill="#9a1cc0" opacity="0.85"/>
<rect x="33.6" y="471.3" width="0.9" height="0.9" fill="#9a1cc0" opacity="0.85"/>
<rect x="33.8" y="441.7" width="0.9" height="0.9" fill="#9a1cc0" opacity="0.85"/>
<rect x="27.3" y="461.2" width="0.9" height="0.9" fill="#9a1cc0" opacity="0.85"/>
<rect x="19.5" y="462.6" width="0.9" height="0.9" fill="#9a1cc0" opacity="0.85"/>
<rect x="27.7" y="446.7" width="0.9" height="0.9" fill="#9a1cc0" opacity="0.85"/>
<rect x="17.5" y="467.4" width="0.9" height="0.9" fill="#9a1cc0" opacity="0.85"/>
<rect x="34.1" y="446.2" width="0.9" height="0.9" fill="#9a1cc0" opacity="0.85"/>
<rect x="19.4" y="468.8" width="0.9" height="0.9" fill="#9a1cc0" opacity="0.85"/>
<rect x="37.2" y="453.7" width="0.9" height="0.9" fill="#9a1cc0" opacity="0.85"/>
<rect x="45.4" y="454.8" width="0.9" height="0.9" fill="#9a1cc0" opacity="0.85"/>
<rect x="19.5" y="470.6" width="0.9" height="0.9" fill="#9a1cc0" opacity="0.85"/>
<rect x="27.6" y="463.0" width="0.9" height="0.9" fill="#9a1cc0" opacity="0.85"/>
<rect x="30.4" y="444.8" width="0.9" height="0.9" fill="#9a1cc0" opacity="0.85"/>
<rect x="17.1" y="455.6" width="0.9" height="0.9" fill="#9a1cc0" opacity="0.85"/>
<rect x="43.1" y="447.2" width="0.9" height="0.9" fill="#9a1cc0" opacity="0.85"/>
<rect x="44.1" y="460.6" width="0.9" height="0.9" fill="#9a1cc0" opacity="0.85"/>
<rect x="17.8" y="461.4" width="0.9" height="0.9" fill="#9a1cc0" opacity="0.85"/>
<rect x="36.4" y="446.3" width="0.9" height="0.9" fill="#9a1cc0" opacity="0.85"/>
<rect x="12.8" y="461.3" width="0.9" height="0.9" fill="#9a1cc0" opacity="0.85"/>
<rect x="17.9" y="463.5" width="0.9" height="0.9" fill="#9a1cc0" opacity="0.85"/>
<rect x="13.2" y="456.6" width="0.9" height="0.9" fill="#9a1cc0" opacity="0.85"/>
<rect x="22.4" y="441.8" width="0.9" height="0.9" fill="#9a1cc0" opacity="0.85"/>
<rect x="27.0" y="460.5" width="0.9" height="0.9" fill="#9a1cc0" opacity="0.85"/>
<rect x="24.1" y="443.6" width="0.9" height="0.9" fill="#9a1cc0" opacity="0.85"/>
<rect x="32.0" y="439.3" width="0.9" height="0.9" fill="#9a1cc0" opacity="0.85"/>
<rect x="36.4" y="464.8" width="0.9" height="0.9" fill="#9a1cc0" opacity="0.85"/>
<rect x="44.8" y="467.0" width="0.9" height="0.9" fill="#9a1cc0" opacity="0.85"/>
<rect x="34.4" y="461.8" width="0.9" height="0.9" fill="#9a1cc0" opacity="0.85"/>
<rect x="30.3" y="441.9" width="0.9" height="0.9" fill="#9a1cc0" opacity="0.85"/>
<rect x="44.4" y="464.0" width="0.9" height="0.9" fill="#9a1cc0" opacity="0.85"/>
<rect x="26.9" y="443.5" width="0.9" height="0.9" fill="#9a1cc0" opacity="0.85"/>
<rect x="44.5" y="464.0" width="0.9" height="0.9" fill="#9a1cc0" opacity="0.85"/>
<rect x="17.7" y="466.1" width="0.9" height="0.9" fill="#9a1cc0" opacity="0.85"/>
<rect x="46.7" y="457.8" width="0.9" height="0.9" fill="#9a1cc0" opacity="0.85"/>
<rect x="34.9" y="452.1" width="0.9" height="0.9" fill="#9a1cc0" opacity="0.85"/>
<circle cx="53.0" cy="508.0" r="1.5" fill="#12128a" opacity="0.55" filter="url(#bl1)"/>
<circle cx="42.4" cy="488.2" r="1.6" fill="#12128a" opacity="0.55" filter="url(#bl1)"/>
<circle cx="63.6" cy="515.6" r="1.8" fill="#1c1cb0" opacity="0.55" filter="url(#bl1)"/>
<circle cx="84.2" cy="479.0" r="1.6" fill="#2c2cf0" opacity="0.55" filter="url(#bl1)"/>
<circle cx="83.5" cy="475.9" r="1.6" fill="#1c1cb0" opacity="0.55" filter="url(#bl1)"/>
<circle cx="66.6" cy="497.9" r="2.1" fill="#1c1cb0" opacity="0.55" filter="url(#bl1)"/>
<circle cx="87.9" cy="484.2" r="1.4" fill="#1c1cb0" opacity="0.55" filter="url(#bl1)"/>
<circle cx="81.3" cy="486.3" r="2.5" fill="#3232ff" opacity="0.55" filter="url(#bl1)"/>
<circle cx="57.8" cy="490.6" r="1.2" fill="#2c2cf0" opacity="0.55" filter="url(#bl1)"/>
<circle cx="92.6" cy="502.5" r="1.2" fill="#2c2cf0" opacity="0.55" filter="url(#bl1)"/>
<circle cx="68.5" cy="508.7" r="2.2" fill="#161696" opacity="0.55" filter="url(#bl1)"/>
<circle cx="72.4" cy="474.3" r="1.8" fill="#3232ff" opacity="0.55" filter="url(#bl1)"/>
<circle cx="62.5" cy="481.3" r="1.3" fill="#161696" opacity="0.55" filter="url(#bl1)"/>
<circle cx="41.4" cy="500.6" r="1.4" fill="#12128a" opacity="0.55" filter="url(#bl1)"/>
<circle cx="85.3" cy="477.1" r="1.5" fill="#3232ff" opacity="0.55" filter="url(#bl1)"/>
<circle cx="85.4" cy="483.7" r="1.9" fill="#161696" opacity="0.55" filter="url(#bl1)"/>
<circle cx="52.5" cy="474.3" r="2.3" fill="#2c2cf0" opacity="0.55" filter="url(#bl1)"/>
<circle cx="52.2" cy="490.4" r="1.9" fill="#161696" opacity="0.55" filter="url(#bl1)"/>
<circle cx="50.6" cy="494.9" r="2.5" fill="#12128a" opacity="0.55" filter="url(#bl1)"/>
<circle cx="42.4" cy="502.8" r="2.2" fill="#2c2cf0" opacity="0.55" filter="url(#bl1)"/>
<circle cx="45.2" cy="498.3" r="2.5" fill="#12128a" opacity="0.55" filter="url(#bl1)"/>
<circle cx="73.0" cy="499.9" r="1.6" fill="#3232ff" opacity="0.55" filter="url(#bl1)"/>
<circle cx="67.1" cy="511.4" r="2.2" fill="#2c2cf0" opacity="0.55" filter="url(#bl1)"/>
<circle cx="61.1" cy="478.9" r="1.7" fill="#2c2cf0" opacity="0.55" filter="url(#bl1)"/>
<circle cx="71.2" cy="484.3" r="1.7" fill="#161696" opacity="0.55" filter="url(#bl1)"/>
<circle cx="83.6" cy="495.7" r="1.5" fill="#2c2cf0" opacity="0.55" filter="url(#bl1)"/>
<circle cx="55.2" cy="490.3" r="1.4" fill="#3232ff" opacity="0.55" filter="url(#bl1)"/>
<circle cx="71.9" cy="505.7" r="1.4" fill="#3232ff" opacity="0.55" filter="url(#bl1)"/>
<circle cx="69.7" cy="484.8" r="2.6" fill="#161696" opacity="0.55" filter="url(#bl1)"/>
<circle cx="85.8" cy="485.8" r="1.9" fill="#2c2cf0" opacity="0.55" filter="url(#bl1)"/>
<circle cx="92.3" cy="495.0" r="1.5" fill="#12128a" opacity="0.55" filter="url(#bl1)"/>
<circle cx="61.2" cy="506.0" r="2.0" fill="#1c1cb0" opacity="0.55" filter="url(#bl1)"/>
<circle cx="74.6" cy="497.4" r="2.3" fill="#2c2cf0" opacity="0.55" filter="url(#bl1)"/>
<circle cx="67.3" cy="468.9" r="2.5" fill="#1c1cb0" opacity="0.55" filter="url(#bl1)"/>
<circle cx="88.5" cy="496.4" r="1.7" fill="#12128a" opacity="0.55" filter="url(#bl1)"/>
<circle cx="88.6" cy="485.6" r="1.4" fill="#12128a" opacity="0.55" filter="url(#bl1)"/>
<circle cx="51.6" cy="506.5" r="2.2" fill="#2c2cf0" opacity="0.55" filter="url(#bl1)"/>
<circle cx="76.6" cy="512.5" r="2.3" fill="#2c2cf0" opacity="0.55" filter="url(#bl1)"/>
<circle cx="61.0" cy="475.9" r="1.4" fill="#1c1cb0" opacity="0.55" filter="url(#bl1)"/>
<circle cx="75.0" cy="505.8" r="1.2" fill="#12128a" opacity="0.55" filter="url(#bl1)"/>
<circle cx="54.7" cy="491.8" r="1.8" fill="#161696" opacity="0.55" filter="url(#bl1)"/>
<circle cx="69.1" cy="486.6" r="1.7" fill="#161696" opacity="0.55" filter="url(#bl1)"/>
<circle cx="59.5" cy="486.1" r="2.4" fill="#12128a" opacity="0.55" filter="url(#bl1)"/>
<circle cx="79.9" cy="480.2" r="1.6" fill="#161696" opacity="0.55" filter="url(#bl1)"/>
<circle cx="76.6" cy="500.1" r="1.9" fill="#161696" opacity="0.55" filter="url(#bl1)"/>
<circle cx="53.9" cy="490.6" r="1.5" fill="#3232ff" opacity="0.55" filter="url(#bl1)"/>
<circle cx="58.6" cy="490.4" r="1.7" fill="#2c2cf0" opacity="0.55" filter="url(#bl1)"/>
<circle cx="71.0" cy="507.5" r="2.6" fill="#161696" opacity="0.55" filter="url(#bl1)"/>
<circle cx="87.1" cy="480.9" r="1.9" fill="#1c1cb0" opacity="0.55" filter="url(#bl1)"/>
<circle cx="67.5" cy="490.6" r="1.9" fill="#12128a" opacity="0.55" filter="url(#bl1)"/>
<circle cx="70.6" cy="474.3" r="1.3" fill="#161696" opacity="0.55" filter="url(#bl1)"/>
<circle cx="78.3" cy="512.6" r="1.8" fill="#12128a" opacity="0.55" filter="url(#bl1)"/>
<circle cx="57.1" cy="486.7" r="2.4" fill="#1c1cb0" opacity="0.55" filter="url(#bl1)"/>
<circle cx="85.3" cy="502.1" r="1.5" fill="#161696" opacity="0.55" filter="url(#bl1)"/>
<circle cx="68.0" cy="474.9" r="2.3" fill="#12128a" opacity="0.55" filter="url(#bl1)"/>
<circle cx="81.0" cy="498.9" r="1.3" fill="#12128a" opacity="0.55" filter="url(#bl1)"/>
<circle cx="45.1" cy="478.5" r="1.7" fill="#2c2cf0" opacity="0.55" filter="url(#bl1)"/>
<circle cx="72.5" cy="476.8" r="1.2" fill="#161696" opacity="0.55" filter="url(#bl1)"/>
<circle cx="83.4" cy="486.6" r="1.2" fill="#3232ff" opacity="0.55" filter="url(#bl1)"/>
<circle cx="67.4" cy="483.2" r="2.2" fill="#1c1cb0" opacity="0.55" filter="url(#bl1)"/>
<circle cx="75.3" cy="504.4" r="1.5" fill="#161696" opacity="0.55" filter="url(#bl1)"/>
<circle cx="87.8" cy="483.1" r="2.6" fill="#12128a" opacity="0.55" filter="url(#bl1)"/>
<circle cx="70.2" cy="475.8" r="1.9" fill="#3232ff" opacity="0.55" filter="url(#bl1)"/>
<circle cx="60.5" cy="498.2" r="2.1" fill="#1c1cb0" opacity="0.55" filter="url(#bl1)"/>
<circle cx="72.4" cy="511.2" r="2.3" fill="#2c2cf0" opacity="0.55" filter="url(#bl1)"/>
<circle cx="86.9" cy="504.1" r="2.0" fill="#2c2cf0" opacity="0.55" filter="url(#bl1)"/>
<circle cx="71.8" cy="476.0" r="1.4" fill="#3232ff" opacity="0.55" filter="url(#bl1)"/>
<circle cx="79.0" cy="471.2" r="2.2" fill="#12128a" opacity="0.55" filter="url(#bl1)"/>
<circle cx="78.5" cy="473.1" r="1.4" fill="#1c1cb0" opacity="0.55" filter="url(#bl1)"/>
<circle cx="45.4" cy="505.6" r="1.6" fill="#1c1cb0" opacity="0.55" filter="url(#bl1)"/>
<circle cx="86.9" cy="488.1" r="1.3" fill="#12128a" opacity="0.55" filter="url(#bl1)"/>
<circle cx="70.4" cy="470.6" r="1.5" fill="#161696" opacity="0.55" filter="url(#bl1)"/>
<circle cx="44.3" cy="482.7" r="2.0" fill="#3232ff" opacity="0.55" filter="url(#bl1)"/>
<circle cx="91.8" cy="482.9" r="1.7" fill="#12128a" opacity="0.55" filter="url(#bl1)"/>
<circle cx="70.4" cy="470.8" r="2.4" fill="#2c2cf0" opacity="0.55" filter="url(#bl1)"/>
<circle cx="56.7" cy="496.6" r="2.1" fill="#2c2cf0" opacity="0.55" filter="url(#bl1)"/>
<circle cx="81.5" cy="483.3" r="1.2" fill="#2c2cf0" opacity="0.55" filter="url(#bl1)"/>
<circle cx="60.5" cy="492.7" r="2.4" fill="#12128a" opacity="0.55" filter="url(#bl1)"/>
<circle cx="44.5" cy="495.0" r="1.8" fill="#2c2cf0" opacity="0.55" filter="url(#bl1)"/>
<circle cx="57.0" cy="502.4" r="1.8" fill="#2c2cf0" opacity="0.55" filter="url(#bl1)"/>
<circle cx="58.9" cy="493.5" r="1.3" fill="#2c2cf0" opacity="0.55" filter="url(#bl1)"/>
<circle cx="61.0" cy="513.2" r="1.8" fill="#3232ff" opacity="0.55" filter="url(#bl1)"/>
<circle cx="49.4" cy="489.6" r="2.2" fill="#161696" opacity="0.55" filter="url(#bl1)"/>
<circle cx="92.2" cy="498.3" r="1.7" fill="#161696" opacity="0.55" filter="url(#bl1)"/>
<circle cx="58.4" cy="500.9" r="1.5" fill="#161696" opacity="0.55" filter="url(#bl1)"/>
<circle cx="83.5" cy="480.1" r="1.6" fill="#3232ff" opacity="0.55" filter="url(#bl1)"/>
<circle cx="52.1" cy="513.7" r="1.5" fill="#1c1cb0" opacity="0.55" filter="url(#bl1)"/>
<circle cx="70.7" cy="483.7" r="1.2" fill="#1c1cb0" opacity="0.55" filter="url(#bl1)"/>
<circle cx="70.7" cy="486.1" r="1.8" fill="#161696" opacity="0.55" filter="url(#bl1)"/>
<circle cx="70.3" cy="480.9" r="2.1" fill="#2c2cf0" opacity="0.55" filter="url(#bl1)"/>
<circle cx="91.5" cy="490.4" r="2.1" fill="#1c1cb0" opacity="0.55" filter="url(#bl1)"/>
<circle cx="82.7" cy="508.7" r="2.1" fill="#2c2cf0" opacity="0.55" filter="url(#bl1)"/>
<circle cx="86.7" cy="501.5" r="1.6" fill="#3232ff" opacity="0.55" filter="url(#bl1)"/>
<circle cx="59.5" cy="505.7" r="2.5" fill="#3232ff" opacity="0.55" filter="url(#bl1)"/>
<circle cx="67.3" cy="486.8" r="1.9" fill="#3232ff" opacity="0.55" filter="url(#bl1)"/>
<circle cx="63.0" cy="489.4" r="2.0" fill="#12128a" opacity="0.55" filter="url(#bl1)"/>
<circle cx="38.5" cy="499.5" r="2.2" fill="#161696" opacity="0.55" filter="url(#bl1)"/>
<circle cx="64.5" cy="487.8" r="1.9" fill="#2c2cf0" opacity="0.55" filter="url(#bl1)"/>
<circle cx="95.1" cy="493.6" r="1.4" fill="#2c2cf0" opacity="0.55" filter="url(#bl1)"/>
<circle cx="44.0" cy="482.6" r="2.6" fill="#12128a" opacity="0.55" filter="url(#bl1)"/>
<circle cx="75.7" cy="509.5" r="2.1" fill="#2c2cf0" opacity="0.55" filter="url(#bl1)"/>
<circle cx="65.9" cy="514.4" r="1.8" fill="#12128a" opacity="0.55" filter="url(#bl1)"/>
<circle cx="89.8" cy="489.7" r="1.9" fill="#3232ff" opacity="0.55" filter="url(#bl1)"/>
<circle cx="83.3" cy="490.1" r="1.7" fill="#2c2cf0" opacity="0.55" filter="url(#bl1)"/>
<circle cx="75.7" cy="477.3" r="2.3" fill="#12128a" opacity="0.55" filter="url(#bl1)"/>
<circle cx="57.7" cy="500.1" r="2.3" fill="#1c1cb0" opacity="0.55" filter="url(#bl1)"/>
<circle cx="80.8" cy="497.7" r="1.4" fill="#1c1cb0" opacity="0.55" filter="url(#bl1)"/>
<circle cx="61.7" cy="497.8" r="2.6" fill="#2c2cf0" opacity="0.55" filter="url(#bl1)"/>
<circle cx="67.7" cy="477.8" r="1.6" fill="#161696" opacity="0.55" filter="url(#bl1)"/>
<circle cx="81.4" cy="481.6" r="1.6" fill="#1c1cb0" opacity="0.55" filter="url(#bl1)"/>
<circle cx="54.9" cy="495.6" r="1.7" fill="#2c2cf0" opacity="0.55" filter="url(#bl1)"/>
<circle cx="52.6" cy="512.6" r="1.6" fill="#3232ff" opacity="0.55" filter="url(#bl1)"/>
<circle cx="73.1" cy="515.3" r="1.9" fill="#3232ff" opacity="0.55" filter="url(#bl1)"/>
<circle cx="53.9" cy="497.9" r="1.3" fill="#2c2cf0" opacity="0.55" filter="url(#bl1)"/>
<circle cx="60.3" cy="510.5" r="2.4" fill="#1c1cb0" opacity="0.55" filter="url(#bl1)"/>
<circle cx="57.1" cy="496.1" r="1.7" fill="#3232ff" opacity="0.55" filter="url(#bl1)"/>
<circle cx="84.5" cy="483.5" r="2.4" fill="#2c2cf0" opacity="0.55" filter="url(#bl1)"/>
<circle cx="79.9" cy="504.0" r="1.3" fill="#12128a" opacity="0.55" filter="url(#bl1)"/>
<circle cx="75.5" cy="475.9" r="2.0" fill="#2c2cf0" opacity="0.55" filter="url(#bl1)"/>
<circle cx="44.6" cy="511.5" r="2.4" fill="#12128a" opacity="0.55" filter="url(#bl1)"/>
<circle cx="84.7" cy="503.5" r="2.4" fill="#3232ff" opacity="0.55" filter="url(#bl1)"/>
<circle cx="57.2" cy="469.1" r="2.1" fill="#161696" opacity="0.55" filter="url(#bl1)"/>
<circle cx="89.2" cy="488.4" r="2.3" fill="#12128a" opacity="0.55" filter="url(#bl1)"/>
<circle cx="40.3" cy="507.4" r="1.8" fill="#2c2cf0" opacity="0.55" filter="url(#bl1)"/>
<circle cx="46.1" cy="492.5" r="2.2" fill="#161696" opacity="0.55" filter="url(#bl1)"/>
<circle cx="81.4" cy="509.3" r="2.1" fill="#3232ff" opacity="0.55" filter="url(#bl1)"/>
<circle cx="73.9" cy="487.2" r="2.2" fill="#2c2cf0" opacity="0.55" filter="url(#bl1)"/>
<circle cx="71.8" cy="489.6" r="2.4" fill="#12128a" opacity="0.55" filter="url(#bl1)"/>
<circle cx="52.6" cy="476.0" r="1.5" fill="#3232ff" opacity="0.55" filter="url(#bl1)"/>
<circle cx="60.8" cy="470.6" r="1.4" fill="#161696" opacity="0.55" filter="url(#bl1)"/>
<circle cx="51.5" cy="473.4" r="1.4" fill="#1c1cb0" opacity="0.55" filter="url(#bl1)"/>
<circle cx="63.3" cy="497.0" r="2.4" fill="#3232ff" opacity="0.55" filter="url(#bl1)"/>
<circle cx="82.5" cy="507.9" r="2.1" fill="#3232ff" opacity="0.55" filter="url(#bl1)"/>
<circle cx="63.2" cy="498.9" r="2.0" fill="#1c1cb0" opacity="0.55" filter="url(#bl1)"/>
<circle cx="39.9" cy="491.4" r="1.6" fill="#161696" opacity="0.55" filter="url(#bl1)"/>
<circle cx="49.3" cy="507.0" r="1.7" fill="#12128a" opacity="0.55" filter="url(#bl1)"/>
<circle cx="61.8" cy="486.1" r="1.5" fill="#2c2cf0" opacity="0.55" filter="url(#bl1)"/>
<circle cx="37.8" cy="498.2" r="1.6" fill="#3232ff" opacity="0.55" filter="url(#bl1)"/>
<circle cx="84.2" cy="498.5" r="2.0" fill="#1c1cb0" opacity="0.55" filter="url(#bl1)"/>
<circle cx="87.2" cy="496.2" r="1.4" fill="#3232ff" opacity="0.55" filter="url(#bl1)"/>
<circle cx="68.5" cy="512.0" r="2.6" fill="#2c2cf0" opacity="0.55" filter="url(#bl1)"/>
<circle cx="49.6" cy="490.2" r="2.3" fill="#1c1cb0" opacity="0.55" filter="url(#bl1)"/>
<circle cx="71.9" cy="514.6" r="2.0" fill="#1c1cb0" opacity="0.55" filter="url(#bl1)"/>
<rect x="92.4" y="496.8" width="0.9" height="0.9" fill="#9a1cc0" opacity="0.85"/>
<rect x="87.0" y="495.7" width="0.9" height="0.9" fill="#9a1cc0" opacity="0.85"/>
<rect x="57.3" y="495.4" width="0.9" height="0.9" fill="#9a1cc0" opacity="0.85"/>
<rect x="45.8" y="476.8" width="0.9" height="0.9" fill="#9a1cc0" opacity="0.85"/>
<rect x="47.0" y="484.3" width="0.9" height="0.9" fill="#9a1cc0" opacity="0.85"/>
<rect x="39.9" y="491.0" width="0.9" height="0.9" fill="#9a1cc0" opacity="0.85"/>
<rect x="68.9" y="515.8" width="0.9" height="0.9" fill="#9a1cc0" opacity="0.85"/>
<rect x="93.3" y="491.9" width="0.9" height="0.9" fill="#9a1cc0" opacity="0.85"/>
<rect x="82.4" y="489.0" width="0.9" height="0.9" fill="#9a1cc0" opacity="0.85"/>
<rect x="73.1" y="491.9" width="0.9" height="0.9" fill="#9a1cc0" opacity="0.85"/>
<rect x="52.9" y="493.8" width="0.9" height="0.9" fill="#9a1cc0" opacity="0.85"/>
<rect x="39.0" y="498.5" width="0.9" height="0.9" fill="#9a1cc0" opacity="0.85"/>
<rect x="58.9" y="476.0" width="0.9" height="0.9" fill="#9a1cc0" opacity="0.85"/>
<rect x="56.9" y="501.8" width="0.9" height="0.9" fill="#9a1cc0" opacity="0.85"/>
<rect x="50.5" y="500.2" width="0.9" height="0.9" fill="#9a1cc0" opacity="0.85"/>
<rect x="74.0" y="512.9" width="0.9" height="0.9" fill="#9a1cc0" opacity="0.85"/>
<rect x="43.3" y="490.8" width="0.9" height="0.9" fill="#9a1cc0" opacity="0.85"/>
<rect x="73.2" y="512.6" width="0.9" height="0.9" fill="#9a1cc0" opacity="0.85"/>
<rect x="69.9" y="504.8" width="0.9" height="0.9" fill="#9a1cc0" opacity="0.85"/>
<rect x="39.5" y="484.7" width="0.9" height="0.9" fill="#9a1cc0" opacity="0.85"/>
<rect x="91.9" y="488.8" width="0.9" height="0.9" fill="#9a1cc0" opacity="0.85"/>
<rect x="93.7" y="484.7" width="0.9" height="0.9" fill="#9a1cc0" opacity="0.85"/>
<rect x="59.8" y="471.3" width="0.9" height="0.9" fill="#9a1cc0" opacity="0.85"/>
<rect x="78.0" y="496.9" width="0.9" height="0.9" fill="#9a1cc0" opacity="0.85"/>
<rect x="94.3" y="494.4" width="0.9" height="0.9" fill="#9a1cc0" opacity="0.85"/>
<rect x="60.0" y="472.7" width="0.9" height="0.9" fill="#9a1cc0" opacity="0.85"/>
<rect x="62.8" y="507.6" width="0.9" height="0.9" fill="#9a1cc0" opacity="0.85"/>
<rect x="77.7" y="509.8" width="0.9" height="0.9" fill="#9a1cc0" opacity="0.85"/>
<rect x="82.3" y="491.7" width="0.9" height="0.9" fill="#9a1cc0" opacity="0.85"/>
<rect x="77.4" y="495.4" width="0.9" height="0.9" fill="#9a1cc0" opacity="0.85"/>
<rect x="45.8" y="511.5" width="0.9" height="0.9" fill="#9a1cc0" opacity="0.85"/>
<rect x="71.8" y="476.4" width="0.9" height="0.9" fill="#9a1cc0" opacity="0.85"/>
<rect x="72.9" y="497.5" width="0.9" height="0.9" fill="#9a1cc0" opacity="0.85"/>
<rect x="80.6" y="510.9" width="0.9" height="0.9" fill="#9a1cc0" opacity="0.85"/>
<rect x="33.0" y="497.0" width="0.9" height="0.9" fill="#9a1cc0" opacity="0.85"/>
<rect x="88.9" y="480.6" width="0.9" height="0.9" fill="#9a1cc0" opacity="0.85"/>
<rect x="35.7" y="495.9" width="0.9" height="0.9" fill="#9a1cc0" opacity="0.85"/>
<rect x="71.8" y="498.5" width="0.9" height="0.9" fill="#9a1cc0" opacity="0.85"/>
<rect x="43.4" y="485.5" width="0.9" height="0.9" fill="#9a1cc0" opacity="0.85"/>
<rect x="68.6" y="504.8" width="0.9" height="0.9" fill="#9a1cc0" opacity="0.85"/>
<rect x="94.9" y="495.7" width="0.9" height="0.9" fill="#9a1cc0" opacity="0.85"/>
<rect x="56.8" y="468.6" width="0.9" height="0.9" fill="#9a1cc0" opacity="0.85"/>
<rect x="85.6" y="490.5" width="0.9" height="0.9" fill="#9a1cc0" opacity="0.85"/>
<rect x="62.3" y="476.9" width="0.9" height="0.9" fill="#9a1cc0" opacity="0.85"/>
<rect x="75.7" y="471.0" width="0.9" height="0.9" fill="#9a1cc0" opacity="0.85"/>
<rect x="66.9" y="494.6" width="0.9" height="0.9" fill="#9a1cc0" opacity="0.85"/>
<rect x="70.0" y="511.4" width="0.9" height="0.9" fill="#9a1cc0" opacity="0.85"/>
<rect x="62.3" y="494.2" width="0.9" height="0.9" fill="#9a1cc0" opacity="0.85"/>
<rect x="78.3" y="472.8" width="0.9" height="0.9" fill="#9a1cc0" opacity="0.85"/>
<rect x="58.0" y="493.7" width="0.9" height="0.9" fill="#9a1cc0" opacity="0.85"/>
<rect x="82.5" y="480.6" width="0.9" height="0.9" fill="#9a1cc0" opacity="0.85"/>
<rect x="81.0" y="498.7" width="0.9" height="0.9" fill="#9a1cc0" opacity="0.85"/>
<rect x="43.0" y="475.7" width="0.9" height="0.9" fill="#9a1cc0" opacity="0.85"/>
<rect x="38.9" y="494.5" width="0.9" height="0.9" fill="#9a1cc0" opacity="0.85"/>
<rect x="68.9" y="504.5" width="0.9" height="0.9" fill="#9a1cc0" opacity="0.85"/>
<rect x="81.0" y="483.8" width="0.9" height="0.9" fill="#9a1cc0" opacity="0.85"/>
<rect x="84.1" y="504.3" width="0.9" height="0.9" fill="#9a1cc0" opacity="0.85"/>
<rect x="74.6" y="500.6" width="0.9" height="0.9" fill="#9a1cc0" opacity="0.85"/>
<rect x="40.8" y="497.7" width="0.9" height="0.9" fill="#9a1cc0" opacity="0.85"/>
<rect x="46.8" y="476.4" width="0.9" height="0.9" fill="#9a1cc0" opacity="0.85"/>
<rect x="56.7" y="494.9" width="0.9" height="0.9" fill="#9a1cc0" opacity="0.85"/>
<rect x="63.3" y="486.7" width="0.9" height="0.9" fill="#9a1cc0" opacity="0.85"/>
<rect x="44.5" y="495.4" width="0.9" height="0.9" fill="#9a1cc0" opacity="0.85"/>
<rect x="51.8" y="473.6" width="0.9" height="0.9" fill="#9a1cc0" opacity="0.85"/>
<rect x="66.2" y="512.9" width="0.9" height="0.9" fill="#9a1cc0" opacity="0.85"/>
<rect x="56.6" y="476.2" width="0.9" height="0.9" fill="#9a1cc0" opacity="0.85"/>
<rect x="83.8" y="511.3" width="0.9" height="0.9" fill="#9a1cc0" opacity="0.85"/>
<rect x="58.0" y="488.8" width="0.9" height="0.9" fill="#9a1cc0" opacity="0.85"/>
<rect x="66.8" y="517.6" width="0.9" height="0.9" fill="#9a1cc0" opacity="0.85"/>
<rect x="67.2" y="508.2" width="0.9" height="0.9" fill="#9a1cc0" opacity="0.85"/>
<rect x="71.4" y="470.2" width="0.9" height="0.9" fill="#9a1cc0" opacity="0.85"/>
<rect x="46.0" y="476.2" width="0.9" height="0.9" fill="#9a1cc0" opacity="0.85"/>
<rect x="74.1" y="494.3" width="0.9" height="0.9" fill="#9a1cc0" opacity="0.85"/>
<rect x="93.0" y="489.1" width="0.9" height="0.9" fill="#9a1cc0" opacity="0.85"/>
<rect x="71.4" y="493.8" width="0.9" height="0.9" fill="#9a1cc0" opacity="0.85"/>
<rect x="66.4" y="516.9" width="0.9" height="0.9" fill="#9a1cc0" opacity="0.85"/>
<rect x="69.5" y="512.9" width="0.9" height="0.9" fill="#9a1cc0" opacity="0.85"/>
<rect x="87.8" y="483.9" width="0.9" height="0.9" fill="#9a1cc0" opacity="0.85"/>
<rect x="78.9" y="486.2" width="0.9" height="0.9" fill="#9a1cc0" opacity="0.85"/>
<rect x="67.0" y="495.3" width="0.9" height="0.9" fill="#9a1cc0" opacity="0.85"/>
<rect x="65.0" y="484.3" width="0.9" height="0.9" fill="#9a1cc0" opacity="0.85"/>
<rect x="91.2" y="488.9" width="0.9" height="0.9" fill="#9a1cc0" opacity="0.85"/>
<rect x="75.7" y="513.5" width="0.9" height="0.9" fill="#9a1cc0" opacity="0.85"/>
<rect x="76.5" y="508.0" width="0.9" height="0.9" fill="#9a1cc0" opacity="0.85"/>
<rect x="87.0" y="506.4" width="0.9" height="0.9" fill="#9a1cc0" opacity="0.85"/>
<rect x="88.2" y="477.0" width="0.9" height="0.9" fill="#9a1cc0" opacity="0.85"/>
<rect x="94.2" y="492.8" width="0.9" height="0.9" fill="#9a1cc0" opacity="0.85"/>
<rect x="37.1" y="484.6" width="0.9" height="0.9" fill="#9a1cc0" opacity="0.85"/>
<rect x="39.2" y="492.2" width="0.9" height="0.9" fill="#9a1cc0" opacity="0.85"/>
<rect x="40.7" y="479.8" width="0.9" height="0.9" fill="#9a1cc0" opacity="0.85"/>
<rect x="71.1" y="495.3" width="0.9" height="0.9" fill="#9a1cc0" opacity="0.85"/>
<rect x="47.9" y="488.6" width="0.9" height="0.9" fill="#9a1cc0" opacity="0.85"/>
<rect x="62.3" y="493.8" width="0.9" height="0.9" fill="#9a1cc0" opacity="0.85"/>
<rect x="64.3" y="488.6" width="0.9" height="0.9" fill="#9a1cc0" opacity="0.85"/>
<rect x="78.4" y="472.5" width="0.9" height="0.9" fill="#9a1cc0" opacity="0.85"/>
<rect x="53.6" y="494.8" width="0.9" height="0.9" fill="#9a1cc0" opacity="0.85"/>
<rect x="55.9" y="483.2" width="0.9" height="0.9" fill="#9a1cc0" opacity="0.85"/>
<rect x="54.9" y="496.1" width="0.9" height="0.9" fill="#9a1cc0" opacity="0.85"/>
<rect x="88.0" y="489.7" width="0.9" height="0.9" fill="#9a1cc0" opacity="0.85"/>
<rect x="58.6" y="498.7" width="0.9" height="0.9" fill="#9a1cc0" opacity="0.85"/>
<rect x="60.8" y="469.3" width="0.9" height="0.9" fill="#9a1cc0" opacity="0.85"/>
<rect x="70.4" y="485.9" width="0.9" height="0.9" fill="#9a1cc0" opacity="0.85"/>
<rect x="52.6" y="502.8" width="0.9" height="0.9" fill="#9a1cc0" opacity="0.85"/>
<rect x="65.5" y="482.8" width="0.9" height="0.9" fill="#9a1cc0" opacity="0.85"/>
<rect x="39.5" y="477.0" width="0.9" height="0.9" fill="#9a1cc0" opacity="0.85"/>
<rect x="64.8" y="490.4" width="0.9" height="0.9" fill="#9a1cc0" opacity="0.85"/>
<rect x="74.2" y="496.4" width="0.9" height="0.9" fill="#9a1cc0" opacity="0.85"/>
<rect x="55.7" y="474.2" width="0.9" height="0.9" fill="#9a1cc0" opacity="0.85"/>
<rect x="43.0" y="490.3" width="0.9" height="0.9" fill="#9a1cc0" opacity="0.85"/>
<rect x="43.5" y="503.4" width="0.9" height="0.9" fill="#9a1cc0" opacity="0.85"/>
<rect x="46.2" y="473.0" width="0.9" height="0.9" fill="#9a1cc0" opacity="0.85"/>
<rect x="61.4" y="470.0" width="0.9" height="0.9" fill="#9a1cc0" opacity="0.85"/>
<rect x="89.6" y="480.4" width="0.9" height="0.9" fill="#9a1cc0" opacity="0.85"/>
<rect x="63.3" y="488.2" width="0.9" height="0.9" fill="#9a1cc0" opacity="0.85"/>
<rect x="52.0" y="471.3" width="0.9" height="0.9" fill="#9a1cc0" opacity="0.85"/>
<rect x="37.2" y="502.5" width="0.9" height="0.9" fill="#9a1cc0" opacity="0.85"/>
<rect x="77.8" y="514.8" width="0.9" height="0.9" fill="#9a1cc0" opacity="0.85"/>
<rect x="39.3" y="500.1" width="0.9" height="0.9" fill="#9a1cc0" opacity="0.85"/>
<rect x="64.2" y="506.4" width="0.9" height="0.9" fill="#9a1cc0" opacity="0.85"/>
<rect x="53.9" y="504.3" width="0.9" height="0.9" fill="#9a1cc0" opacity="0.85"/>
<rect x="82.2" y="502.0" width="0.9" height="0.9" fill="#9a1cc0" opacity="0.85"/>
<rect x="90.3" y="490.0" width="0.9" height="0.9" fill="#9a1cc0" opacity="0.85"/>
<rect x="90.1" y="483.4" width="0.9" height="0.9" fill="#9a1cc0" opacity="0.85"/>
<rect x="81.1" y="470.9" width="0.9" height="0.9" fill="#9a1cc0" opacity="0.85"/>
<rect x="64.8" y="479.2" width="0.9" height="0.9" fill="#9a1cc0" opacity="0.85"/>
<rect x="64.5" y="508.8" width="0.9" height="0.9" fill="#9a1cc0" opacity="0.85"/>
<rect x="79.8" y="494.1" width="0.9" height="0.9" fill="#9a1cc0" opacity="0.85"/>
<rect x="87.8" y="476.6" width="0.9" height="0.9" fill="#9a1cc0" opacity="0.85"/>
<rect x="51.1" y="512.1" width="0.9" height="0.9" fill="#9a1cc0" opacity="0.85"/>
<rect x="69.2" y="468.9" width="0.9" height="0.9" fill="#9a1cc0" opacity="0.85"/>
<rect x="71.0" y="474.7" width="0.9" height="0.9" fill="#9a1cc0" opacity="0.85"/>
<rect x="87.6" y="506.6" width="0.9" height="0.9" fill="#9a1cc0" opacity="0.85"/>
<rect x="54.6" y="511.0" width="0.9" height="0.9" fill="#9a1cc0" opacity="0.85"/>
<rect x="48.7" y="506.3" width="0.9" height="0.9" fill="#9a1cc0" opacity="0.85"/>
<rect x="77.1" y="490.3" width="0.9" height="0.9" fill="#9a1cc0" opacity="0.85"/>
<rect x="39.1" y="488.6" width="0.9" height="0.9" fill="#9a1cc0" opacity="0.85"/>
<rect x="34.3" y="486.6" width="0.9" height="0.9" fill="#9a1cc0" opacity="0.85"/>
<rect x="38.8" y="505.8" width="0.9" height="0.9" fill="#9a1cc0" opacity="0.85"/>
<rect x="52.8" y="469.3" width="0.9" height="0.9" fill="#9a1cc0" opacity="0.85"/>
<rect x="77.0" y="498.7" width="0.9" height="0.9" fill="#9a1cc0" opacity="0.85"/>
<rect x="57.4" y="516.0" width="0.9" height="0.9" fill="#9a1cc0" opacity="0.85"/>
<rect x="80.8" y="493.6" width="0.9" height="0.9" fill="#9a1cc0" opacity="0.85"/>
<rect x="57.7" y="467.9" width="0.9" height="0.9" fill="#9a1cc0" opacity="0.85"/>
<circle cx="46.3" cy="512.0" r="6.2" fill="#2a2aff" opacity="0.95" filter="url(#bl2)"/>
<circle cx="40.0" cy="490.0" r="5.0" fill="#2a2aff" opacity="0.95" filter="url(#bl2)"/>
<circle cx="60.0" cy="505.0" r="5.0" fill="#2a2aff" opacity="0.95" filter="url(#bl2)"/>
<circle cx="85.0" cy="500.0" r="5.0" fill="#2a2aff" opacity="0.95" filter="url(#bl2)"/>
<circle cx="28" cy="456" r="6.2" fill="#2a2aff" opacity="0.95" filter="url(#bl2)"/>
<circle cx="65.3" cy="477.6" r="1.6" fill="#ff2a8a" filter="url(#bl05)"/>
<circle cx="72.6" cy="489.0" r="1.6" fill="#ff2a8a" filter="url(#bl05)"/>
</g>
<rect x="107.2" y="452.3" width="81.6" height="81.7" fill="#000"/>
<g clip-path="url(#e4)">
<path d="M175.1,496.3 L174.9,503.2 L172.8,509.8 L168.9,515.7 L163.7,520.5 L157.6,524.1 L150.9,526.3 L143.8,526.8 L136.9,525.7 L130.4,523.2 L124.5,519.7 L119.3,515.2 L115.3,509.6 L113.0,503.1 L112.4,496.3 L113.3,489.6 L115.5,483.1 L119.0,477.2 L123.9,472.1 L129.9,468.4 L136.7,466.3 L143.8,465.6 L150.9,466.4 L157.5,468.7 L163.3,472.6 L167.9,477.7 L171.3,483.5 L173.8,489.7Z" fill="#1a1aa4" filter="url(#bl2)"/>
<circle cx="152.7" cy="513.6" r="2.2" fill="#161696" opacity="0.55" filter="url(#bl1)"/>
<circle cx="143.1" cy="470.9" r="1.7" fill="#161696" opacity="0.55" filter="url(#bl1)"/>
<circle cx="152.7" cy="494.1" r="2.1" fill="#161696" opacity="0.55" filter="url(#bl1)"/>
<circle cx="125.8" cy="480.3" r="1.4" fill="#1c1cb0" opacity="0.55" filter="url(#bl1)"/>
<circle cx="150.9" cy="499.5" r="1.6" fill="#3232ff" opacity="0.55" filter="url(#bl1)"/>
<circle cx="151.0" cy="499.3" r="1.3" fill="#12128a" opacity="0.55" filter="url(#bl1)"/>
<circle cx="163.9" cy="506.2" r="2.1" fill="#3232ff" opacity="0.55" filter="url(#bl1)"/>
<circle cx="115.6" cy="494.5" r="1.4" fill="#3232ff" opacity="0.55" filter="url(#bl1)"/>
<circle cx="157.3" cy="505.8" r="2.2" fill="#3232ff" opacity="0.55" filter="url(#bl1)"/>
<circle cx="157.7" cy="522.1" r="2.4" fill="#12128a" opacity="0.55" filter="url(#bl1)"/>
<circle cx="127.2" cy="500.4" r="1.2" fill="#161696" opacity="0.55" filter="url(#bl1)"/>
<circle cx="150.6" cy="484.1" r="2.3" fill="#161696" opacity="0.55" filter="url(#bl1)"/>
<circle cx="136.2" cy="482.8" r="2.4" fill="#12128a" opacity="0.55" filter="url(#bl1)"/>
<circle cx="151.9" cy="500.2" r="1.6" fill="#1c1cb0" opacity="0.55" filter="url(#bl1)"/>
<circle cx="143.3" cy="502.5" r="1.3" fill="#3232ff" opacity="0.55" filter="url(#bl1)"/>
<circle cx="162.4" cy="494.3" r="2.0" fill="#12128a" opacity="0.55" filter="url(#bl1)"/>
<circle cx="145.1" cy="503.6" r="1.6" fill="#12128a" opacity="0.55" filter="url(#bl1)"/>
<circle cx="170.3" cy="484.4" r="1.7" fill="#2c2cf0" opacity="0.55" filter="url(#bl1)"/>
<circle cx="141.9" cy="485.6" r="1.7" fill="#2c2cf0" opacity="0.55" filter="url(#bl1)"/>
<circle cx="156.2" cy="516.9" r="2.5" fill="#161696" opacity="0.55" filter="url(#bl1)"/>
<circle cx="157.1" cy="518.3" r="1.5" fill="#12128a" opacity="0.55" filter="url(#bl1)"/>
<circle cx="148.7" cy="509.1" r="2.4" fill="#3232ff" opacity="0.55" filter="url(#bl1)"/>
<circle cx="145.4" cy="523.9" r="2.4" fill="#2c2cf0" opacity="0.55" filter="url(#bl1)"/>
<circle cx="167.2" cy="503.7" r="1.5" fill="#2c2cf0" opacity="0.55" filter="url(#bl1)"/>
<circle cx="163.5" cy="499.9" r="1.4" fill="#12128a" opacity="0.55" filter="url(#bl1)"/>
<circle cx="123.9" cy="489.3" r="1.4" fill="#3232ff" opacity="0.55" filter="url(#bl1)"/>
<circle cx="131.3" cy="497.9" r="1.8" fill="#161696" opacity="0.55" filter="url(#bl1)"/>
<circle cx="156.0" cy="501.1" r="1.7" fill="#2c2cf0" opacity="0.55" filter="url(#bl1)"/>
<circle cx="115.1" cy="501.8" r="1.3" fill="#1c1cb0" opacity="0.55" filter="url(#bl1)"/>
<circle cx="122.8" cy="495.1" r="2.0" fill="#161696" opacity="0.55" filter="url(#bl1)"/>
<circle cx="164.1" cy="475.4" r="1.4" fill="#3232ff" opacity="0.55" filter="url(#bl1)"/>
<circle cx="164.3" cy="489.0" r="1.9" fill="#161696" opacity="0.55" filter="url(#bl1)"/>
<circle cx="126.8" cy="495.2" r="1.3" fill="#12128a" opacity="0.55" filter="url(#bl1)"/>
<circle cx="141.0" cy="524.3" r="2.3" fill="#3232ff" opacity="0.55" filter="url(#bl1)"/>
<circle cx="162.2" cy="515.6" r="1.3" fill="#2c2cf0" opacity="0.55" filter="url(#bl1)"/>
<circle cx="138.7" cy="521.8" r="1.4" fill="#12128a" opacity="0.55" filter="url(#bl1)"/>
<circle cx="164.7" cy="494.3" r="1.9" fill="#161696" opacity="0.55" filter="url(#bl1)"/>
<circle cx="124.9" cy="477.4" r="2.1" fill="#12128a" opacity="0.55" filter="url(#bl1)"/>
<circle cx="141.7" cy="491.5" r="2.3" fill="#161696" opacity="0.55" filter="url(#bl1)"/>
<circle cx="138.0" cy="486.9" r="1.4" fill="#2c2cf0" opacity="0.55" filter="url(#bl1)"/>
<circle cx="153.5" cy="469.5" r="2.4" fill="#12128a" opacity="0.55" filter="url(#bl1)"/>
<circle cx="124.5" cy="516.8" r="2.2" fill="#161696" opacity="0.55" filter="url(#bl1)"/>
<circle cx="164.2" cy="498.2" r="1.8" fill="#12128a" opacity="0.55" filter="url(#bl1)"/>
<circle cx="153.3" cy="483.7" r="2.4" fill="#161696" opacity="0.55" filter="url(#bl1)"/>
<circle cx="138.1" cy="511.7" r="2.5" fill="#161696" opacity="0.55" filter="url(#bl1)"/>
<circle cx="123.5" cy="510.2" r="1.7" fill="#12128a" opacity="0.55" filter="url(#bl1)"/>
<circle cx="136.1" cy="497.0" r="1.9" fill="#2c2cf0" opacity="0.55" filter="url(#bl1)"/>
<circle cx="163.9" cy="489.7" r="2.1" fill="#161696" opacity="0.55" filter="url(#bl1)"/>
<circle cx="149.6" cy="522.4" r="1.6" fill="#161696" opacity="0.55" filter="url(#bl1)"/>
<circle cx="147.2" cy="481.4" r="1.2" fill="#2c2cf0" opacity="0.55" filter="url(#bl1)"/>
<circle cx="152.3" cy="513.2" r="2.0" fill="#12128a" opacity="0.55" filter="url(#bl1)"/>
<circle cx="145.6" cy="482.1" r="1.4" fill="#12128a" opacity="0.55" filter="url(#bl1)"/>
<circle cx="152.7" cy="475.2" r="2.0" fill="#3232ff" opacity="0.55" filter="url(#bl1)"/>
<circle cx="141.1" cy="485.8" r="2.0" fill="#161696" opacity="0.55" filter="url(#bl1)"/>
<circle cx="140.9" cy="515.0" r="2.6" fill="#161696" opacity="0.55" filter="url(#bl1)"/>
<circle cx="155.1" cy="508.8" r="1.4" fill="#12128a" opacity="0.55" filter="url(#bl1)"/>
<circle cx="136.2" cy="500.2" r="2.3" fill="#3232ff" opacity="0.55" filter="url(#bl1)"/>
<circle cx="143.3" cy="518.4" r="2.4" fill="#161696" opacity="0.55" filter="url(#bl1)"/>
<circle cx="158.9" cy="492.2" r="1.3" fill="#3232ff" opacity="0.55" filter="url(#bl1)"/>
<circle cx="118.7" cy="506.7" r="2.5" fill="#12128a" opacity="0.55" filter="url(#bl1)"/>
<circle cx="167.5" cy="507.2" r="2.4" fill="#161696" opacity="0.55" filter="url(#bl1)"/>
<circle cx="124.5" cy="506.5" r="2.3" fill="#2c2cf0" opacity="0.55" filter="url(#bl1)"/>
<circle cx="131.5" cy="479.1" r="1.8" fill="#12128a" opacity="0.55" filter="url(#bl1)"/>
<circle cx="121.8" cy="496.4" r="2.5" fill="#2c2cf0" opacity="0.55" filter="url(#bl1)"/>
<circle cx="156.7" cy="493.3" r="2.0" fill="#12128a" opacity="0.55" filter="url(#bl1)"/>
<circle cx="143.4" cy="514.4" r="2.1" fill="#2c2cf0" opacity="0.55" filter="url(#bl1)"/>
<circle cx="118.7" cy="511.3" r="2.1" fill="#2c2cf0" opacity="0.55" filter="url(#bl1)"/>
<circle cx="167.1" cy="507.5" r="2.2" fill="#1c1cb0" opacity="0.55" filter="url(#bl1)"/>
<circle cx="147.9" cy="512.6" r="1.8" fill="#12128a" opacity="0.55" filter="url(#bl1)"/>
<circle cx="129.7" cy="517.8" r="1.9" fill="#161696" opacity="0.55" filter="url(#bl1)"/>
<circle cx="130.4" cy="522.0" r="1.3" fill="#3232ff" opacity="0.55" filter="url(#bl1)"/>
<circle cx="165.7" cy="492.4" r="2.5" fill="#3232ff" opacity="0.55" filter="url(#bl1)"/>
<circle cx="155.6" cy="488.0" r="1.7" fill="#2c2cf0" opacity="0.55" filter="url(#bl1)"/>
<circle cx="125.6" cy="496.9" r="2.1" fill="#161696" opacity="0.55" filter="url(#bl1)"/>
<circle cx="151.2" cy="489.5" r="1.4" fill="#1c1cb0" opacity="0.55" filter="url(#bl1)"/>
<circle cx="127.5" cy="506.9" r="1.9" fill="#12128a" opacity="0.55" filter="url(#bl1)"/>
<circle cx="127.1" cy="501.1" r="1.7" fill="#1c1cb0" opacity="0.55" filter="url(#bl1)"/>
<circle cx="138.2" cy="477.7" r="2.3" fill="#161696" opacity="0.55" filter="url(#bl1)"/>
<circle cx="135.1" cy="473.8" r="1.8" fill="#161696" opacity="0.55" filter="url(#bl1)"/>
<circle cx="161.6" cy="511.9" r="2.4" fill="#2c2cf0" opacity="0.55" filter="url(#bl1)"/>
<circle cx="128.7" cy="478.2" r="2.6" fill="#1c1cb0" opacity="0.55" filter="url(#bl1)"/>
<circle cx="152.6" cy="520.5" r="2.1" fill="#2c2cf0" opacity="0.55" filter="url(#bl1)"/>
<circle cx="147.8" cy="502.7" r="2.4" fill="#3232ff" opacity="0.55" filter="url(#bl1)"/>
<circle cx="160.2" cy="480.4" r="2.5" fill="#161696" opacity="0.55" filter="url(#bl1)"/>
<circle cx="127.8" cy="485.7" r="1.6" fill="#1c1cb0" opacity="0.55" filter="url(#bl1)"/>
<circle cx="145.7" cy="497.2" r="1.3" fill="#161696" opacity="0.55" filter="url(#bl1)"/>
<circle cx="143.9" cy="508.5" r="1.6" fill="#161696" opacity="0.55" filter="url(#bl1)"/>
<circle cx="136.5" cy="468.1" r="1.2" fill="#12128a" opacity="0.55" filter="url(#bl1)"/>
<circle cx="151.6" cy="500.6" r="1.4" fill="#161696" opacity="0.55" filter="url(#bl1)"/>
<circle cx="132.6" cy="514.5" r="1.6" fill="#2c2cf0" opacity="0.55" filter="url(#bl1)"/>
<circle cx="143.4" cy="468.9" r="1.3" fill="#2c2cf0" opacity="0.55" filter="url(#bl1)"/>
<circle cx="154.3" cy="502.2" r="1.3" fill="#12128a" opacity="0.55" filter="url(#bl1)"/>
<circle cx="172.0" cy="505.6" r="2.3" fill="#161696" opacity="0.55" filter="url(#bl1)"/>
<circle cx="141.4" cy="479.4" r="1.4" fill="#3232ff" opacity="0.55" filter="url(#bl1)"/>
<circle cx="120.1" cy="478.4" r="2.3" fill="#12128a" opacity="0.55" filter="url(#bl1)"/>
<circle cx="154.2" cy="480.2" r="2.2" fill="#2c2cf0" opacity="0.55" filter="url(#bl1)"/>
<circle cx="147.3" cy="522.2" r="1.3" fill="#3232ff" opacity="0.55" filter="url(#bl1)"/>
<circle cx="132.5" cy="489.7" r="2.3" fill="#3232ff" opacity="0.55" filter="url(#bl1)"/>
<circle cx="147.5" cy="482.7" r="2.4" fill="#12128a" opacity="0.55" filter="url(#bl1)"/>
<circle cx="124.2" cy="499.7" r="1.5" fill="#12128a" opacity="0.55" filter="url(#bl1)"/>
<circle cx="135.2" cy="491.5" r="1.5" fill="#3232ff" opacity="0.55" filter="url(#bl1)"/>
<circle cx="142.7" cy="515.3" r="1.7" fill="#1c1cb0" opacity="0.55" filter="url(#bl1)"/>
<circle cx="157.3" cy="501.2" r="1.5" fill="#12128a" opacity="0.55" filter="url(#bl1)"/>
<circle cx="137.7" cy="518.9" r="2.1" fill="#3232ff" opacity="0.55" filter="url(#bl1)"/>
<circle cx="154.9" cy="488.6" r="2.6" fill="#2c2cf0" opacity="0.55" filter="url(#bl1)"/>
<circle cx="152.6" cy="490.0" r="1.5" fill="#12128a" opacity="0.55" filter="url(#bl1)"/>
<circle cx="147.5" cy="469.9" r="1.8" fill="#2c2cf0" opacity="0.55" filter="url(#bl1)"/>
<circle cx="127.2" cy="494.0" r="1.6" fill="#1c1cb0" opacity="0.55" filter="url(#bl1)"/>
<circle cx="139.2" cy="512.4" r="1.4" fill="#161696" opacity="0.55" filter="url(#bl1)"/>
<circle cx="169.5" cy="484.9" r="1.2" fill="#3232ff" opacity="0.55" filter="url(#bl1)"/>
<circle cx="132.3" cy="519.7" r="2.4" fill="#1c1cb0" opacity="0.55" filter="url(#bl1)"/>
<circle cx="135.6" cy="477.7" r="2.3" fill="#2c2cf0" opacity="0.55" filter="url(#bl1)"/>
<circle cx="150.1" cy="501.1" r="1.8" fill="#3232ff" opacity="0.55" filter="url(#bl1)"/>
<circle cx="168.5" cy="507.0" r="1.5" fill="#1c1cb0" opacity="0.55" filter="url(#bl1)"/>
<circle cx="135.1" cy="514.7" r="2.3" fill="#3232ff" opacity="0.55" filter="url(#bl1)"/>
<circle cx="129.8" cy="510.4" r="2.1" fill="#2c2cf0" opacity="0.55" filter="url(#bl1)"/>
<circle cx="159.9" cy="508.4" r="1.4" fill="#2c2cf0" opacity="0.55" filter="url(#bl1)"/>
<circle cx="162.2" cy="474.2" r="1.4" fill="#1c1cb0" opacity="0.55" filter="url(#bl1)"/>
<circle cx="120.6" cy="501.2" r="2.1" fill="#2c2cf0" opacity="0.55" filter="url(#bl1)"/>
<circle cx="158.5" cy="477.3" r="1.8" fill="#2c2cf0" opacity="0.55" filter="url(#bl1)"/>
<circle cx="160.1" cy="505.7" r="2.2" fill="#12128a" opacity="0.55" filter="url(#bl1)"/>
<circle cx="143.3" cy="491.1" r="1.9" fill="#161696" opacity="0.55" filter="url(#bl1)"/>
<circle cx="138.6" cy="480.7" r="2.0" fill="#1c1cb0" opacity="0.55" filter="url(#bl1)"/>
<circle cx="131.5" cy="504.3" r="2.3" fill="#3232ff" opacity="0.55" filter="url(#bl1)"/>
<circle cx="128.1" cy="503.9" r="2.4" fill="#12128a" opacity="0.55" filter="url(#bl1)"/>
<circle cx="122.1" cy="502.0" r="1.6" fill="#12128a" opacity="0.55" filter="url(#bl1)"/>
<circle cx="142.1" cy="468.7" r="1.9" fill="#3232ff" opacity="0.55" filter="url(#bl1)"/>
<circle cx="166.4" cy="490.1" r="2.3" fill="#2c2cf0" opacity="0.55" filter="url(#bl1)"/>
<circle cx="133.2" cy="504.5" r="2.2" fill="#161696" opacity="0.55" filter="url(#bl1)"/>
<circle cx="162.1" cy="485.9" r="1.7" fill="#1c1cb0" opacity="0.55" filter="url(#bl1)"/>
<circle cx="144.0" cy="511.1" r="2.3" fill="#3232ff" opacity="0.55" filter="url(#bl1)"/>
<circle cx="133.7" cy="469.1" r="1.6" fill="#1c1cb0" opacity="0.55" filter="url(#bl1)"/>
<circle cx="156.0" cy="518.6" r="2.2" fill="#2c2cf0" opacity="0.55" filter="url(#bl1)"/>
<circle cx="139.9" cy="490.4" r="2.4" fill="#12128a" opacity="0.55" filter="url(#bl1)"/>
<circle cx="141.1" cy="494.9" r="2.0" fill="#2c2cf0" opacity="0.55" filter="url(#bl1)"/>
<circle cx="167.6" cy="479.4" r="1.5" fill="#2c2cf0" opacity="0.55" filter="url(#bl1)"/>
<circle cx="132.1" cy="521.3" r="1.6" fill="#2c2cf0" opacity="0.55" filter="url(#bl1)"/>
<circle cx="129.8" cy="483.9" r="1.4" fill="#2c2cf0" opacity="0.55" filter="url(#bl1)"/>
<circle cx="147.9" cy="523.9" r="2.3" fill="#3232ff" opacity="0.55" filter="url(#bl1)"/>
<circle cx="146.6" cy="474.4" r="2.3" fill="#161696" opacity="0.55" filter="url(#bl1)"/>
<circle cx="139.5" cy="491.0" r="2.3" fill="#161696" opacity="0.55" filter="url(#bl1)"/>
<circle cx="149.7" cy="482.7" r="1.7" fill="#2c2cf0" opacity="0.55" filter="url(#bl1)"/>
<circle cx="149.7" cy="487.3" r="2.2" fill="#1c1cb0" opacity="0.55" filter="url(#bl1)"/>
<circle cx="140.4" cy="490.3" r="2.4" fill="#161696" opacity="0.55" filter="url(#bl1)"/>
<circle cx="152.0" cy="488.8" r="2.1" fill="#1c1cb0" opacity="0.55" filter="url(#bl1)"/>
<circle cx="170.7" cy="504.4" r="2.6" fill="#1c1cb0" opacity="0.55" filter="url(#bl1)"/>
<circle cx="163.3" cy="489.6" r="2.3" fill="#3232ff" opacity="0.55" filter="url(#bl1)"/>
<circle cx="153.4" cy="486.4" r="1.7" fill="#2c2cf0" opacity="0.55" filter="url(#bl1)"/>
<circle cx="153.4" cy="500.2" r="2.5" fill="#12128a" opacity="0.55" filter="url(#bl1)"/>
<circle cx="161.9" cy="499.1" r="1.3" fill="#1c1cb0" opacity="0.55" filter="url(#bl1)"/>
<circle cx="143.0" cy="483.3" r="2.1" fill="#3232ff" opacity="0.55" filter="url(#bl1)"/>
<circle cx="136.0" cy="515.0" r="1.6" fill="#3232ff" opacity="0.55" filter="url(#bl1)"/>
<circle cx="124.5" cy="475.9" r="1.6" fill="#3232ff" opacity="0.55" filter="url(#bl1)"/>
<circle cx="128.3" cy="518.5" r="2.0" fill="#2c2cf0" opacity="0.55" filter="url(#bl1)"/>
<circle cx="162.0" cy="510.1" r="1.3" fill="#1c1cb0" opacity="0.55" filter="url(#bl1)"/>
<circle cx="140.7" cy="497.4" r="1.5" fill="#161696" opacity="0.55" filter="url(#bl1)"/>
<circle cx="132.0" cy="509.7" r="2.1" fill="#12128a" opacity="0.55" filter="url(#bl1)"/>
<circle cx="125.1" cy="488.0" r="1.8" fill="#1c1cb0" opacity="0.55" filter="url(#bl1)"/>
<circle cx="139.8" cy="477.5" r="1.5" fill="#12128a" opacity="0.55" filter="url(#bl1)"/>
<circle cx="138.3" cy="516.6" r="1.3" fill="#2c2cf0" opacity="0.55" filter="url(#bl1)"/>
<rect x="150.3" y="474.1" width="0.9" height="0.9" fill="#9a1cc0" opacity="0.85"/>
<rect x="161.2" y="502.7" width="0.9" height="0.9" fill="#9a1cc0" opacity="0.85"/>
<rect x="168.4" y="487.2" width="0.9" height="0.9" fill="#9a1cc0" opacity="0.85"/>
<rect x="157.2" y="516.1" width="0.9" height="0.9" fill="#9a1cc0" opacity="0.85"/>
<rect x="161.3" y="505.2" width="0.9" height="0.9" fill="#9a1cc0" opacity="0.85"/>
<rect x="129.5" y="522.5" width="0.9" height="0.9" fill="#9a1cc0" opacity="0.85"/>
<rect x="113.7" y="493.4" width="0.9" height="0.9" fill="#9a1cc0" opacity="0.85"/>
<rect x="117.2" y="497.7" width="0.9" height="0.9" fill="#9a1cc0" opacity="0.85"/>
<rect x="172.4" y="498.2" width="0.9" height="0.9" fill="#9a1cc0" opacity="0.85"/>
<rect x="128.9" y="485.1" width="0.9" height="0.9" fill="#9a1cc0" opacity="0.85"/>
<rect x="158.1" y="471.7" width="0.9" height="0.9" fill="#9a1cc0" opacity="0.85"/>
<rect x="145.9" y="499.7" width="0.9" height="0.9" fill="#9a1cc0" opacity="0.85"/>
<rect x="126.8" y="473.8" width="0.9" height="0.9" fill="#9a1cc0" opacity="0.85"/>
<rect x="161.4" y="510.9" width="0.9" height="0.9" fill="#9a1cc0" opacity="0.85"/>
<rect x="150.6" y="498.6" width="0.9" height="0.9" fill="#9a1cc0" opacity="0.85"/>
<rect x="114.7" y="495.4" width="0.9" height="0.9" fill="#9a1cc0" opacity="0.85"/>
<rect x="159.2" y="476.1" width="0.9" height="0.9" fill="#9a1cc0" opacity="0.85"/>
<rect x="140.5" y="482.9" width="0.9" height="0.9" fill="#9a1cc0" opacity="0.85"/>
<rect x="132.1" y="499.0" width="0.9" height="0.9" fill="#9a1cc0" opacity="0.85"/>
<rect x="146.5" y="507.6" width="0.9" height="0.9" fill="#9a1cc0" opacity="0.85"/>
<rect x="138.8" y="498.3" width="0.9" height="0.9" fill="#9a1cc0" opacity="0.85"/>
<rect x="160.5" y="514.9" width="0.9" height="0.9" fill="#9a1cc0" opacity="0.85"/>
<rect x="132.0" y="487.6" width="0.9" height="0.9" fill="#9a1cc0" opacity="0.85"/>
<rect x="148.9" y="519.3" width="0.9" height="0.9" fill="#9a1cc0" opacity="0.85"/>
<rect x="169.3" y="505.0" width="0.9" height="0.9" fill="#9a1cc0" opacity="0.85"/>
<rect x="153.3" y="469.6" width="0.9" height="0.9" fill="#9a1cc0" opacity="0.85"/>
<rect x="157.6" y="519.0" width="0.9" height="0.9" fill="#9a1cc0" opacity="0.85"/>
<rect x="129.4" y="492.9" width="0.9" height="0.9" fill="#9a1cc0" opacity="0.85"/>
<rect x="150.3" y="483.4" width="0.9" height="0.9" fill="#9a1cc0" opacity="0.85"/>
<rect x="156.8" y="521.0" width="0.9" height="0.9" fill="#9a1cc0" opacity="0.85"/>
<rect x="169.6" y="492.5" width="0.9" height="0.9" fill="#9a1cc0" opacity="0.85"/>
<rect x="159.9" y="509.2" width="0.9" height="0.9" fill="#9a1cc0" opacity="0.85"/>
<rect x="132.0" y="488.6" width="0.9" height="0.9" fill="#9a1cc0" opacity="0.85"/>
<rect x="154.1" y="479.7" width="0.9" height="0.9" fill="#9a1cc0" opacity="0.85"/>
<rect x="122.4" y="494.9" width="0.9" height="0.9" fill="#9a1cc0" opacity="0.85"/>
<rect x="172.4" y="496.6" width="0.9" height="0.9" fill="#9a1cc0" opacity="0.85"/>
<rect x="163.5" y="475.6" width="0.9" height="0.9" fill="#9a1cc0" opacity="0.85"/>
<rect x="125.4" y="489.3" width="0.9" height="0.9" fill="#9a1cc0" opacity="0.85"/>
<rect x="138.4" y="507.4" width="0.9" height="0.9" fill="#9a1cc0" opacity="0.85"/>
<rect x="148.5" y="517.7" width="0.9" height="0.9" fill="#9a1cc0" opacity="0.85"/>
<rect x="121.9" y="510.1" width="0.9" height="0.9" fill="#9a1cc0" opacity="0.85"/>
<rect x="158.4" y="496.0" width="0.9" height="0.9" fill="#9a1cc0" opacity="0.85"/>
<rect x="156.3" y="483.3" width="0.9" height="0.9" fill="#9a1cc0" opacity="0.85"/>
<rect x="128.1" y="502.8" width="0.9" height="0.9" fill="#9a1cc0" opacity="0.85"/>
<rect x="130.2" y="481.4" width="0.9" height="0.9" fill="#9a1cc0" opacity="0.85"/>
<rect x="158.5" y="514.1" width="0.9" height="0.9" fill="#9a1cc0" opacity="0.85"/>
<rect x="155.7" y="507.7" width="0.9" height="0.9" fill="#9a1cc0" opacity="0.85"/>
<rect x="119.3" y="509.8" width="0.9" height="0.9" fill="#9a1cc0" opacity="0.85"/>
<rect x="146.6" y="473.6" width="0.9" height="0.9" fill="#9a1cc0" opacity="0.85"/>
<rect x="127.9" y="498.9" width="0.9" height="0.9" fill="#9a1cc0" opacity="0.85"/>
<rect x="122.9" y="493.9" width="0.9" height="0.9" fill="#9a1cc0" opacity="0.85"/>
<rect x="122.1" y="495.1" width="0.9" height="0.9" fill="#9a1cc0" opacity="0.85"/>
<rect x="145.8" y="513.8" width="0.9" height="0.9" fill="#9a1cc0" opacity="0.85"/>
<rect x="137.8" y="501.5" width="0.9" height="0.9" fill="#9a1cc0" opacity="0.85"/>
<rect x="165.0" y="511.3" width="0.9" height="0.9" fill="#9a1cc0" opacity="0.85"/>
<rect x="130.6" y="517.7" width="0.9" height="0.9" fill="#9a1cc0" opacity="0.85"/>
<rect x="157.0" y="476.2" width="0.9" height="0.9" fill="#9a1cc0" opacity="0.85"/>
<rect x="116.4" y="502.2" width="0.9" height="0.9" fill="#9a1cc0" opacity="0.85"/>
<rect x="137.8" y="494.5" width="0.9" height="0.9" fill="#9a1cc0" opacity="0.85"/>
<rect x="148.3" y="476.3" width="0.9" height="0.9" fill="#9a1cc0" opacity="0.85"/>
<rect x="117.9" y="494.9" width="0.9" height="0.9" fill="#9a1cc0" opacity="0.85"/>
<rect x="130.8" y="470.2" width="0.9" height="0.9" fill="#9a1cc0" opacity="0.85"/>
<rect x="134.9" y="488.3" width="0.9" height="0.9" fill="#9a1cc0" opacity="0.85"/>
<rect x="128.5" y="475.3" width="0.9" height="0.9" fill="#9a1cc0" opacity="0.85"/>
<rect x="169.2" y="496.9" width="0.9" height="0.9" fill="#9a1cc0" opacity="0.85"/>
<rect x="126.1" y="478.8" width="0.9" height="0.9" fill="#9a1cc0" opacity="0.85"/>
<rect x="129.7" y="506.4" width="0.9" height="0.9" fill="#9a1cc0" opacity="0.85"/>
<rect x="130.8" y="490.3" width="0.9" height="0.9" fill="#9a1cc0" opacity="0.85"/>
<rect x="147.6" y="485.1" width="0.9" height="0.9" fill="#9a1cc0" opacity="0.85"/>
<rect x="120.3" y="488.6" width="0.9" height="0.9" fill="#9a1cc0" opacity="0.85"/>
<rect x="141.3" y="507.0" width="0.9" height="0.9" fill="#9a1cc0" opacity="0.85"/>
<rect x="168.8" y="479.7" width="0.9" height="0.9" fill="#9a1cc0" opacity="0.85"/>
<rect x="123.3" y="478.5" width="0.9" height="0.9" fill="#9a1cc0" opacity="0.85"/>
<rect x="128.8" y="502.0" width="0.9" height="0.9" fill="#9a1cc0" opacity="0.85"/>
<rect x="139.5" y="495.7" width="0.9" height="0.9" fill="#9a1cc0" opacity="0.85"/>
<rect x="117.8" y="488.3" width="0.9" height="0.9" fill="#9a1cc0" opacity="0.85"/>
<rect x="130.3" y="521.9" width="0.9" height="0.9" fill="#9a1cc0" opacity="0.85"/>
<rect x="155.3" y="506.3" width="0.9" height="0.9" fill="#9a1cc0" opacity="0.85"/>
<rect x="126.0" y="482.1" width="0.9" height="0.9" fill="#9a1cc0" opacity="0.85"/>
<rect x="146.3" y="493.3" width="0.9" height="0.9" fill="#9a1cc0" opacity="0.85"/>
<rect x="146.3" y="489.0" width="0.9" height="0.9" fill="#9a1cc0" opacity="0.85"/>
<rect x="152.8" y="474.4" width="0.9" height="0.9" fill="#9a1cc0" opacity="0.85"/>
<rect x="172.7" y="498.4" width="0.9" height="0.9" fill="#9a1cc0" opacity="0.85"/>
<rect x="138.7" y="516.6" width="0.9" height="0.9" fill="#9a1cc0" opacity="0.85"/>
<rect x="161.3" y="489.5" width="0.9" height="0.9" fill="#9a1cc0" opacity="0.85"/>
<rect x="156.3" y="502.5" width="0.9" height="0.9" fill="#9a1cc0" opacity="0.85"/>
<rect x="142.8" y="485.2" width="0.9" height="0.9" fill="#9a1cc0" opacity="0.85"/>
<rect x="138.4" y="509.2" width="0.9" height="0.9" fill="#9a1cc0" opacity="0.85"/>
<rect x="133.9" y="500.3" width="0.9" height="0.9" fill="#9a1cc0" opacity="0.85"/>
<rect x="172.6" y="491.2" width="0.9" height="0.9" fill="#9a1cc0" opacity="0.85"/>
<rect x="152.9" y="503.3" width="0.9" height="0.9" fill="#9a1cc0" opacity="0.85"/>
<rect x="115.0" y="487.1" width="0.9" height="0.9" fill="#9a1cc0" opacity="0.85"/>
<rect x="145.5" y="485.0" width="0.9" height="0.9" fill="#9a1cc0" opacity="0.85"/>
<rect x="147.0" y="491.2" width="0.9" height="0.9" fill="#9a1cc0" opacity="0.85"/>
<rect x="117.6" y="496.8" width="0.9" height="0.9" fill="#9a1cc0" opacity="0.85"/>
<rect x="122.3" y="507.4" width="0.9" height="0.9" fill="#9a1cc0" opacity="0.85"/>
<rect x="140.5" y="484.1" width="0.9" height="0.9" fill="#9a1cc0" opacity="0.85"/>
<rect x="155.6" y="507.9" width="0.9" height="0.9" fill="#9a1cc0" opacity="0.85"/>
<rect x="154.4" y="502.3" width="0.9" height="0.9" fill="#9a1cc0" opacity="0.85"/>
<rect x="160.9" y="500.4" width="0.9" height="0.9" fill="#9a1cc0" opacity="0.85"/>
<rect x="139.5" y="484.8" width="0.9" height="0.9" fill="#9a1cc0" opacity="0.85"/>
<rect x="134.0" y="498.5" width="0.9" height="0.9" fill="#9a1cc0" opacity="0.85"/>
<rect x="149.8" y="513.1" width="0.9" height="0.9" fill="#9a1cc0" opacity="0.85"/>
<rect x="156.5" y="491.5" width="0.9" height="0.9" fill="#9a1cc0" opacity="0.85"/>
<rect x="164.4" y="515.3" width="0.9" height="0.9" fill="#9a1cc0" opacity="0.85"/>
<rect x="134.9" y="513.2" width="0.9" height="0.9" fill="#9a1cc0" opacity="0.85"/>
<rect x="123.7" y="503.2" width="0.9" height="0.9" fill="#9a1cc0" opacity="0.85"/>
<rect x="168.7" y="500.0" width="0.9" height="0.9" fill="#9a1cc0" opacity="0.85"/>
<rect x="153.9" y="489.2" width="0.9" height="0.9" fill="#9a1cc0" opacity="0.85"/>
<rect x="165.2" y="479.8" width="0.9" height="0.9" fill="#9a1cc0" opacity="0.85"/>
<rect x="126.3" y="479.2" width="0.9" height="0.9" fill="#9a1cc0" opacity="0.85"/>
<rect x="121.0" y="504.2" width="0.9" height="0.9" fill="#9a1cc0" opacity="0.85"/>
<rect x="166.3" y="481.6" width="0.9" height="0.9" fill="#9a1cc0" opacity="0.85"/>
<rect x="116.2" y="488.1" width="0.9" height="0.9" fill="#9a1cc0" opacity="0.85"/>
<rect x="164.1" y="498.0" width="0.9" height="0.9" fill="#9a1cc0" opacity="0.85"/>
<rect x="168.0" y="499.7" width="0.9" height="0.9" fill="#9a1cc0" opacity="0.85"/>
<rect x="132.1" y="478.3" width="0.9" height="0.9" fill="#9a1cc0" opacity="0.85"/>
<rect x="147.8" y="501.5" width="0.9" height="0.9" fill="#9a1cc0" opacity="0.85"/>
<rect x="148.8" y="475.5" width="0.9" height="0.9" fill="#9a1cc0" opacity="0.85"/>
<rect x="118.3" y="496.8" width="0.9" height="0.9" fill="#9a1cc0" opacity="0.85"/>
<rect x="157.5" y="516.2" width="0.9" height="0.9" fill="#9a1cc0" opacity="0.85"/>
<rect x="114.3" y="496.2" width="0.9" height="0.9" fill="#9a1cc0" opacity="0.85"/>
<rect x="134.9" y="468.8" width="0.9" height="0.9" fill="#9a1cc0" opacity="0.85"/>
<rect x="154.1" y="481.5" width="0.9" height="0.9" fill="#9a1cc0" opacity="0.85"/>
<rect x="140.1" y="483.9" width="0.9" height="0.9" fill="#9a1cc0" opacity="0.85"/>
<rect x="125.5" y="512.8" width="0.9" height="0.9" fill="#9a1cc0" opacity="0.85"/>
<rect x="133.1" y="514.1" width="0.9" height="0.9" fill="#9a1cc0" opacity="0.85"/>
<rect x="117.2" y="482.1" width="0.9" height="0.9" fill="#9a1cc0" opacity="0.85"/>
<rect x="159.2" y="520.2" width="0.9" height="0.9" fill="#9a1cc0" opacity="0.85"/>
<rect x="154.9" y="523.9" width="0.9" height="0.9" fill="#9a1cc0" opacity="0.85"/>
<rect x="149.9" y="519.8" width="0.9" height="0.9" fill="#9a1cc0" opacity="0.85"/>
<rect x="142.3" y="495.0" width="0.9" height="0.9" fill="#9a1cc0" opacity="0.85"/>
<rect x="128.4" y="488.1" width="0.9" height="0.9" fill="#9a1cc0" opacity="0.85"/>
<rect x="129.4" y="478.9" width="0.9" height="0.9" fill="#9a1cc0" opacity="0.85"/>
<rect x="149.4" y="479.9" width="0.9" height="0.9" fill="#9a1cc0" opacity="0.85"/>
<rect x="123.5" y="486.5" width="0.9" height="0.9" fill="#9a1cc0" opacity="0.85"/>
<rect x="171.0" y="488.1" width="0.9" height="0.9" fill="#9a1cc0" opacity="0.85"/>
<rect x="165.3" y="494.8" width="0.9" height="0.9" fill="#9a1cc0" opacity="0.85"/>
<rect x="146.9" y="490.7" width="0.9" height="0.9" fill="#9a1cc0" opacity="0.85"/>
<rect x="135.9" y="500.0" width="0.9" height="0.9" fill="#9a1cc0" opacity="0.85"/>
<rect x="129.5" y="504.6" width="0.9" height="0.9" fill="#9a1cc0" opacity="0.85"/>
<rect x="118.0" y="495.1" width="0.9" height="0.9" fill="#9a1cc0" opacity="0.85"/>
<rect x="167.4" y="496.9" width="0.9" height="0.9" fill="#9a1cc0" opacity="0.85"/>
<rect x="156.4" y="509.9" width="0.9" height="0.9" fill="#9a1cc0" opacity="0.85"/>
<rect x="160.9" y="480.1" width="0.9" height="0.9" fill="#9a1cc0" opacity="0.85"/>
<rect x="117.3" y="507.3" width="0.9" height="0.9" fill="#9a1cc0" opacity="0.85"/>
<rect x="147.0" y="488.4" width="0.9" height="0.9" fill="#9a1cc0" opacity="0.85"/>
<rect x="126.1" y="502.0" width="0.9" height="0.9" fill="#9a1cc0" opacity="0.85"/>
<rect x="171.1" y="502.3" width="0.9" height="0.9" fill="#9a1cc0" opacity="0.85"/>
<rect x="141.4" y="503.5" width="0.9" height="0.9" fill="#9a1cc0" opacity="0.85"/>
<rect x="142.4" y="522.6" width="0.9" height="0.9" fill="#9a1cc0" opacity="0.85"/>
<rect x="149.8" y="516.7" width="0.9" height="0.9" fill="#9a1cc0" opacity="0.85"/>
<rect x="121.5" y="496.2" width="0.9" height="0.9" fill="#9a1cc0" opacity="0.85"/>
<rect x="146.8" y="471.7" width="0.9" height="0.9" fill="#9a1cc0" opacity="0.85"/>
<rect x="134.1" y="483.8" width="0.9" height="0.9" fill="#9a1cc0" opacity="0.85"/>
<rect x="133.0" y="483.2" width="0.9" height="0.9" fill="#9a1cc0" opacity="0.85"/>
<rect x="133.4" y="473.6" width="0.9" height="0.9" fill="#9a1cc0" opacity="0.85"/>
<rect x="150.2" y="494.6" width="0.9" height="0.9" fill="#9a1cc0" opacity="0.85"/>
<rect x="158.0" y="473.4" width="0.9" height="0.9" fill="#9a1cc0" opacity="0.85"/>
<rect x="137.1" y="518.4" width="0.9" height="0.9" fill="#9a1cc0" opacity="0.85"/>
<circle cx="155.0" cy="472.0" r="5.0" fill="#2a2aff" opacity="0.95" filter="url(#bl2)"/>
<circle cx="168.0" cy="478.0" r="4.4" fill="#2a2aff" opacity="0.95" filter="url(#bl2)"/>
<circle cx="135.0" cy="505.0" r="6.2" fill="#2a2aff" opacity="0.95" filter="url(#bl2)"/>
<circle cx="150.0" cy="510.0" r="5.0" fill="#2a2aff" opacity="0.95" filter="url(#bl2)"/>
<circle cx="142.8" cy="490.3" r="1.6" fill="#ff2a8a" filter="url(#bl05)"/>
<circle cx="140.2" cy="497.0" r="1.6" fill="#ff2a8a" filter="url(#bl05)"/>
</g>
<rect x="158.90" y="527.90" width="26.50" height="3.10" fill="#fff" />
<text x="172.20" y="522.90" font-size="9.4" text-anchor="middle" fill="#fff">4 µm</text>
<text x="198.80" y="363.20" font-size="12.5" fill="#000" font-weight="bold">f</text>
<circle cx="212.30" cy="370.80" r="4.20" fill="#c4c4c4" stroke="#8a8a8a" stroke-width="0.7" />
<text x="221.80" y="373.80" font-size="9.6" textLength="32.7" lengthAdjust="spacingAndGlyphs">Control</text>
<circle cx="272.00" cy="370.80" r="4.20" fill="#f9a0a2" />
<text x="281.20" y="373.80" font-size="9.6"><tspan font-style="italic">Lmna</tspan><tspan font-size="6.53" dy="-4.03">−/−</tspan></text>
<line x1="240.00" y1="396.60" x2="240.00" y2="520.90" stroke="#bdbdbd" stroke-width="1.0"  shape-rendering="crispEdges"/>
<line x1="236.80" y1="520.90" x2="240.00" y2="520.90" stroke="#555" stroke-width="0.8"  shape-rendering="crispEdges"/>
<text x="232.00" y="523.80" font-size="8.4" text-anchor="end" fill="#242424">0</text>
<line x1="236.80" y1="496.04" x2="240.00" y2="496.04" stroke="#555" stroke-width="0.8"  shape-rendering="crispEdges"/>
<text x="232.00" y="498.94" font-size="8.4" text-anchor="end" fill="#242424">0.2</text>
<line x1="236.80" y1="471.18" x2="240.00" y2="471.18" stroke="#555" stroke-width="0.8"  shape-rendering="crispEdges"/>
<text x="232.00" y="474.08" font-size="8.4" text-anchor="end" fill="#242424">0.4</text>
<line x1="236.80" y1="446.32" x2="240.00" y2="446.32" stroke="#555" stroke-width="0.8"  shape-rendering="crispEdges"/>
<text x="232.00" y="449.22" font-size="8.4" text-anchor="end" fill="#242424">0.6</text>
<line x1="236.80" y1="421.46" x2="240.00" y2="421.46" stroke="#555" stroke-width="0.8"  shape-rendering="crispEdges"/>
<text x="232.00" y="424.36" font-size="8.4" text-anchor="end" fill="#242424">0.8</text>
<line x1="236.80" y1="396.60" x2="240.00" y2="396.60" stroke="#555" stroke-width="0.8"  shape-rendering="crispEdges"/>
<text x="232.00" y="399.50" font-size="8.4" text-anchor="end" fill="#242424">1.0</text>
<line x1="236.50" y1="520.90" x2="319.10" y2="520.90" stroke="#c4c4c4" stroke-width="1.2"  shape-rendering="crispEdges"/>
<rect x="244.10" y="472.90" width="15.50" height="48.00" fill="#d3d3d3" />
<rect x="260.40" y="518.90" width="14.90" height="2.00" fill="#f9a0a2" />
<rect x="283.40" y="412.60" width="15.40" height="108.30" fill="#d3d3d3" />
<rect x="299.50" y="518.30" width="15.30" height="2.60" fill="#f9a0a2" />
<line x1="259.90" y1="520.90" x2="259.90" y2="523.40" stroke="#555" stroke-width="0.8"  shape-rendering="crispEdges"/>
<line x1="299.10" y1="520.90" x2="299.10" y2="523.40" stroke="#555" stroke-width="0.8"  shape-rendering="crispEdges"/>
<text x="259.60" y="535.50" font-size="9.6" text-anchor="middle" font-style="italic">Cbs</text>
<text x="299.00" y="535.50" font-size="9.6" text-anchor="middle" font-style="italic">Cth</text>
<line x1="251.70" y1="457.90" x2="251.70" y2="489.00" stroke="#333" stroke-width="0.7"  shape-rendering="crispEdges"/>
<line x1="248.20" y1="457.90" x2="255.20" y2="457.90" stroke="#333" stroke-width="0.7"  shape-rendering="crispEdges"/>
<line x1="248.20" y1="489.00" x2="255.20" y2="489.00" stroke="#333" stroke-width="0.7"  shape-rendering="crispEdges"/>
<line x1="291.10" y1="401.00" x2="291.10" y2="424.00" stroke="#333" stroke-width="0.7"  shape-rendering="crispEdges"/>
<line x1="287.60" y1="401.00" x2="294.60" y2="401.00" stroke="#333" stroke-width="0.7"  shape-rendering="crispEdges"/>
<line x1="287.60" y1="424.00" x2="294.60" y2="424.00" stroke="#333" stroke-width="0.7"  shape-rendering="crispEdges"/>
<line x1="301.60" y1="512.20" x2="301.60" y2="520.90" stroke="#333" stroke-width="0.7"  shape-rendering="crispEdges"/>
<line x1="301.60" y1="512.20" x2="309.00" y2="512.20" stroke="#333" stroke-width="0.7"  shape-rendering="crispEdges"/>
<circle cx="251.70" cy="461.00" r="2.30" fill="#fff" stroke="#1e1e1e" stroke-width="0.7" />
<circle cx="251.70" cy="467.60" r="2.30" fill="#fff" stroke="#1e1e1e" stroke-width="0.7" />
<circle cx="251.70" cy="488.60" r="2.30" fill="#fff" stroke="#1e1e1e" stroke-width="0.7" />
<circle cx="262.20" cy="518.80" r="2.30" fill="#fff" stroke="#1e1e1e" stroke-width="0.7" />
<circle cx="267.40" cy="516.60" r="2.30" fill="#fff" stroke="#1e1e1e" stroke-width="0.7" />
<circle cx="272.70" cy="517.00" r="2.30" fill="#fff" stroke="#1e1e1e" stroke-width="0.7" />
<circle cx="291.10" cy="403.60" r="2.30" fill="#fff" stroke="#1e1e1e" stroke-width="0.7" />
<circle cx="291.10" cy="412.60" r="2.30" fill="#fff" stroke="#1e1e1e" stroke-width="0.7" />
<circle cx="291.10" cy="421.40" r="2.30" fill="#fff" stroke="#1e1e1e" stroke-width="0.7" />
<circle cx="301.60" cy="511.80" r="2.30" fill="#fff" stroke="#1e1e1e" stroke-width="0.7" />
<circle cx="301.60" cy="518.30" r="2.30" fill="#fff" stroke="#1e1e1e" stroke-width="0.7" />
<circle cx="312.10" cy="517.00" r="2.30" fill="#fff" stroke="#1e1e1e" stroke-width="0.7" />
<line x1="246.60" y1="451.30" x2="272.80" y2="451.30" stroke="#606060" stroke-width="0.75"  shape-rendering="crispEdges"/>
<text x="259.70" y="448.10" font-size="6.4" text-anchor="middle" fill="#242424" textLength="21.5" lengthAdjust="spacingAndGlyphs">0.0057</text>
<line x1="285.70" y1="398.20" x2="312.30" y2="398.20" stroke="#606060" stroke-width="0.75"  shape-rendering="crispEdges"/>
<text x="299.00" y="394.80" font-size="6.4" text-anchor="middle" fill="#242424" textLength="24.2" lengthAdjust="spacingAndGlyphs">&lt;0.0001</text>
<text x="212.60" y="459.20" font-size="9.8" text-anchor="middle" transform="rotate(-90 212.60 459.20)" textLength="139.0" lengthAdjust="spacingAndGlyphs">Lamin A/C enrichment (% input)</text>
<text x="571.50" y="230.60" font-size="12.5" fill="#000" font-weight="bold">g</text>
<rect x="595.60" y="245.50" width="56.90" height="28.00" fill="#ececec" stroke="#4a4a4a" stroke-width="0.8" />
<rect x="595.60" y="276.20" width="56.90" height="31.40" fill="#dcdcdc" stroke="#4a4a4a" stroke-width="0.8" />
<rect x="595.60" y="310.30" width="56.90" height="31.10" fill="#e4e4e4" stroke="#4a4a4a" stroke-width="0.8" />
<ellipse cx="608.0" cy="258.3" rx="10.5" ry="1.4" fill="#7a7a7a" opacity="0.85" filter="url(#bl1)"/>
<ellipse cx="639.6" cy="258.3" rx="10.5" ry="1.8" fill="#111" opacity="1.0" filter="url(#bl1)"/>
<ellipse cx="608.4" cy="291.4" rx="10.0" ry="1.2" fill="#9a9a9a" opacity="0.7" filter="url(#bl1)"/>
<ellipse cx="638.6" cy="291.4" rx="11.5" ry="2.0" fill="#0a0a0a" opacity="1.0" filter="url(#bl1)"/>
<ellipse cx="608.8" cy="327.9" rx="13.5" ry="1.9" fill="#3a3a3a" opacity="0.92" filter="url(#bl1)"/>
<ellipse cx="636.5" cy="327.9" rx="13.5" ry="2.0" fill="#2e2e2e" opacity="0.92" filter="url(#bl1)"/>
<text x="590.10" y="262.90" font-size="9.4" text-anchor="end">CTH</text>
<text x="590.10" y="298.10" font-size="9.4" text-anchor="end">CBS</text>
<text x="590.10" y="333.70" font-size="9.4" text-anchor="end" textLength="25.0" lengthAdjust="spacingAndGlyphs">α-Tub</text>
<text x="653.00" y="240.00" font-size="9.0">kDa</text>
<line x1="652.50" y1="246.60" x2="655.50" y2="246.60" stroke="#666" stroke-width="0.8"  shape-rendering="crispEdges"/>
<text x="660.00" y="249.60" font-size="8.4" fill="#242424">55</text>
<line x1="652.50" y1="300.80" x2="655.50" y2="300.80" stroke="#666" stroke-width="0.8"  shape-rendering="crispEdges"/>
<text x="660.00" y="303.80" font-size="8.4" fill="#242424">55</text>
<line x1="652.50" y1="326.00" x2="655.50" y2="326.00" stroke="#666" stroke-width="0.8"  shape-rendering="crispEdges"/>
<text x="660.00" y="329.00" font-size="8.4" fill="#242424">55</text>
<text x="608.00" y="239.70" font-size="9.2" transform="rotate(-45 608.00 239.70)"><tspan font-style="italic">Lmna</tspan><tspan font-size="6" dy="-3.5">+/+</tspan></text>
<text x="636.60" y="239.70" font-size="9.2" transform="rotate(-45 636.60 239.70)"><tspan font-style="italic">Lmna</tspan><tspan font-size="6" dy="-3.5">−/−</tspan></text>
<text x="340.80" y="363.20" font-size="12.5" fill="#000" font-weight="bold">h</text>
<circle cx="361.80" cy="367.70" r="3.60" fill="#f47f80" />
<text x="370.70" y="370.90" font-size="9.4"><tspan font-style="italic">Cth</tspan> (±5 kb TSS)</text>
<circle cx="448.90" cy="367.70" r="3.60" fill="#1795b0" />
<text x="457.70" y="370.90" font-size="9.4"><tspan font-style="italic">Cbs</tspan> (±5 kb TSS)</text>
<rect x="371.9" y="380.0" width="140.80" height="141.00" fill="none" stroke="#a8a8a8" stroke-width="1.2"/>
<line x1="371.90" y1="380.00" x2="371.90" y2="521.00" stroke="#a0a0a0" stroke-width="1.8" />
<line x1="371.90" y1="521.00" x2="512.70" y2="521.00" stroke="#a0a0a0" stroke-width="1.8" />
<line x1="368.50" y1="521.00" x2="371.90" y2="521.00" stroke="#666" stroke-width="0.8"  shape-rendering="crispEdges"/>
<text x="364.70" y="524.00" font-size="8.4" text-anchor="end" fill="#242424">4</text>
<line x1="368.50" y1="485.70" x2="371.90" y2="485.70" stroke="#666" stroke-width="0.8"  shape-rendering="crispEdges"/>
<text x="364.70" y="488.70" font-size="8.4" text-anchor="end" fill="#242424">6</text>
<line x1="368.50" y1="450.40" x2="371.90" y2="450.40" stroke="#666" stroke-width="0.8"  shape-rendering="crispEdges"/>
<text x="364.70" y="453.40" font-size="8.4" text-anchor="end" fill="#242424">8</text>
<line x1="368.50" y1="415.10" x2="371.90" y2="415.10" stroke="#666" stroke-width="0.8"  shape-rendering="crispEdges"/>
<text x="364.70" y="418.10" font-size="8.4" text-anchor="end" fill="#242424">10</text>
<line x1="368.50" y1="379.80" x2="371.90" y2="379.80" stroke="#666" stroke-width="0.8"  shape-rendering="crispEdges"/>
<text x="364.70" y="382.80" font-size="8.4" text-anchor="end" fill="#242424">12</text>
<line x1="371.90" y1="521.00" x2="371.90" y2="524.00" stroke="#666" stroke-width="0.8"  shape-rendering="crispEdges"/>
<text x="371.90" y="534.50" font-size="8.4" text-anchor="middle" fill="#242424">0</text>
<line x1="400.06" y1="521.00" x2="400.06" y2="524.00" stroke="#666" stroke-width="0.8"  shape-rendering="crispEdges"/>
<text x="400.06" y="534.50" font-size="8.4" text-anchor="middle" fill="#242424">1</text>
<line x1="428.22" y1="521.00" x2="428.22" y2="524.00" stroke="#666" stroke-width="0.8"  shape-rendering="crispEdges"/>
<text x="428.22" y="534.50" font-size="8.4" text-anchor="middle" fill="#242424">2</text>
<line x1="456.38" y1="521.00" x2="456.38" y2="524.00" stroke="#666" stroke-width="0.8"  shape-rendering="crispEdges"/>
<text x="456.38" y="534.50" font-size="8.4" text-anchor="middle" fill="#242424">3</text>
<line x1="484.54" y1="521.00" x2="484.54" y2="524.00" stroke="#666" stroke-width="0.8"  shape-rendering="crispEdges"/>
<text x="484.54" y="534.50" font-size="8.4" text-anchor="middle" fill="#242424">4</text>
<line x1="512.70" y1="521.00" x2="512.70" y2="524.00" stroke="#666" stroke-width="0.8"  shape-rendering="crispEdges"/>
<text x="512.70" y="534.50" font-size="8.4" text-anchor="middle" fill="#242424">5</text>
<text x="442.60" y="547.80" font-size="9.4" text-anchor="middle">−log<tspan font-size="6" dy="2">10</tspan><tspan dy="-2">(</tspan><tspan font-style="italic">P</tspan>)</text>
<text x="350.20" y="449.80" font-size="9.6" text-anchor="middle" transform="rotate(-90 350.20 449.80)" textLength="50.5" lengthAdjust="spacingAndGlyphs">Motif score</text>
<circle cx="371.90" cy="440.70" r="1.65" fill="#f47f80" />
<circle cx="371.90" cy="444.70" r="1.65" fill="#f47f80" />
<circle cx="371.90" cy="448.30" r="1.65" fill="#f47f80" />
<circle cx="371.90" cy="454.40" r="1.65" fill="#f47f80" />
<circle cx="371.90" cy="457.60" r="1.65" fill="#f47f80" />
<circle cx="400.06" cy="428.40" r="1.65" fill="#f47f80" />
<circle cx="400.06" cy="436.00" r="1.65" fill="#f47f80" />
<circle cx="400.06" cy="439.10" r="1.65" fill="#f47f80" />
<circle cx="400.06" cy="446.40" r="1.65" fill="#f47f80" />
<circle cx="400.06" cy="448.80" r="1.65" fill="#f47f80" />
<circle cx="400.06" cy="451.20" r="1.65" fill="#f47f80" />
<circle cx="400.06" cy="453.70" r="1.65" fill="#f47f80" />
<circle cx="400.06" cy="455.30" r="1.65" fill="#f47f80" />
<circle cx="400.06" cy="457.70" r="1.65" fill="#f47f80" />
<circle cx="400.06" cy="459.30" r="1.65" fill="#f47f80" />
<circle cx="400.06" cy="467.30" r="1.65" fill="#f47f80" />
<circle cx="400.06" cy="472.90" r="1.65" fill="#f47f80" />
<circle cx="400.06" cy="474.00" r="1.65" fill="#f47f80" />
<circle cx="400.06" cy="479.30" r="1.65" fill="#f47f80" />
<circle cx="400.06" cy="481.00" r="1.65" fill="#f47f80" />
<circle cx="400.06" cy="482.60" r="1.65" fill="#f47f80" />
<circle cx="400.06" cy="484.20" r="1.65" fill="#f47f80" />
<circle cx="428.22" cy="410.20" r="1.65" fill="#f47f80" />
<circle cx="428.22" cy="418.70" r="1.65" fill="#f47f80" />
<circle cx="428.22" cy="465.40" r="1.65" fill="#f47f80" />
<circle cx="428.22" cy="478.90" r="1.65" fill="#f47f80" />
<circle cx="428.22" cy="483.70" r="1.65" fill="#f47f80" />
<circle cx="428.22" cy="489.80" r="1.65" fill="#f47f80" />
<circle cx="428.22" cy="491.40" r="1.65" fill="#f47f80" />
<circle cx="428.22" cy="499.40" r="1.65" fill="#f47f80" />
<circle cx="428.22" cy="504.20" r="1.65" fill="#f47f80" />
<circle cx="428.22" cy="508.30" r="1.65" fill="#f47f80" />
<circle cx="456.38" cy="409.40" r="1.65" fill="#f47f80" />
<circle cx="456.38" cy="411.80" r="1.65" fill="#f47f80" />
<circle cx="456.38" cy="426.80" r="1.65" fill="#f47f80" />
<circle cx="456.38" cy="434.80" r="1.65" fill="#f47f80" />
<circle cx="456.38" cy="444.70" r="1.65" fill="#f47f80" />
<circle cx="456.38" cy="450.40" r="1.65" fill="#f47f80" />
<circle cx="456.38" cy="456.00" r="1.65" fill="#f47f80" />
<circle cx="484.54" cy="430.30" r="1.65" fill="#f47f80" />
<circle cx="371.90" cy="399.50" r="1.65" fill="#1795b0" />
<circle cx="371.90" cy="421.50" r="1.65" fill="#1795b0" />
<circle cx="371.90" cy="451.50" r="1.65" fill="#1795b0" />
<circle cx="371.90" cy="465.40" r="1.65" fill="#1795b0" />
<circle cx="400.06" cy="478.00" r="1.65" fill="#1795b0" />
<circle cx="428.22" cy="403.80" r="1.65" fill="#1795b0" />
<circle cx="428.22" cy="448.00" r="1.65" fill="#1795b0" />
<circle cx="428.22" cy="485.30" r="1.65" fill="#1795b0" />
<circle cx="456.38" cy="403.00" r="1.65" fill="#1795b0" />
<circle cx="456.38" cy="404.60" r="1.65" fill="#1795b0" />
<circle cx="456.38" cy="429.20" r="1.65" fill="#1795b0" />
<circle cx="456.38" cy="431.90" r="1.65" fill="#1795b0" />
<circle cx="456.38" cy="449.20" r="1.65" fill="#1795b0" />
<circle cx="456.38" cy="479.50" r="1.65" fill="#1795b0" />
<text x="400.80" y="401.70" font-size="8.7" textLength="17.7" lengthAdjust="spacingAndGlyphs">KLF3</text>
<line x1="420.10" y1="399.80" x2="427.30" y2="402.20" stroke="#1e1e1e" stroke-width="0.7" />
<text x="402.80" y="413.00" font-size="8.7" textLength="13.8" lengthAdjust="spacingAndGlyphs">SP2</text>
<line x1="418.80" y1="410.20" x2="425.70" y2="410.20" stroke="#1e1e1e" stroke-width="0.7"  shape-rendering="crispEdges"/>
<text x="402.10" y="422.30" font-size="8.7" textLength="13.8" lengthAdjust="spacingAndGlyphs">SP2</text>
<line x1="419.30" y1="419.40" x2="425.70" y2="419.40" stroke="#1e1e1e" stroke-width="0.7"  shape-rendering="crispEdges"/>
<text x="464.90" y="396.70" font-size="8.7" fill="#ff3b45" textLength="12.4" lengthAdjust="spacingAndGlyphs">SP1</text>
<line x1="456.80" y1="401.40" x2="463.70" y2="395.30" stroke="#1e1e1e" stroke-width="0.7" />
<text x="466.00" y="407.00" font-size="8.7" fill="#ff3b45" textLength="12.4" lengthAdjust="spacingAndGlyphs">SP1</text>
<line x1="456.80" y1="409.40" x2="464.60" y2="402.20" stroke="#1e1e1e" stroke-width="0.7" />
<text x="432.00" y="409.40" font-size="8.7" textLength="13.8" lengthAdjust="spacingAndGlyphs">SP5</text>
<line x1="447.30" y1="405.40" x2="455.70" y2="405.40" stroke="#1e1e1e" stroke-width="0.7"  shape-rendering="crispEdges"/>
<text x="468.20" y="419.00" font-size="8.7" textLength="13.8" lengthAdjust="spacingAndGlyphs">SP5</text>
<line x1="456.60" y1="412.60" x2="466.60" y2="415.00" stroke="#1e1e1e" stroke-width="0.7" />
<text x="427.70" y="425.80" font-size="8.7" textLength="16.1" lengthAdjust="spacingAndGlyphs">KLF1</text>
<line x1="445.70" y1="423.90" x2="455.70" y2="426.30" stroke="#1e1e1e" stroke-width="0.7" />
<text x="425.60" y="435.60" font-size="8.7" textLength="16.1" lengthAdjust="spacingAndGlyphs">KLF1</text>
<line x1="444.10" y1="432.70" x2="455.70" y2="432.70" stroke="#1e1e1e" stroke-width="0.7"  shape-rendering="crispEdges"/>
<text x="462.10" y="439.10" font-size="8.7" textLength="13.8" lengthAdjust="spacingAndGlyphs">SP5</text>
<line x1="456.60" y1="429.00" x2="466.60" y2="431.90" stroke="#1e1e1e" stroke-width="0.7" />
<text x="476.50" y="448.30" font-size="8.7" textLength="22.5" lengthAdjust="spacingAndGlyphs">BORIS</text>
<line x1="484.60" y1="431.10" x2="488.30" y2="440.70" stroke="#1e1e1e" stroke-width="0.7" />
<text x="546.50" y="363.70" font-size="12.5" fill="#000" font-weight="bold">i</text>
<circle cx="632.50" cy="362.80" r="4.40" fill="#c4c4c4" stroke="#8a8a8a" stroke-width="0.7" />
<text x="642.80" y="366.10" font-size="9.6" textLength="32.7" lengthAdjust="spacingAndGlyphs">Control</text>
<circle cx="632.50" cy="378.90" r="4.40" fill="#f9a0a2" />
<text x="642.80" y="381.80" font-size="9.6"><tspan font-style="italic">Lmna</tspan><tspan font-size="6.53" dy="-4.03">−/−</tspan></text>
<line x1="579.30" y1="396.90" x2="579.30" y2="521.20" stroke="#9a9a9a" stroke-width="0.9"  shape-rendering="crispEdges"/>
<line x1="576.10" y1="521.20" x2="579.30" y2="521.20" stroke="#555" stroke-width="0.8"  shape-rendering="crispEdges"/>
<text x="571.10" y="524.10" font-size="8.4" text-anchor="end" fill="#242424">0</text>
<line x1="576.10" y1="496.35" x2="579.30" y2="496.35" stroke="#555" stroke-width="0.8"  shape-rendering="crispEdges"/>
<text x="571.10" y="499.25" font-size="8.4" text-anchor="end" fill="#242424">5</text>
<line x1="576.10" y1="471.50" x2="579.30" y2="471.50" stroke="#555" stroke-width="0.8"  shape-rendering="crispEdges"/>
<text x="571.10" y="474.40" font-size="8.4" text-anchor="end" fill="#242424">10</text>
<line x1="576.10" y1="446.65" x2="579.30" y2="446.65" stroke="#555" stroke-width="0.8"  shape-rendering="crispEdges"/>
<text x="571.10" y="449.55" font-size="8.4" text-anchor="end" fill="#242424">15</text>
<line x1="576.10" y1="421.80" x2="579.30" y2="421.80" stroke="#555" stroke-width="0.8"  shape-rendering="crispEdges"/>
<text x="571.10" y="424.70" font-size="8.4" text-anchor="end" fill="#242424">20</text>
<line x1="576.10" y1="396.95" x2="579.30" y2="396.95" stroke="#555" stroke-width="0.8"  shape-rendering="crispEdges"/>
<text x="571.10" y="399.85" font-size="8.4" text-anchor="end" fill="#242424">25</text>
<line x1="576.10" y1="521.20" x2="685.00" y2="521.20" stroke="#707070" stroke-width="1.0"  shape-rendering="crispEdges"/>
<rect x="583.40" y="517.22" width="13.10" height="3.98" fill="#dcdcdc" />
<rect x="596.50" y="496.35" width="14.20" height="24.85" fill="#f9a0a2" />
<rect x="618.00" y="504.80" width="13.70" height="16.40" fill="#dcdcdc" />
<rect x="631.70" y="432.24" width="14.10" height="88.96" fill="#f9a0a2" />
<rect x="654.00" y="520.21" width="13.70" height="0.99" fill="#d3d3d3" />
<rect x="667.70" y="519.46" width="14.00" height="1.74" fill="#f05a5a" />
<line x1="596.50" y1="521.20" x2="596.50" y2="523.70" stroke="#555" stroke-width="0.8"  shape-rendering="crispEdges"/>
<line x1="631.70" y1="521.20" x2="631.70" y2="523.70" stroke="#555" stroke-width="0.8"  shape-rendering="crispEdges"/>
<line x1="667.70" y1="521.20" x2="667.70" y2="523.70" stroke="#555" stroke-width="0.8"  shape-rendering="crispEdges"/>
<text x="596.50" y="535.80" font-size="9.6" text-anchor="middle" font-style="italic">Cbs</text>
<text x="631.70" y="535.80" font-size="9.6" text-anchor="middle" font-style="italic">Cth</text>
<text x="666.80" y="535.80" font-size="9.6" text-anchor="middle" font-style="italic">GD</text>
<line x1="603.80" y1="490.70" x2="603.80" y2="501.10" stroke="#333" stroke-width="0.7"  shape-rendering="crispEdges"/>
<line x1="600.00" y1="490.70" x2="607.60" y2="490.70" stroke="#333" stroke-width="0.7"  shape-rendering="crispEdges"/>
<line x1="600.00" y1="501.10" x2="607.60" y2="501.10" stroke="#333" stroke-width="0.7"  shape-rendering="crispEdges"/>
<line x1="624.80" y1="493.30" x2="624.80" y2="517.60" stroke="#333" stroke-width="0.7"  shape-rendering="crispEdges"/>
<line x1="621.00" y1="493.30" x2="628.60" y2="493.30" stroke="#333" stroke-width="0.7"  shape-rendering="crispEdges"/>
<line x1="621.00" y1="517.60" x2="628.60" y2="517.60" stroke="#333" stroke-width="0.7"  shape-rendering="crispEdges"/>
<line x1="638.90" y1="407.00" x2="638.90" y2="456.40" stroke="#333" stroke-width="0.7"  shape-rendering="crispEdges"/>
<line x1="635.10" y1="407.00" x2="642.70" y2="407.00" stroke="#333" stroke-width="0.7"  shape-rendering="crispEdges"/>
<line x1="635.10" y1="456.40" x2="642.70" y2="456.40" stroke="#333" stroke-width="0.7"  shape-rendering="crispEdges"/>
<circle cx="585.10" cy="515.50" r="2.50" fill="#fff" stroke="#1e1e1e" stroke-width="0.7" />
<circle cx="588.10" cy="511.40" r="2.50" fill="#fff" stroke="#1e1e1e" stroke-width="0.7" />
<circle cx="590.70" cy="514.30" r="2.50" fill="#fff" stroke="#1e1e1e" stroke-width="0.7" />
<circle cx="593.90" cy="512.60" r="2.50" fill="#fff" stroke="#1e1e1e" stroke-width="0.7" />
<circle cx="599.20" cy="493.80" r="2.50" fill="#fff" stroke="#1e1e1e" stroke-width="0.7" />
<circle cx="607.80" cy="488.90" r="2.50" fill="#fff" stroke="#1e1e1e" stroke-width="0.7" />
<circle cx="599.20" cy="501.70" r="2.50" fill="#fff" stroke="#1e1e1e" stroke-width="0.7" />
<circle cx="607.80" cy="499.30" r="2.50" fill="#fff" stroke="#1e1e1e" stroke-width="0.7" />
<circle cx="620.20" cy="498.00" r="2.50" fill="#fff" stroke="#1e1e1e" stroke-width="0.7" />
<circle cx="629.00" cy="492.90" r="2.50" fill="#fff" stroke="#1e1e1e" stroke-width="0.7" />
<circle cx="629.00" cy="513.40" r="2.50" fill="#fff" stroke="#1e1e1e" stroke-width="0.7" />
<circle cx="620.20" cy="517.00" r="2.50" fill="#fff" stroke="#1e1e1e" stroke-width="0.7" />
<circle cx="634.40" cy="411.80" r="2.50" fill="#fff" stroke="#1e1e1e" stroke-width="0.7" />
<circle cx="642.90" cy="410.20" r="2.50" fill="#fff" stroke="#1e1e1e" stroke-width="0.7" />
<circle cx="638.90" cy="445.20" r="2.50" fill="#fff" stroke="#1e1e1e" stroke-width="0.7" />
<circle cx="638.90" cy="458.40" r="2.50" fill="#fff" stroke="#1e1e1e" stroke-width="0.7" />
<circle cx="655.80" cy="521.00" r="2.50" fill="#fff" stroke="#1e1e1e" stroke-width="0.7" />
<circle cx="661.30" cy="521.00" r="2.50" fill="#fff" stroke="#1e1e1e" stroke-width="0.7" />
<circle cx="664.40" cy="521.00" r="2.50" fill="#fff" stroke="#1e1e1e" stroke-width="0.7" />
<circle cx="669.50" cy="521.00" r="2.50" fill="#fff" stroke="#1e1e1e" stroke-width="0.7" />
<circle cx="672.20" cy="516.60" r="2.50" fill="#fff" stroke="#1e1e1e" stroke-width="0.7" />
<circle cx="675.30" cy="521.00" r="2.50" fill="#fff" stroke="#1e1e1e" stroke-width="0.7" />
<circle cx="678.20" cy="518.10" r="2.50" fill="#fff" stroke="#1e1e1e" stroke-width="0.7" />
<line x1="584.30" y1="483.80" x2="610.70" y2="483.80" stroke="#606060" stroke-width="0.75"  shape-rendering="crispEdges"/>
<text x="597.50" y="480.50" font-size="6.4" text-anchor="middle" fill="#242424" textLength="21.5" lengthAdjust="spacingAndGlyphs">0.0017</text>
<line x1="617.10" y1="403.30" x2="643.70" y2="403.30" stroke="#606060" stroke-width="0.75"  shape-rendering="crispEdges"/>
<text x="630.40" y="400.60" font-size="6.4" text-anchor="middle" fill="#242424" textLength="21.5" lengthAdjust="spacingAndGlyphs">0.0011</text>
<text x="554.20" y="459.00" font-size="9.7" text-anchor="middle" transform="rotate(-90 554.20 459.00)" textLength="114.5" lengthAdjust="spacingAndGlyphs">SP1 enrichment over input</text>
<text x="8.00" y="567.50" font-size="12.5" fill="#000" font-weight="bold">j</text>
<circle cx="45.20" cy="553.10" r="4.70" fill="#d3d3d3" stroke="#a9a9a9" stroke-width="0.6" />
<text x="55.20" y="555.70" font-size="9.6" fill="#1c1c1c">siCtrl control</text>
<circle cx="45.20" cy="566.80" r="4.70" fill="#f9a0a2" stroke="#ee8f92" stroke-width="0.6" />
<text x="55.20" y="569.40" font-size="9.6" fill="#1c1c1c">siCtrl <tspan font-style="italic">Lmna</tspan><tspan font-size="6" dy="-3.5">−/−</tspan></text>
<circle cx="45.20" cy="580.60" r="4.70" fill="#9ec4f7" stroke="#6f9ee6" stroke-width="0.6" />
<text x="55.20" y="583.20" font-size="9.6" fill="#1c1c1c">si<tspan font-style="italic">Sp1</tspan> control</text>
<circle cx="45.20" cy="594.70" r="4.70" fill="#158fa7" stroke="#0f7f95" stroke-width="0.6" />
<text x="55.20" y="597.30" font-size="9.6" fill="#1c1c1c">si<tspan font-style="italic">Sp1 Lmna</tspan><tspan font-size="6" dy="-3.5">−/−</tspan></text>
<line x1="40.50" y1="624.10" x2="40.50" y2="743.40" stroke="#555" stroke-width="0.8"  shape-rendering="crispEdges"/>
<line x1="37.30" y1="743.40" x2="40.50" y2="743.40" stroke="#555" stroke-width="0.8"  shape-rendering="crispEdges"/>
<text x="32.60" y="746.40" font-size="8.6" text-anchor="end" fill="#242424">0</text>
<line x1="37.30" y1="719.54" x2="40.50" y2="719.54" stroke="#555" stroke-width="0.8"  shape-rendering="crispEdges"/>
<text x="32.60" y="722.54" font-size="8.6" text-anchor="end" fill="#242424">1</text>
<line x1="37.30" y1="695.68" x2="40.50" y2="695.68" stroke="#555" stroke-width="0.8"  shape-rendering="crispEdges"/>
<text x="32.60" y="698.68" font-size="8.6" text-anchor="end" fill="#242424">2</text>
<line x1="37.30" y1="671.82" x2="40.50" y2="671.82" stroke="#555" stroke-width="0.8"  shape-rendering="crispEdges"/>
<text x="32.60" y="674.82" font-size="8.6" text-anchor="end" fill="#242424">3</text>
<line x1="37.30" y1="647.96" x2="40.50" y2="647.96" stroke="#555" stroke-width="0.8"  shape-rendering="crispEdges"/>
<text x="32.60" y="650.96" font-size="8.6" text-anchor="end" fill="#242424">4</text>
<line x1="37.30" y1="624.10" x2="40.50" y2="624.10" stroke="#555" stroke-width="0.8"  shape-rendering="crispEdges"/>
<text x="32.60" y="627.10" font-size="8.6" text-anchor="end" fill="#242424">5</text>
<line x1="36.10" y1="743.40" x2="146.30" y2="743.40" stroke="#555" stroke-width="0.9"  shape-rendering="crispEdges"/>
<rect x="46.00" y="720.73" width="10.30" height="22.67" fill="#d3d3d3" />
<rect x="56.30" y="659.89" width="10.50" height="83.51" fill="#f9a0a2" />
<rect x="66.80" y="736.24" width="10.90" height="7.16" fill="#9ac4f8" />
<rect x="77.70" y="711.90" width="11.00" height="31.50" fill="#1590a8" />
<rect x="99.00" y="720.26" width="10.50" height="23.14" fill="#d3d3d3" />
<rect x="109.50" y="658.70" width="10.90" height="84.70" fill="#f9a0a2" />
<rect x="120.40" y="736.24" width="10.50" height="7.16" fill="#9ac4f8" />
<rect x="130.90" y="714.29" width="10.30" height="29.11" fill="#1590a8" />
<line x1="66.80" y1="743.40" x2="66.80" y2="745.90" stroke="#555" stroke-width="0.8"  shape-rendering="crispEdges"/>
<line x1="120.40" y1="743.40" x2="120.40" y2="745.90" stroke="#555" stroke-width="0.8"  shape-rendering="crispEdges"/>
<text x="67.00" y="757.60" font-size="9.6" text-anchor="middle" fill="#1c1c1c" font-style="italic">Cbs</text>
<text x="120.40" y="757.60" font-size="9.6" text-anchor="middle" fill="#1c1c1c" font-style="italic">Cth</text>
<text x="20.00" y="683.30" font-size="9.6" text-anchor="middle" fill="#1c1c1c" transform="rotate(-90 20.00 683.30)" textLength="113.8" lengthAdjust="spacingAndGlyphs">Relative mRNA expression</text>
<line x1="62.00" y1="652.60" x2="62.00" y2="663.50" stroke="#333" stroke-width="0.7"  shape-rendering="crispEdges"/>
<line x1="59.40" y1="652.60" x2="64.60" y2="652.60" stroke="#333" stroke-width="0.7"  shape-rendering="crispEdges"/>
<line x1="59.40" y1="663.50" x2="64.60" y2="663.50" stroke="#333" stroke-width="0.7"  shape-rendering="crispEdges"/>
<line x1="82.80" y1="698.10" x2="82.80" y2="725.90" stroke="#333" stroke-width="0.7"  shape-rendering="crispEdges"/>
<line x1="80.20" y1="698.10" x2="85.40" y2="698.10" stroke="#333" stroke-width="0.7"  shape-rendering="crispEdges"/>
<line x1="80.20" y1="725.90" x2="85.40" y2="725.90" stroke="#333" stroke-width="0.7"  shape-rendering="crispEdges"/>
<line x1="115.00" y1="645.00" x2="115.00" y2="672.00" stroke="#333" stroke-width="0.7"  shape-rendering="crispEdges"/>
<line x1="112.40" y1="645.00" x2="117.60" y2="645.00" stroke="#333" stroke-width="0.7"  shape-rendering="crispEdges"/>
<line x1="112.40" y1="672.00" x2="117.60" y2="672.00" stroke="#333" stroke-width="0.7"  shape-rendering="crispEdges"/>
<line x1="136.20" y1="706.00" x2="136.20" y2="719.00" stroke="#333" stroke-width="0.7"  shape-rendering="crispEdges"/>
<line x1="133.60" y1="706.00" x2="138.80" y2="706.00" stroke="#333" stroke-width="0.7"  shape-rendering="crispEdges"/>
<line x1="133.60" y1="719.00" x2="138.80" y2="719.00" stroke="#333" stroke-width="0.7"  shape-rendering="crispEdges"/>
<line x1="72.30" y1="729.00" x2="72.30" y2="738.00" stroke="#333" stroke-width="0.7"  shape-rendering="crispEdges"/>
<line x1="69.70" y1="729.00" x2="74.90" y2="729.00" stroke="#333" stroke-width="0.7"  shape-rendering="crispEdges"/>
<line x1="69.70" y1="738.00" x2="74.90" y2="738.00" stroke="#333" stroke-width="0.7"  shape-rendering="crispEdges"/>
<circle cx="47.70" cy="720.40" r="2.10" fill="#fff" stroke="#1e1e1e" stroke-width="0.7" />
<circle cx="50.40" cy="718.90" r="2.10" fill="#fff" stroke="#1e1e1e" stroke-width="0.7" />
<circle cx="54.30" cy="719.30" r="2.10" fill="#fff" stroke="#1e1e1e" stroke-width="0.7" />
<circle cx="58.00" cy="653.60" r="2.10" fill="#fff" stroke="#1e1e1e" stroke-width="0.7" />
<circle cx="65.00" cy="652.10" r="2.10" fill="#fff" stroke="#1e1e1e" stroke-width="0.7" />
<circle cx="62.00" cy="663.50" r="2.10" fill="#fff" stroke="#1e1e1e" stroke-width="0.7" />
<circle cx="62.00" cy="670.50" r="2.10" fill="#fff" stroke="#1e1e1e" stroke-width="0.7" />
<circle cx="69.00" cy="738.40" r="2.10" fill="#fff" stroke="#1e1e1e" stroke-width="0.7" />
<circle cx="72.30" cy="736.20" r="2.10" fill="#fff" stroke="#1e1e1e" stroke-width="0.7" />
<circle cx="75.50" cy="737.30" r="2.10" fill="#fff" stroke="#1e1e1e" stroke-width="0.7" />
<circle cx="72.30" cy="728.70" r="2.10" fill="#fff" stroke="#1e1e1e" stroke-width="0.7" />
<circle cx="82.80" cy="698.10" r="2.10" fill="#fff" stroke="#1e1e1e" stroke-width="0.7" />
<circle cx="82.80" cy="707.70" r="2.10" fill="#fff" stroke="#1e1e1e" stroke-width="0.7" />
<circle cx="82.80" cy="715.00" r="2.10" fill="#fff" stroke="#1e1e1e" stroke-width="0.7" />
<circle cx="82.80" cy="725.90" r="2.10" fill="#fff" stroke="#1e1e1e" stroke-width="0.7" />
<circle cx="100.30" cy="720.00" r="2.10" fill="#fff" stroke="#1e1e1e" stroke-width="0.7" />
<circle cx="104.00" cy="720.00" r="2.10" fill="#fff" stroke="#1e1e1e" stroke-width="0.7" />
<circle cx="107.70" cy="720.00" r="2.10" fill="#fff" stroke="#1e1e1e" stroke-width="0.7" />
<circle cx="115.00" cy="645.30" r="2.10" fill="#fff" stroke="#1e1e1e" stroke-width="0.7" />
<circle cx="115.00" cy="649.90" r="2.10" fill="#fff" stroke="#1e1e1e" stroke-width="0.7" />
<circle cx="115.00" cy="666.10" r="2.10" fill="#fff" stroke="#1e1e1e" stroke-width="0.7" />
<circle cx="115.00" cy="672.30" r="2.10" fill="#fff" stroke="#1e1e1e" stroke-width="0.7" />
<circle cx="122.60" cy="737.30" r="2.10" fill="#fff" stroke="#1e1e1e" stroke-width="0.7" />
<circle cx="125.50" cy="734.20" r="2.10" fill="#fff" stroke="#1e1e1e" stroke-width="0.7" />
<circle cx="128.50" cy="735.10" r="2.10" fill="#fff" stroke="#1e1e1e" stroke-width="0.7" />
<circle cx="133.10" cy="715.00" r="2.10" fill="#fff" stroke="#1e1e1e" stroke-width="0.7" />
<circle cx="136.20" cy="706.20" r="2.10" fill="#fff" stroke="#1e1e1e" stroke-width="0.7" />
<circle cx="139.50" cy="716.00" r="2.10" fill="#fff" stroke="#1e1e1e" stroke-width="0.7" />
<circle cx="133.10" cy="719.30" r="2.10" fill="#fff" stroke="#1e1e1e" stroke-width="0.7" />
<line x1="59.60" y1="620.80" x2="85.40" y2="620.80" stroke="#606060" stroke-width="0.75"  shape-rendering="crispEdges"/>
<text x="72.50" y="619.00" font-size="6.4" text-anchor="middle" fill="#242424" textLength="24.2" lengthAdjust="spacingAndGlyphs">&lt;0.0001</text>
<line x1="45.30" y1="633.20" x2="75.50" y2="633.20" stroke="#606060" stroke-width="0.75"  shape-rendering="crispEdges"/>
<text x="60.40" y="631.00" font-size="6.4" text-anchor="middle" fill="#242424" textLength="21.5" lengthAdjust="spacingAndGlyphs">0.0279</text>
<line x1="41.60" y1="646.30" x2="63.90" y2="646.30" stroke="#606060" stroke-width="0.75"  shape-rendering="crispEdges"/>
<text x="52.75" y="645.00" font-size="6.4" text-anchor="middle" fill="#242424" textLength="24.2" lengthAdjust="spacingAndGlyphs">&lt;0.0001</text>
<line x1="114.30" y1="614.20" x2="140.10" y2="614.20" stroke="#606060" stroke-width="0.75"  shape-rendering="crispEdges"/>
<text x="127.20" y="612.00" font-size="6.4" text-anchor="middle" fill="#242424" textLength="24.2" lengthAdjust="spacingAndGlyphs">&lt;0.0001</text>
<line x1="100.30" y1="626.30" x2="131.00" y2="626.30" stroke="#606060" stroke-width="0.75"  shape-rendering="crispEdges"/>
<text x="115.65" y="624.30" font-size="6.4" text-anchor="middle" fill="#242424" textLength="21.5" lengthAdjust="spacingAndGlyphs">0.0368</text>
<line x1="99.60" y1="639.00" x2="119.30" y2="639.00" stroke="#606060" stroke-width="0.75"  shape-rendering="crispEdges"/>
<text x="109.45" y="637.00" font-size="6.4" text-anchor="middle" fill="#242424" textLength="24.2" lengthAdjust="spacingAndGlyphs">&lt;0.0001</text>
<text x="185.80" y="567.30" font-size="12.5" fill="#000" font-weight="bold">k</text>
<ellipse cx="260.5" cy="673.2" rx="83.2" ry="72.7" fill="#d4dff0"/>
<path d="M245.5,598.7 L248.9,598.2 L252.2,597.8 L255.6,597.6 L259.0,597.5 L262.4,597.5 L265.8,597.6 L269.1,597.9 L272.5,598.2 L275.8,598.7 L279.2,599.3 L282.4,600.0 L285.7,600.8" fill="none" stroke="#8799bd" stroke-width="4.0" stroke-linecap="round"/>
<path d="M245.5,598.7 L248.9,598.2 L252.2,597.8 L255.6,597.6 L259.0,597.5 L262.4,597.5 L265.8,597.6 L269.1,597.9 L272.5,598.2 L275.8,598.7 L279.2,599.3 L282.4,600.0 L285.7,600.8" fill="none" stroke="#afc0dc" stroke-width="2.6" stroke-linecap="round"/>
<path d="M295.6,604.0 L297.6,604.9 L299.6,605.8 L301.6,606.7 L303.6,607.6 L305.5,608.7 L307.4,609.7 L309.3,610.8 L311.2,612.0 L313.0,613.1 L314.7,614.4 L316.5,615.6 L318.2,616.9" fill="none" stroke="#8799bd" stroke-width="4.0" stroke-linecap="round"/>
<path d="M295.6,604.0 L297.6,604.9 L299.6,605.8 L301.6,606.7 L303.6,607.6 L305.5,608.7 L307.4,609.7 L309.3,610.8 L311.2,612.0 L313.0,613.1 L314.7,614.4 L316.5,615.6 L318.2,616.9" fill="none" stroke="#afc0dc" stroke-width="2.6" stroke-linecap="round"/>
<path d="M330.2,628.7 L331.7,630.5 L333.1,632.3 L334.4,634.2 L335.6,636.1 L336.8,638.1 L338.0,640.0 L339.0,642.0 L340.0,644.0 L341.0,646.1 L341.8,648.1 L342.6,650.2 L343.4,652.3" fill="none" stroke="#8799bd" stroke-width="4.0" stroke-linecap="round"/>
<path d="M330.2,628.7 L331.7,630.5 L333.1,632.3 L334.4,634.2 L335.6,636.1 L336.8,638.1 L338.0,640.0 L339.0,642.0 L340.0,644.0 L341.0,646.1 L341.8,648.1 L342.6,650.2 L343.4,652.3" fill="none" stroke="#afc0dc" stroke-width="2.6" stroke-linecap="round"/>
<path d="M346.1,664.0 L346.3,665.8 L346.5,667.7 L346.6,669.6 L346.7,671.4 L346.7,673.3 L346.7,675.2 L346.6,677.1 L346.5,678.9 L346.3,680.8 L346.0,682.6 L345.7,684.5 L345.4,686.3" fill="none" stroke="#8799bd" stroke-width="4.0" stroke-linecap="round"/>
<path d="M346.1,664.0 L346.3,665.8 L346.5,667.7 L346.6,669.6 L346.7,671.4 L346.7,673.3 L346.7,675.2 L346.6,677.1 L346.5,678.9 L346.3,680.8 L346.0,682.6 L345.7,684.5 L345.4,686.3" fill="none" stroke="#afc0dc" stroke-width="2.6" stroke-linecap="round"/>
<path d="M343.8,692.8 L343.0,695.0 L342.2,697.2 L341.4,699.4 L340.4,701.6 L339.4,703.7 L338.3,705.8 L337.1,707.9 L335.9,709.9 L334.6,711.9 L333.2,713.9 L331.8,715.8 L330.2,717.7" fill="none" stroke="#8799bd" stroke-width="4.0" stroke-linecap="round"/>
<path d="M343.8,692.8 L343.0,695.0 L342.2,697.2 L341.4,699.4 L340.4,701.6 L339.4,703.7 L338.3,705.8 L337.1,707.9 L335.9,709.9 L334.6,711.9 L333.2,713.9 L331.8,715.8 L330.2,717.7" fill="none" stroke="#afc0dc" stroke-width="2.6" stroke-linecap="round"/>
<path d="M323.5,724.8 L321.6,726.6 L319.7,728.3 L317.6,729.9 L315.5,731.5 L313.4,733.0 L311.2,734.4 L308.9,735.8 L306.6,737.2 L304.2,738.4 L301.9,739.6 L299.4,740.7 L296.9,741.8" fill="none" stroke="#8799bd" stroke-width="4.0" stroke-linecap="round"/>
<path d="M323.5,724.8 L321.6,726.6 L319.7,728.3 L317.6,729.9 L315.5,731.5 L313.4,733.0 L311.2,734.4 L308.9,735.8 L306.6,737.2 L304.2,738.4 L301.9,739.6 L299.4,740.7 L296.9,741.8" fill="none" stroke="#afc0dc" stroke-width="2.6" stroke-linecap="round"/>
<path d="M288.6,744.8 L285.9,745.5 L283.3,746.2 L280.6,746.8 L277.9,747.3 L275.2,747.8 L272.5,748.2 L269.8,748.5 L267.0,748.7 L264.3,748.8 L261.5,748.9 L258.7,748.9 L256.0,748.8" fill="none" stroke="#8799bd" stroke-width="4.0" stroke-linecap="round"/>
<path d="M288.6,744.8 L285.9,745.5 L283.3,746.2 L280.6,746.8 L277.9,747.3 L275.2,747.8 L272.5,748.2 L269.8,748.5 L267.0,748.7 L264.3,748.8 L261.5,748.9 L258.7,748.9 L256.0,748.8" fill="none" stroke="#afc0dc" stroke-width="2.6" stroke-linecap="round"/>
<path d="M247.0,748.0 L244.1,747.5 L241.1,747.0 L238.2,746.3 L235.3,745.6 L232.4,744.8 L229.6,743.9 L226.8,742.9 L224.1,741.8 L221.4,740.6 L218.7,739.4 L216.1,738.1 L213.6,736.7" fill="none" stroke="#8799bd" stroke-width="4.0" stroke-linecap="round"/>
<path d="M247.0,748.0 L244.1,747.5 L241.1,747.0 L238.2,746.3 L235.3,745.6 L232.4,744.8 L229.6,743.9 L226.8,742.9 L224.1,741.8 L221.4,740.6 L218.7,739.4 L216.1,738.1 L213.6,736.7" fill="none" stroke="#afc0dc" stroke-width="2.6" stroke-linecap="round"/>
<path d="M206.3,732.0 L204.1,730.5 L202.1,728.9 L200.1,727.2 L198.1,725.5 L196.3,723.7 L194.5,721.9 L192.7,720.0 L191.1,718.1 L189.5,716.1 L187.9,714.1 L186.5,712.0 L185.1,709.9" fill="none" stroke="#8799bd" stroke-width="4.0" stroke-linecap="round"/>
<path d="M206.3,732.0 L204.1,730.5 L202.1,728.9 L200.1,727.2 L198.1,725.5 L196.3,723.7 L194.5,721.9 L192.7,720.0 L191.1,718.1 L189.5,716.1 L187.9,714.1 L186.5,712.0 L185.1,709.9" fill="none" stroke="#afc0dc" stroke-width="2.6" stroke-linecap="round"/>
<path d="M177.2,692.8 L176.6,690.6 L176.0,688.3 L175.5,686.0 L175.1,683.7 L174.8,681.4 L174.6,679.1 L174.4,676.8 L174.3,674.5 L174.3,672.2 L174.4,669.9 L174.5,667.6 L174.8,665.3" fill="none" stroke="#8799bd" stroke-width="4.0" stroke-linecap="round"/>
<path d="M177.2,692.8 L176.6,690.6 L176.0,688.3 L175.5,686.0 L175.1,683.7 L174.8,681.4 L174.6,679.1 L174.4,676.8 L174.3,674.5 L174.3,672.2 L174.4,669.9 L174.5,667.6 L174.8,665.3" fill="none" stroke="#afc0dc" stroke-width="2.6" stroke-linecap="round"/>
<path d="M175.9,658.8 L176.5,656.4 L177.1,654.0 L177.8,651.7 L178.7,649.4 L179.6,647.1 L180.6,644.8 L181.7,642.6 L182.8,640.4 L184.0,638.2 L185.4,636.1 L186.7,634.0 L188.2,632.0" fill="none" stroke="#8799bd" stroke-width="4.0" stroke-linecap="round"/>
<path d="M175.9,658.8 L176.5,656.4 L177.1,654.0 L177.8,651.7 L178.7,649.4 L179.6,647.1 L180.6,644.8 L181.7,642.6 L182.8,640.4 L184.0,638.2 L185.4,636.1 L186.7,634.0 L188.2,632.0" fill="none" stroke="#afc0dc" stroke-width="2.6" stroke-linecap="round"/>
<path d="M194.5,624.5 L196.8,622.2 L199.2,620.0 L201.7,617.8 L204.3,615.8 L207.0,613.8 L209.8,612.0 L212.7,610.2 L215.7,608.5 L218.7,607.0 L221.8,605.6 L225.0,604.2 L228.2,603.0" fill="none" stroke="#8799bd" stroke-width="4.0" stroke-linecap="round"/>
<path d="M194.5,624.5 L196.8,622.2 L199.2,620.0 L201.7,617.8 L204.3,615.8 L207.0,613.8 L209.8,612.0 L212.7,610.2 L215.7,608.5 L218.7,607.0 L221.8,605.6 L225.0,604.2 L228.2,603.0" fill="none" stroke="#afc0dc" stroke-width="2.6" stroke-linecap="round"/>
<ellipse cx="260.5" cy="673.2" rx="83.2" ry="72.7" fill="none" stroke="#16968f" stroke-width="1.3"/>
<path d="M341.0,676.7 L338.5,690.7 L332.9,703.9 L324.3,715.9 L313.0,726.1 L299.7,734.2 L284.7,739.8 L268.7,742.6 L252.4,742.6 L236.4,739.8 L221.4,734.3 L208.0,726.2 L196.8,716.0 L188.2,704.0 L182.5,690.7 L180.0,676.8 L180.8,662.7 L184.9,649.0 L192.1,636.3 L202.0,625.1 L214.4,615.9 L228.7,609.1 L244.2,604.8 L260.4,603.4 L276.7,604.8 L292.2,609.0 L306.5,615.9 L318.9,625.1 L328.9,636.2 L336.1,648.9 L340.2,662.6Z" fill="none" stroke="#d0605f" stroke-width="0.8"/>
<circle cx="341.00" cy="676.69" r="2.10" fill="#cc5f60" />
<circle cx="338.54" cy="690.65" r="2.10" fill="#cc5f60" />
<circle cx="332.89" cy="703.90" r="2.10" fill="#cc5f60" />
<circle cx="324.27" cy="715.89" r="2.10" fill="#cc5f60" />
<circle cx="313.04" cy="726.13" r="2.10" fill="#cc5f60" />
<circle cx="299.66" cy="734.21" r="2.10" fill="#cc5f60" />
<circle cx="284.68" cy="739.78" r="2.10" fill="#cc5f60" />
<circle cx="268.71" cy="742.64" r="2.10" fill="#cc5f60" />
<circle cx="252.40" cy="742.65" r="2.10" fill="#cc5f60" />
<circle cx="236.42" cy="739.81" r="2.10" fill="#cc5f60" />
<circle cx="221.43" cy="734.25" r="2.10" fill="#cc5f60" />
<circle cx="208.04" cy="726.19" r="2.10" fill="#cc5f60" />
<circle cx="196.80" cy="715.96" r="2.10" fill="#cc5f60" />
<circle cx="188.16" cy="703.98" r="2.10" fill="#cc5f60" />
<circle cx="182.49" cy="690.74" r="2.10" fill="#cc5f60" />
<circle cx="180.01" cy="676.78" r="2.10" fill="#cc5f60" />
<circle cx="180.82" cy="662.68" r="2.10" fill="#cc5f60" />
<circle cx="184.90" cy="649.00" r="2.10" fill="#cc5f60" />
<circle cx="192.07" cy="636.32" r="2.10" fill="#cc5f60" />
<circle cx="202.04" cy="625.14" r="2.10" fill="#cc5f60" />
<circle cx="214.41" cy="615.94" r="2.10" fill="#cc5f60" />
<circle cx="228.67" cy="609.08" r="2.10" fill="#cc5f60" />
<circle cx="244.22" cy="604.84" r="2.10" fill="#cc5f60" />
<circle cx="260.45" cy="603.40" r="2.10" fill="#cc5f60" />
<circle cx="276.67" cy="604.82" r="2.10" fill="#cc5f60" />
<circle cx="292.24" cy="609.04" r="2.10" fill="#cc5f60" />
<circle cx="306.50" cy="615.88" r="2.10" fill="#cc5f60" />
<circle cx="318.88" cy="625.08" r="2.10" fill="#cc5f60" />
<circle cx="328.87" cy="636.24" r="2.10" fill="#cc5f60" />
<circle cx="336.06" cy="648.91" r="2.10" fill="#cc5f60" />
<circle cx="340.16" cy="662.58" r="2.10" fill="#cc5f60" />
<text x="243.80" y="591.40" font-size="8.8" text-anchor="middle" fill="#1c1c1c" textLength="24.6" lengthAdjust="spacingAndGlyphs">HGPS</text>
<g fill="#2f5f7c"><circle cx="276.5" cy="577.0" r="2.6"/><path d="M271.3,580.2 Q276.5,577.6 281.6,580.2 L282.6,584 L286.9,588.0 L286.2,589.0 L281.9,586.2 L281.2,589.8 L272.6,589.8 L272.1,585.8 L269.7,588.2 L268.7,587.6 Z"/><rect x="273.9" y="589" width="2.2" height="9.3"/><rect x="277.5" y="589" width="2.2" height="9.3"/></g>
<rect x="283.2" y="588.2" width="1.3" height="10.1" fill="#a8bccb"/>
<text x="255.80" y="621.50" font-size="8.2" text-anchor="middle" fill="#1c1c1c" textLength="46.9" lengthAdjust="spacingAndGlyphs">LMNA c.1824</text>
<text x="256.20" y="630.40" font-size="8.2" text-anchor="middle" fill="#1c1c1c">C&gt;T mutation</text>
<line x1="203.90" y1="643.10" x2="281.20" y2="643.10" stroke="#555" stroke-width="0.7"  shape-rendering="crispEdges"/>
<rect x="212.70" y="638.80" width="26.50" height="8.70" fill="#eef3fa" stroke="#5f86b8" stroke-width="0.8" />
<rect x="245.20" y="638.80" width="27.00" height="8.70" fill="#eef3fa" stroke="#5f86b8" stroke-width="0.8" />
<text x="225.95" y="645.60" font-size="6.7" text-anchor="middle" fill="#1c1c1c">Exon 11</text>
<text x="258.70" y="645.60" font-size="6.7" text-anchor="middle" fill="#1c1c1c">Exon 12</text>
<polyline points="222,647.5 240,652.2 258,647.5" fill="none" stroke="#555" stroke-width="0.6"/>
<line x1="273.00" y1="643.30" x2="293.50" y2="643.30" stroke="#d0605f" stroke-width="0.8"  shape-rendering="crispEdges"/>
<circle cx="295.50" cy="643.30" r="2.10" fill="#c95d5e" />
<text x="305.50" y="638.60" font-size="8.2" text-anchor="middle" fill="#1c1c1c" textLength="31.1" lengthAdjust="spacingAndGlyphs">Farnesyl</text>
<text x="242.40" y="661.10" font-size="8.2" text-anchor="middle" fill="#1c1c1c" textLength="43.8" lengthAdjust="spacingAndGlyphs">Mis-splicing</text>
<text x="293.80" y="659.60" font-size="8.2" text-anchor="middle" fill="#d0555a" textLength="31.1" lengthAdjust="spacingAndGlyphs">Progerin</text>
<text x="319.40" y="670.90" font-size="8.2" text-anchor="middle" fill="#1c9c98" textLength="38.0" lengthAdjust="spacingAndGlyphs">Lamin A/C</text>
<text x="205.20" y="678.00" font-size="8.0" fill="#1c1c1c" textLength="76.3" lengthAdjust="spacingAndGlyphs">Nuclear deformation</text>
<text x="205.20" y="689.50" font-size="8.0" fill="#1c1c1c" textLength="102.1" lengthAdjust="spacingAndGlyphs">DNA damage repair defects</text>
<text x="205.20" y="701.10" font-size="8.0" fill="#1c1c1c" textLength="71.0" lengthAdjust="spacingAndGlyphs">Genomic instability</text>
<text x="205.20" y="712.40" font-size="8.0" fill="#1c1c1c" textLength="99.8" lengthAdjust="spacingAndGlyphs">Epigenetic reprogramming</text>
<text x="264.40" y="724.20" font-size="8.0" text-anchor="middle" fill="#1c1c1c" textLength="48.5" lengthAdjust="spacingAndGlyphs">DNA damage</text>
<g transform="rotate(18 244.9 733.7)"><ellipse cx="244.9" cy="733.7" rx="3.9" ry="6.3" fill="#38b9d9"/><path d="M243.70000000000002,728.1 L243.70000000000002,739.3000000000001 M245.9,727.9000000000001 L245.9,739.5 M247.70000000000002,729.1 L247.70000000000002,738.3000000000001" stroke="#1b78a8" stroke-width="0.7"/></g>
<g transform="rotate(18 253.0 733.1)"><ellipse cx="253.0" cy="733.1" rx="3.9" ry="6.3" fill="#38b9d9"/><path d="M251.8,727.5 L251.8,738.7 M254.0,727.3000000000001 L254.0,738.9 M255.8,728.5 L255.8,737.7" stroke="#1b78a8" stroke-width="0.7"/></g>
<g transform="rotate(18 263.0 733.7)"><ellipse cx="263.0" cy="733.7" rx="3.9" ry="6.3" fill="#38b9d9"/><path d="M261.8,728.1 L261.8,739.3000000000001 M264.0,727.9000000000001 L264.0,739.5 M265.8,729.1 L265.8,738.3000000000001" stroke="#1b78a8" stroke-width="0.7"/></g>
<g transform="rotate(18 271.1 733.1)"><ellipse cx="271.1" cy="733.1" rx="3.9" ry="6.3" fill="#38b9d9"/><path d="M269.90000000000003,727.5 L269.90000000000003,738.7 M272.1,727.3000000000001 L272.1,738.9 M273.90000000000003,728.5 L273.90000000000003,737.7" stroke="#1b78a8" stroke-width="0.7"/></g>
<g transform="rotate(18 279.9 732.5)"><ellipse cx="279.9" cy="732.5" rx="3.9" ry="6.3" fill="#38b9d9"/><path d="M278.7,726.9 L278.7,738.1 M280.9,726.7 L280.9,738.3 M282.7,727.9 L282.7,737.1" stroke="#1b78a8" stroke-width="0.7"/></g>
<path d="M259.4,727.5 Q261.5,730 259.2,732.5 Q257.5,735 259.8,737" fill="none" stroke="#4b35c0" stroke-width="0.9"/>
<text x="369.80" y="567.50" font-size="12.5" fill="#000" font-weight="bold">l</text>
<text x="516.00" y="590.90" font-size="8.4" text-anchor="end" fill="#1c1c1c" textLength="88.7" lengthAdjust="spacingAndGlyphs" xml:space="preserve">Glutathione metabolism</text>
<text x="516.00" y="610.30" font-size="8.4" text-anchor="end" fill="#1c1c1c" textLength="74.2" lengthAdjust="spacingAndGlyphs" xml:space="preserve">Cellular senescence</text>
<text x="516.00" y="629.40" font-size="8.4" text-anchor="end" fill="#1c1c1c" textLength="85.5" lengthAdjust="spacingAndGlyphs" xml:space="preserve">p53 signalling pathway</text>
<text x="516.00" y="643.00" font-size="8.4" text-anchor="end" fill="#1c1c1c" textLength="50.5" lengthAdjust="spacingAndGlyphs" xml:space="preserve">Cysteine and </text>
<text x="516.00" y="653.60" font-size="8.4" text-anchor="end" fill="#1c1c1c" textLength="87.1" lengthAdjust="spacingAndGlyphs" xml:space="preserve">methionine metabolism</text>
<text x="516.00" y="667.40" font-size="8.4" text-anchor="end" fill="#1c1c1c" textLength="73.1" lengthAdjust="spacingAndGlyphs" xml:space="preserve">Metabolic pathways</text>
<text x="516.00" y="680.80" font-size="8.4" text-anchor="end" fill="#1c1c1c" textLength="117.5" lengthAdjust="spacingAndGlyphs" xml:space="preserve">Pathways of neurodegeneration</text>
<text x="516.00" y="691.60" font-size="8.4" text-anchor="end" fill="#1c1c1c" textLength="69.6" lengthAdjust="spacingAndGlyphs" xml:space="preserve">– multiple diseases</text>
<text x="516.00" y="705.40" font-size="8.4" text-anchor="end" fill="#1c1c1c" textLength="149.0" lengthAdjust="spacingAndGlyphs" xml:space="preserve">Adrenergic signalling in cardiomyocytes</text>
<text x="516.00" y="724.30" font-size="8.4" text-anchor="end" fill="#1c1c1c" textLength="101.8" lengthAdjust="spacingAndGlyphs" xml:space="preserve">Cardiac muscle contraction</text>
<rect x="524.2" y="578.1" width="74.3" height="54.2" fill="none"/>
<line x1="524.20" y1="578.10" x2="598.50" y2="578.10" stroke="#8a8a8a" stroke-width="0.9"  shape-rendering="crispEdges"/>
<line x1="524.20" y1="578.10" x2="524.20" y2="732.40" stroke="#8a8a8a" stroke-width="0.9"  shape-rendering="crispEdges"/>
<line x1="598.50" y1="578.10" x2="598.50" y2="732.40" stroke="#8a8a8a" stroke-width="0.9"  shape-rendering="crispEdges"/>
<line x1="524.20" y1="732.40" x2="598.50" y2="732.40" stroke="#8a8a8a" stroke-width="0.9"  shape-rendering="crispEdges"/>
<line x1="521.00" y1="588.90" x2="524.20" y2="588.90" stroke="#8a8a8a" stroke-width="0.8"  shape-rendering="crispEdges"/>
<line x1="521.00" y1="607.80" x2="524.20" y2="607.80" stroke="#8a8a8a" stroke-width="0.8"  shape-rendering="crispEdges"/>
<line x1="521.00" y1="626.80" x2="524.20" y2="626.80" stroke="#8a8a8a" stroke-width="0.8"  shape-rendering="crispEdges"/>
<line x1="521.00" y1="645.80" x2="524.20" y2="645.80" stroke="#8a8a8a" stroke-width="0.8"  shape-rendering="crispEdges"/>
<line x1="521.00" y1="665.10" x2="524.20" y2="665.10" stroke="#8a8a8a" stroke-width="0.8"  shape-rendering="crispEdges"/>
<line x1="521.00" y1="684.10" x2="524.20" y2="684.10" stroke="#8a8a8a" stroke-width="0.8"  shape-rendering="crispEdges"/>
<line x1="521.00" y1="703.20" x2="524.20" y2="703.20" stroke="#8a8a8a" stroke-width="0.8"  shape-rendering="crispEdges"/>
<line x1="521.00" y1="722.50" x2="524.20" y2="722.50" stroke="#8a8a8a" stroke-width="0.8"  shape-rendering="crispEdges"/>
<line x1="544.40" y1="732.40" x2="544.40" y2="736.20" stroke="#8a8a8a" stroke-width="0.8"  shape-rendering="crispEdges"/>
<line x1="579.00" y1="732.40" x2="579.00" y2="736.20" stroke="#8a8a8a" stroke-width="0.8"  shape-rendering="crispEdges"/>
<text x="561.50" y="569.60" font-size="9.2" text-anchor="middle" fill="#1c1c1c" textLength="70.0" lengthAdjust="spacingAndGlyphs">KEGG pathways</text>
<circle cx="578.90" cy="588.90" r="1.75" fill="#4f6ff8" />
<circle cx="544.20" cy="607.80" r="2.90" fill="#6a60e4" />
<circle cx="578.90" cy="607.80" r="2.20" fill="#6462e6" />
<circle cx="578.90" cy="626.80" r="4.40" fill="#5a70f4" />
<circle cx="544.20" cy="645.80" r="4.40" fill="#5572fb" />
<circle cx="578.90" cy="645.80" r="4.40" fill="#5572fb" />
<circle cx="544.20" cy="665.10" r="4.00" fill="#b00012" />
<circle cx="578.90" cy="665.10" r="4.50" fill="#b00012" />
<circle cx="544.20" cy="684.10" r="4.10" fill="#9450b0" />
<circle cx="578.90" cy="684.10" r="4.60" fill="#9450b0" />
<circle cx="544.20" cy="703.20" r="4.30" fill="#6f5fe0" />
<circle cx="578.90" cy="703.20" r="5.70" fill="#7060de" />
<circle cx="544.20" cy="722.50" r="3.80" fill="#5472fb" />
<circle cx="578.90" cy="722.50" r="7.10" fill="#7858dc" />
<text x="544.80" y="738.00" font-size="9.5" text-anchor="end" fill="#1c1c1c" transform="rotate(-45 544.80 738.00)" dominant-baseline="hanging">G609G/+</text>
<text x="575.00" y="739.60" font-size="9.5" text-anchor="end" fill="#1c1c1c" transform="rotate(-45 575.00 739.60)" dominant-baseline="hanging">G609G</text>
<text x="585.00" y="745.50" font-size="9.5" text-anchor="end" fill="#1c1c1c" transform="rotate(-45 585.00 745.50)" dominant-baseline="hanging">G609G/</text>
<text x="606.80" y="571.80" font-size="9.2" fill="#1c1c1c">−log<tspan font-size="6" dy="2">10</tspan><tspan dy="-2">(</tspan><tspan font-style="italic">P</tspan>)</text>
<circle cx="625.00" cy="583.20" r="3.90" fill="#000" />
<text x="635.10" y="586.10" font-size="8.4" fill="#1c1c1c">2</text>
<circle cx="625.00" cy="601.00" r="5.40" fill="#000" />
<text x="635.10" y="603.90" font-size="8.4" fill="#1c1c1c">4</text>
<circle cx="625.00" cy="618.50" r="6.50" fill="#000" />
<text x="635.10" y="621.40" font-size="8.4" fill="#1c1c1c">6</text>
<text x="602.90" y="649.90" font-size="9.2" fill="#1c1c1c" textLength="44.9" lengthAdjust="spacingAndGlyphs">Gene ratio</text>
<rect x="616.00" y="657.90" width="18.20" height="87.80" fill="url(#gr)" />
<line x1="616.00" y1="666.40" x2="619.50" y2="666.40" stroke="#fff" stroke-width="0.6" opacity="0.7" shape-rendering="crispEdges"/>
<line x1="630.70" y1="666.40" x2="634.20" y2="666.40" stroke="#fff" stroke-width="0.6" opacity="0.7" shape-rendering="crispEdges"/>
<text x="638.60" y="669.40" font-size="8.4" fill="#1c1c1c">8</text>
<line x1="616.00" y1="687.80" x2="619.50" y2="687.80" stroke="#fff" stroke-width="0.6" opacity="0.7" shape-rendering="crispEdges"/>
<line x1="630.70" y1="687.80" x2="634.20" y2="687.80" stroke="#fff" stroke-width="0.6" opacity="0.7" shape-rendering="crispEdges"/>
<text x="638.60" y="690.80" font-size="8.4" fill="#1c1c1c">6</text>
<line x1="616.00" y1="709.50" x2="619.50" y2="709.50" stroke="#fff" stroke-width="0.6" opacity="0.7" shape-rendering="crispEdges"/>
<line x1="630.70" y1="709.50" x2="634.20" y2="709.50" stroke="#fff" stroke-width="0.6" opacity="0.7" shape-rendering="crispEdges"/>
<text x="638.60" y="712.50" font-size="8.4" fill="#1c1c1c">4</text>
<line x1="616.00" y1="731.50" x2="619.50" y2="731.50" stroke="#fff" stroke-width="0.6" opacity="0.7" shape-rendering="crispEdges"/>
<line x1="630.70" y1="731.50" x2="634.20" y2="731.50" stroke="#fff" stroke-width="0.6" opacity="0.7" shape-rendering="crispEdges"/>
<text x="638.60" y="734.50" font-size="8.4" fill="#1c1c1c">2</text>
<text x="8.80" y="800.00" font-size="12.5" fill="#000" font-weight="bold">m</text>
<text x="64.20" y="835.40" font-size="9.4" text-anchor="end" fill="#1c1c1c"><tspan font-style="italic">Lmna</tspan>:</text>
<filter id="noise" x="0" y="0" width="100%" height="100%"><feTurbulence type="fractalNoise" baseFrequency="0.9" numOctaves="2" seed="4"/><feColorMatrix type="saturate" values="0"/><feComponentTransfer><feFuncA type="linear" slope="0.35"/></feComponentTransfer></filter>
<rect x="69.30" y="839.20" width="101.50" height="27.40" fill="#8f8f8f" stroke="#3a3a3a" stroke-width="0.8" />
<rect x="69.3" y="839.2" width="101.50000000000001" height="27.4" filter="url(#noise)" opacity="0.8"/>
<rect x="69.30" y="869.10" width="101.50" height="24.50" fill="#c9c9c9" stroke="#3a3a3a" stroke-width="0.8" />
<rect x="69.30" y="895.40" width="101.50" height="27.20" fill="#d0d0d0" stroke="#3a3a3a" stroke-width="0.8" />
<ellipse cx="86.9" cy="852.7" rx="13.5" ry="2.3" fill="#000" opacity="1.0" filter="url(#bl1)"/>
<ellipse cx="119.7" cy="853.0" rx="12.0" ry="1.7" fill="#0e0e0e" opacity="0.95" filter="url(#bl1)"/>
<ellipse cx="152.4" cy="853.5" rx="12.5" ry="1.4" fill="#333" opacity="0.7" filter="url(#bl1)"/>
<ellipse cx="86.9" cy="881.3" rx="12.5" ry="2.1" fill="#111" opacity="1.0" filter="url(#bl1)"/>
<ellipse cx="120.0" cy="881.3" rx="11.5" ry="1.8" fill="#3a3a3a" opacity="0.95" filter="url(#bl1)"/>
<ellipse cx="154.6" cy="881.3" rx="11.0" ry="1.3" fill="#8a8a8a" opacity="0.7" filter="url(#bl1)"/>
<ellipse cx="86.3" cy="908.6" rx="13.5" ry="1.5" fill="#3c3c3c" opacity="0.95" filter="url(#bl1)"/>
<ellipse cx="120.0" cy="910.0" rx="13.0" ry="1.7" fill="#3a3a3a" opacity="0.95" filter="url(#bl1)"/>
<ellipse cx="152.9" cy="910.0" rx="13.5" ry="1.7" fill="#3a3a3a" opacity="0.95" filter="url(#bl1)"/>
<text x="64.00" y="855.30" font-size="9.4" text-anchor="end" fill="#1c1c1c">CTH</text>
<text x="64.00" y="885.90" font-size="9.4" text-anchor="end" fill="#1c1c1c">CBS</text>
<text x="64.00" y="911.80" font-size="9.4" text-anchor="end" fill="#1c1c1c" textLength="39.6" lengthAdjust="spacingAndGlyphs">α-tubulin</text>
<text x="172.00" y="834.70" font-size="9.0" fill="#1c1c1c">kDa</text>
<line x1="170.80" y1="842.90" x2="174.40" y2="842.90" stroke="#666" stroke-width="0.8"  shape-rendering="crispEdges"/>
<text x="179.00" y="845.90" font-size="8.4" fill="#242424">55</text>
<line x1="170.80" y1="884.20" x2="174.40" y2="884.20" stroke="#666" stroke-width="0.8"  shape-rendering="crispEdges"/>
<text x="179.00" y="887.20" font-size="8.4" fill="#242424">55</text>
<line x1="170.80" y1="910.00" x2="174.40" y2="910.00" stroke="#666" stroke-width="0.8"  shape-rendering="crispEdges"/>
<text x="179.00" y="913.00" font-size="8.4" fill="#242424">55</text>
<text x="86.00" y="833.20" font-size="9.8" fill="#1c1c1c" transform="rotate(-45 86.00 833.20)">+/+</text>
<text x="117.60" y="833.20" font-size="9.8" fill="#1c1c1c" transform="rotate(-45 117.60 833.20)">G609G/+</text>
<text x="143.20" y="828.00" font-size="9.8" fill="#1c1c1c" transform="rotate(-45 143.20 828.00)">G609G/</text>
<text x="152.40" y="834.20" font-size="9.8" fill="#1c1c1c" transform="rotate(-45 152.40 834.20)">G609G</text>
<text x="224.00" y="800.10" font-size="12.5" fill="#000" font-weight="bold">n</text>
<line x1="260.40" y1="817.50" x2="260.40" y2="927.40" stroke="#555" stroke-width="0.8"  shape-rendering="crispEdges"/>
<line x1="257.20" y1="927.40" x2="260.40" y2="927.40" stroke="#555" stroke-width="0.8"  shape-rendering="crispEdges"/>
<text x="252.60" y="930.30" font-size="8.4" text-anchor="end" fill="#242424">0</text>
<line x1="257.20" y1="890.75" x2="260.40" y2="890.75" stroke="#555" stroke-width="0.8"  shape-rendering="crispEdges"/>
<text x="252.60" y="893.65" font-size="8.4" text-anchor="end" fill="#242424">0.5</text>
<line x1="257.20" y1="854.10" x2="260.40" y2="854.10" stroke="#555" stroke-width="0.8"  shape-rendering="crispEdges"/>
<text x="252.60" y="857.00" font-size="8.4" text-anchor="end" fill="#242424">1.0</text>
<line x1="257.20" y1="817.45" x2="260.40" y2="817.45" stroke="#555" stroke-width="0.8"  shape-rendering="crispEdges"/>
<text x="252.60" y="820.35" font-size="8.4" text-anchor="end" fill="#242424">1.5</text>
<line x1="256.00" y1="927.40" x2="334.40" y2="927.40" stroke="#555" stroke-width="0.9"  shape-rendering="crispEdges"/>
<rect x="268.20" y="851.90" width="14.60" height="75.50" fill="#d3d3d3" stroke="#8a8a8a" stroke-width="0.6" />
<line x1="275.40" y1="927.40" x2="275.40" y2="932.00" stroke="#555" stroke-width="0.8"  shape-rendering="crispEdges"/>
<line x1="275.40" y1="841.70" x2="275.40" y2="866.00" stroke="#333" stroke-width="0.7"  shape-rendering="crispEdges"/>
<line x1="272.00" y1="841.70" x2="278.80" y2="841.70" stroke="#333" stroke-width="0.7"  shape-rendering="crispEdges"/>
<line x1="272.00" y1="866.00" x2="278.80" y2="866.00" stroke="#333" stroke-width="0.7"  shape-rendering="crispEdges"/>
<rect x="290.20" y="900.28" width="14.60" height="27.12" fill="#9ac4f8" stroke="#7aa6e0" stroke-width="0.6" />
<line x1="297.40" y1="927.40" x2="297.40" y2="932.00" stroke="#555" stroke-width="0.8"  shape-rendering="crispEdges"/>
<line x1="297.40" y1="885.30" x2="297.40" y2="913.50" stroke="#333" stroke-width="0.7"  shape-rendering="crispEdges"/>
<line x1="294.00" y1="885.30" x2="300.80" y2="885.30" stroke="#333" stroke-width="0.7"  shape-rendering="crispEdges"/>
<line x1="294.00" y1="913.50" x2="300.80" y2="913.50" stroke="#333" stroke-width="0.7"  shape-rendering="crispEdges"/>
<rect x="312.20" y="917.14" width="14.60" height="10.26" fill="#1590a8" stroke="#0e7489" stroke-width="0.6" />
<line x1="319.40" y1="927.40" x2="319.40" y2="932.00" stroke="#555" stroke-width="0.8"  shape-rendering="crispEdges"/>
<line x1="319.40" y1="906.00" x2="319.40" y2="921.00" stroke="#333" stroke-width="0.7"  shape-rendering="crispEdges"/>
<line x1="316.00" y1="906.00" x2="322.80" y2="906.00" stroke="#333" stroke-width="0.7"  shape-rendering="crispEdges"/>
<line x1="316.00" y1="921.00" x2="322.80" y2="921.00" stroke="#333" stroke-width="0.7"  shape-rendering="crispEdges"/>
<circle cx="275.40" cy="831.40" r="2.30" fill="#fff" stroke="#1e1e1e" stroke-width="0.7" />
<circle cx="270.50" cy="851.80" r="2.30" fill="#fff" stroke="#1e1e1e" stroke-width="0.7" />
<circle cx="270.50" cy="856.70" r="2.30" fill="#fff" stroke="#1e1e1e" stroke-width="0.7" />
<circle cx="280.60" cy="854.30" r="2.30" fill="#fff" stroke="#1e1e1e" stroke-width="0.7" />
<circle cx="280.60" cy="860.80" r="2.30" fill="#fff" stroke="#1e1e1e" stroke-width="0.7" />
<circle cx="275.40" cy="867.80" r="2.30" fill="#fff" stroke="#1e1e1e" stroke-width="0.7" />
<circle cx="297.40" cy="880.40" r="2.30" fill="#fff" stroke="#1e1e1e" stroke-width="0.7" />
<circle cx="297.40" cy="889.00" r="2.30" fill="#fff" stroke="#1e1e1e" stroke-width="0.7" />
<circle cx="297.40" cy="896.40" r="2.30" fill="#fff" stroke="#1e1e1e" stroke-width="0.7" />
<circle cx="297.40" cy="902.40" r="2.30" fill="#fff" stroke="#1e1e1e" stroke-width="0.7" />
<circle cx="292.00" cy="916.30" r="2.30" fill="#fff" stroke="#1e1e1e" stroke-width="0.7" />
<circle cx="302.30" cy="913.00" r="2.30" fill="#fff" stroke="#1e1e1e" stroke-width="0.7" />
<circle cx="319.50" cy="900.80" r="2.30" fill="#fff" stroke="#1e1e1e" stroke-width="0.7" />
<circle cx="319.50" cy="907.00" r="2.30" fill="#fff" stroke="#1e1e1e" stroke-width="0.7" />
<circle cx="319.50" cy="916.80" r="2.30" fill="#fff" stroke="#1e1e1e" stroke-width="0.7" />
<circle cx="314.10" cy="927.40" r="2.30" fill="#fff" stroke="#1e1e1e" stroke-width="0.7" />
<circle cx="319.50" cy="924.40" r="2.30" fill="#fff" stroke="#1e1e1e" stroke-width="0.7" />
<circle cx="322.70" cy="924.90" r="2.30" fill="#fff" stroke="#1e1e1e" stroke-width="0.7" />
<text x="297.30" y="796.00" font-size="9.4" text-anchor="middle" fill="#1c1c1c" textLength="37.2" lengthAdjust="spacingAndGlyphs">Cysteine</text>
<line x1="274.10" y1="815.10" x2="318.10" y2="815.10" stroke="#606060" stroke-width="0.75"  shape-rendering="crispEdges"/>
<text x="296.10" y="813.30" font-size="6.4" text-anchor="middle" fill="#242424" textLength="20.3" lengthAdjust="spacingAndGlyphs">&lt;0.001</text>
<line x1="274.10" y1="826.20" x2="300.70" y2="826.20" stroke="#606060" stroke-width="0.75"  shape-rendering="crispEdges"/>
<text x="287.40" y="824.40" font-size="6.4" text-anchor="middle" fill="#242424" textLength="20.3" lengthAdjust="spacingAndGlyphs">&lt;0.001</text>
<line x1="360.40" y1="817.50" x2="360.40" y2="927.40" stroke="#555" stroke-width="0.8"  shape-rendering="crispEdges"/>
<line x1="357.20" y1="927.40" x2="360.40" y2="927.40" stroke="#555" stroke-width="0.8"  shape-rendering="crispEdges"/>
<text x="352.60" y="930.30" font-size="8.4" text-anchor="end" fill="#242424">0</text>
<line x1="357.20" y1="890.75" x2="360.40" y2="890.75" stroke="#555" stroke-width="0.8"  shape-rendering="crispEdges"/>
<text x="352.60" y="893.65" font-size="8.4" text-anchor="end" fill="#242424">0.5</text>
<line x1="357.20" y1="854.10" x2="360.40" y2="854.10" stroke="#555" stroke-width="0.8"  shape-rendering="crispEdges"/>
<text x="352.60" y="857.00" font-size="8.4" text-anchor="end" fill="#242424">1.0</text>
<line x1="357.20" y1="817.45" x2="360.40" y2="817.45" stroke="#555" stroke-width="0.8"  shape-rendering="crispEdges"/>
<text x="352.60" y="820.35" font-size="8.4" text-anchor="end" fill="#242424">1.5</text>
<line x1="356.00" y1="927.40" x2="434.40" y2="927.40" stroke="#555" stroke-width="0.9"  shape-rendering="crispEdges"/>
<rect x="368.20" y="851.90" width="14.60" height="75.50" fill="#d3d3d3" stroke="#8a8a8a" stroke-width="0.6" />
<line x1="375.40" y1="927.40" x2="375.40" y2="932.00" stroke="#555" stroke-width="0.8"  shape-rendering="crispEdges"/>
<line x1="375.40" y1="843.70" x2="375.40" y2="860.00" stroke="#333" stroke-width="0.7"  shape-rendering="crispEdges"/>
<line x1="372.00" y1="843.70" x2="378.80" y2="843.70" stroke="#333" stroke-width="0.7"  shape-rendering="crispEdges"/>
<line x1="372.00" y1="860.00" x2="378.80" y2="860.00" stroke="#333" stroke-width="0.7"  shape-rendering="crispEdges"/>
<rect x="390.20" y="893.68" width="14.60" height="33.72" fill="#9ac4f8" stroke="#7aa6e0" stroke-width="0.6" />
<line x1="397.40" y1="927.40" x2="397.40" y2="932.00" stroke="#555" stroke-width="0.8"  shape-rendering="crispEdges"/>
<line x1="397.40" y1="881.50" x2="397.40" y2="906.50" stroke="#333" stroke-width="0.7"  shape-rendering="crispEdges"/>
<line x1="394.00" y1="881.50" x2="400.80" y2="881.50" stroke="#333" stroke-width="0.7"  shape-rendering="crispEdges"/>
<line x1="394.00" y1="906.50" x2="400.80" y2="906.50" stroke="#333" stroke-width="0.7"  shape-rendering="crispEdges"/>
<rect x="412.20" y="904.68" width="14.60" height="22.72" fill="#1590a8" stroke="#0e7489" stroke-width="0.6" />
<line x1="419.40" y1="927.40" x2="419.40" y2="932.00" stroke="#555" stroke-width="0.8"  shape-rendering="crispEdges"/>
<line x1="419.40" y1="894.20" x2="419.40" y2="914.20" stroke="#333" stroke-width="0.7"  shape-rendering="crispEdges"/>
<line x1="416.00" y1="894.20" x2="422.80" y2="894.20" stroke="#333" stroke-width="0.7"  shape-rendering="crispEdges"/>
<line x1="416.00" y1="914.20" x2="422.80" y2="914.20" stroke="#333" stroke-width="0.7"  shape-rendering="crispEdges"/>
<circle cx="375.40" cy="838.30" r="2.30" fill="#fff" stroke="#1e1e1e" stroke-width="0.7" />
<circle cx="370.20" cy="850.20" r="2.30" fill="#fff" stroke="#1e1e1e" stroke-width="0.7" />
<circle cx="370.20" cy="855.40" r="2.30" fill="#fff" stroke="#1e1e1e" stroke-width="0.7" />
<circle cx="380.60" cy="849.70" r="2.30" fill="#fff" stroke="#1e1e1e" stroke-width="0.7" />
<circle cx="380.60" cy="857.50" r="2.30" fill="#fff" stroke="#1e1e1e" stroke-width="0.7" />
<circle cx="370.20" cy="861.60" r="2.30" fill="#fff" stroke="#1e1e1e" stroke-width="0.7" />
<circle cx="392.00" cy="881.50" r="2.30" fill="#fff" stroke="#1e1e1e" stroke-width="0.7" />
<circle cx="402.60" cy="877.90" r="2.30" fill="#fff" stroke="#1e1e1e" stroke-width="0.7" />
<circle cx="392.00" cy="894.70" r="2.30" fill="#fff" stroke="#1e1e1e" stroke-width="0.7" />
<circle cx="402.60" cy="892.60" r="2.30" fill="#fff" stroke="#1e1e1e" stroke-width="0.7" />
<circle cx="392.00" cy="909.80" r="2.30" fill="#fff" stroke="#1e1e1e" stroke-width="0.7" />
<circle cx="402.60" cy="907.00" r="2.30" fill="#fff" stroke="#1e1e1e" stroke-width="0.7" />
<circle cx="419.10" cy="887.70" r="2.30" fill="#fff" stroke="#1e1e1e" stroke-width="0.7" />
<circle cx="414.10" cy="900.50" r="2.30" fill="#fff" stroke="#1e1e1e" stroke-width="0.7" />
<circle cx="414.10" cy="907.00" r="2.30" fill="#fff" stroke="#1e1e1e" stroke-width="0.7" />
<circle cx="419.10" cy="916.80" r="2.30" fill="#fff" stroke="#1e1e1e" stroke-width="0.7" />
<circle cx="424.50" cy="904.40" r="2.30" fill="#fff" stroke="#1e1e1e" stroke-width="0.7" />
<circle cx="424.50" cy="910.60" r="2.30" fill="#fff" stroke="#1e1e1e" stroke-width="0.7" />
<text x="397.30" y="796.00" font-size="9.4" text-anchor="middle" fill="#1c1c1c" textLength="37.4" lengthAdjust="spacingAndGlyphs">Pyruvate</text>
<line x1="376.20" y1="821.30" x2="420.80" y2="821.30" stroke="#606060" stroke-width="0.75"  shape-rendering="crispEdges"/>
<text x="398.50" y="819.30" font-size="6.4" text-anchor="middle" fill="#242424" textLength="20.3" lengthAdjust="spacingAndGlyphs">&lt;0.001</text>
<line x1="375.10" y1="832.60" x2="401.50" y2="832.60" stroke="#606060" stroke-width="0.75"  shape-rendering="crispEdges"/>
<text x="388.30" y="830.60" font-size="6.4" text-anchor="middle" fill="#242424" textLength="20.3" lengthAdjust="spacingAndGlyphs">&lt;0.001</text>
<line x1="458.30" y1="817.50" x2="458.30" y2="927.40" stroke="#555" stroke-width="0.8"  shape-rendering="crispEdges"/>
<line x1="455.10" y1="927.40" x2="458.30" y2="927.40" stroke="#555" stroke-width="0.8"  shape-rendering="crispEdges"/>
<text x="450.50" y="930.30" font-size="8.4" text-anchor="end" fill="#242424">0</text>
<line x1="455.10" y1="890.75" x2="458.30" y2="890.75" stroke="#555" stroke-width="0.8"  shape-rendering="crispEdges"/>
<text x="450.50" y="893.65" font-size="8.4" text-anchor="end" fill="#242424">0.5</text>
<line x1="455.10" y1="854.10" x2="458.30" y2="854.10" stroke="#555" stroke-width="0.8"  shape-rendering="crispEdges"/>
<text x="450.50" y="857.00" font-size="8.4" text-anchor="end" fill="#242424">1.0</text>
<line x1="455.10" y1="817.45" x2="458.30" y2="817.45" stroke="#555" stroke-width="0.8"  shape-rendering="crispEdges"/>
<text x="450.50" y="820.35" font-size="8.4" text-anchor="end" fill="#242424">1.5</text>
<line x1="453.90" y1="927.40" x2="532.30" y2="927.40" stroke="#555" stroke-width="0.9"  shape-rendering="crispEdges"/>
<rect x="466.10" y="854.10" width="14.60" height="73.30" fill="#d3d3d3" stroke="#8a8a8a" stroke-width="0.6" />
<line x1="473.30" y1="927.40" x2="473.30" y2="932.00" stroke="#555" stroke-width="0.8"  shape-rendering="crispEdges"/>
<line x1="473.30" y1="839.60" x2="473.30" y2="867.30" stroke="#333" stroke-width="0.7"  shape-rendering="crispEdges"/>
<line x1="469.90" y1="839.60" x2="476.70" y2="839.60" stroke="#333" stroke-width="0.7"  shape-rendering="crispEdges"/>
<line x1="469.90" y1="867.30" x2="476.70" y2="867.30" stroke="#333" stroke-width="0.7"  shape-rendering="crispEdges"/>
<rect x="488.10" y="881.22" width="14.60" height="46.18" fill="#9ac4f8" stroke="#7aa6e0" stroke-width="0.6" />
<line x1="495.30" y1="927.40" x2="495.30" y2="932.00" stroke="#555" stroke-width="0.8"  shape-rendering="crispEdges"/>
<line x1="495.30" y1="870.30" x2="495.30" y2="890.70" stroke="#333" stroke-width="0.7"  shape-rendering="crispEdges"/>
<line x1="491.90" y1="870.30" x2="498.70" y2="870.30" stroke="#333" stroke-width="0.7"  shape-rendering="crispEdges"/>
<line x1="491.90" y1="890.70" x2="498.70" y2="890.70" stroke="#333" stroke-width="0.7"  shape-rendering="crispEdges"/>
<rect x="510.10" y="892.95" width="14.60" height="34.45" fill="#1590a8" stroke="#0e7489" stroke-width="0.6" />
<line x1="517.30" y1="927.40" x2="517.30" y2="932.00" stroke="#555" stroke-width="0.8"  shape-rendering="crispEdges"/>
<line x1="517.30" y1="885.30" x2="517.30" y2="901.10" stroke="#333" stroke-width="0.7"  shape-rendering="crispEdges"/>
<line x1="513.90" y1="885.30" x2="520.70" y2="885.30" stroke="#333" stroke-width="0.7"  shape-rendering="crispEdges"/>
<line x1="513.90" y1="901.10" x2="520.70" y2="901.10" stroke="#333" stroke-width="0.7"  shape-rendering="crispEdges"/>
<circle cx="473.30" cy="828.60" r="2.30" fill="#fff" stroke="#1e1e1e" stroke-width="0.7" />
<circle cx="467.60" cy="853.40" r="2.30" fill="#fff" stroke="#1e1e1e" stroke-width="0.7" />
<circle cx="473.30" cy="852.30" r="2.30" fill="#fff" stroke="#1e1e1e" stroke-width="0.7" />
<circle cx="473.30" cy="857.50" r="2.30" fill="#fff" stroke="#1e1e1e" stroke-width="0.7" />
<circle cx="478.70" cy="855.90" r="2.30" fill="#fff" stroke="#1e1e1e" stroke-width="0.7" />
<circle cx="473.30" cy="871.90" r="2.30" fill="#fff" stroke="#1e1e1e" stroke-width="0.7" />
<circle cx="495.30" cy="871.70" r="2.30" fill="#fff" stroke="#1e1e1e" stroke-width="0.7" />
<circle cx="500.20" cy="867.80" r="2.30" fill="#fff" stroke="#1e1e1e" stroke-width="0.7" />
<circle cx="489.80" cy="882.30" r="2.30" fill="#fff" stroke="#1e1e1e" stroke-width="0.7" />
<circle cx="500.20" cy="882.50" r="2.30" fill="#fff" stroke="#1e1e1e" stroke-width="0.7" />
<circle cx="495.30" cy="884.80" r="2.30" fill="#fff" stroke="#1e1e1e" stroke-width="0.7" />
<circle cx="495.30" cy="895.60" r="2.30" fill="#fff" stroke="#1e1e1e" stroke-width="0.7" />
<circle cx="517.30" cy="881.50" r="2.30" fill="#fff" stroke="#1e1e1e" stroke-width="0.7" />
<circle cx="517.30" cy="888.00" r="2.30" fill="#fff" stroke="#1e1e1e" stroke-width="0.7" />
<circle cx="512.10" cy="893.90" r="2.30" fill="#fff" stroke="#1e1e1e" stroke-width="0.7" />
<circle cx="522.20" cy="892.90" r="2.30" fill="#fff" stroke="#1e1e1e" stroke-width="0.7" />
<circle cx="522.20" cy="897.20" r="2.30" fill="#fff" stroke="#1e1e1e" stroke-width="0.7" />
<circle cx="517.30" cy="904.40" r="2.30" fill="#fff" stroke="#1e1e1e" stroke-width="0.7" />
<text x="495.20" y="796.00" font-size="9.4" text-anchor="middle" fill="#1c1c1c" textLength="48.6" lengthAdjust="spacingAndGlyphs">Acetyl-CoA</text>
<line x1="473.30" y1="813.10" x2="517.00" y2="813.10" stroke="#606060" stroke-width="0.75"  shape-rendering="crispEdges"/>
<text x="495.15" y="811.30" font-size="6.4" text-anchor="middle" fill="#242424" textLength="20.3" lengthAdjust="spacingAndGlyphs">&lt;0.001</text>
<line x1="471.30" y1="824.10" x2="497.70" y2="824.10" stroke="#606060" stroke-width="0.75"  shape-rendering="crispEdges"/>
<text x="484.50" y="822.60" font-size="6.4" text-anchor="middle" fill="#242424" textLength="21.5" lengthAdjust="spacingAndGlyphs">0.0016</text>
<text x="231.60" y="872.60" font-size="9.6" text-anchor="middle" fill="#1c1c1c" transform="rotate(-90 231.60 872.60)" textLength="85.7" lengthAdjust="spacingAndGlyphs">Relative abundance</text>
<circle cx="545.30" cy="829.00" r="3.90" fill="#d3d3d3" stroke="#a9a9a9" stroke-width="0.6" />
<text x="551.70" y="832.50" font-size="9.8" fill="#1c1c1c" textLength="32.7" lengthAdjust="spacingAndGlyphs">Control</text>
<circle cx="545.30" cy="844.60" r="3.90" fill="#9ec4f7" />
<text x="551.70" y="848.50" font-size="9.8" fill="#1c1c1c"><tspan font-style="italic">Lmna</tspan><tspan font-size="6.6" dy="-4.2">G609G/+</tspan></text>
<circle cx="545.30" cy="861.70" r="3.90" fill="#158fa7" />
<text x="551.70" y="865.40" font-size="9.8" fill="#1c1c1c"><tspan font-style="italic">Lmna</tspan><tspan font-size="6.6" dy="-4.2">G609G/G609G</tspan></text>
</svg>
</body></html>
